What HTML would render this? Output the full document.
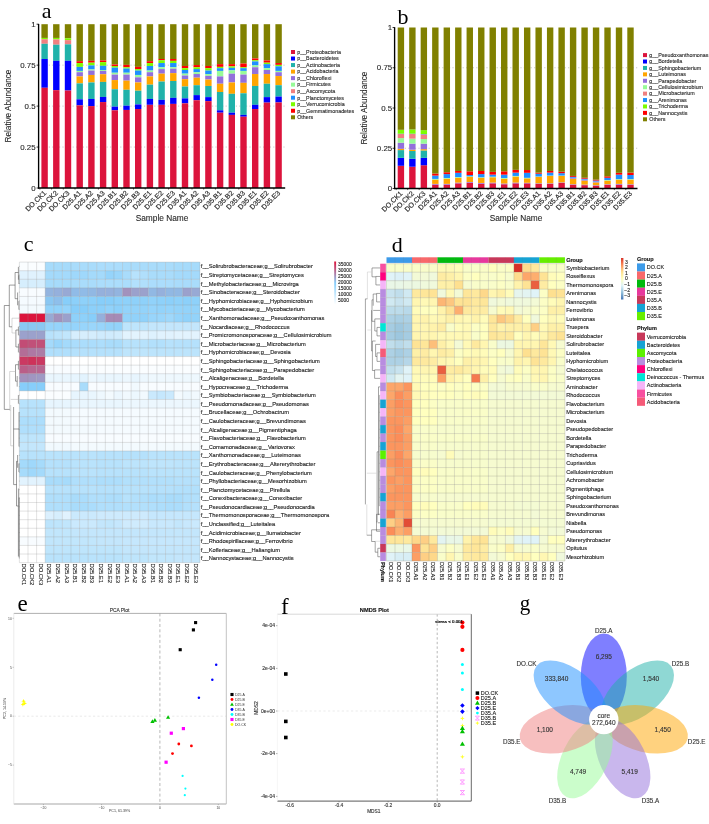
<!DOCTYPE html>
<html><head><meta charset="utf-8"><title>Figure</title>
<style>
html,body{margin:0;padding:0;background:#fff;}
body{width:709px;height:824px;overflow:hidden;font-family:"Liberation Sans",sans-serif;}
svg{display:block;filter:blur(0.35px);}
</style></head><body>
<svg width="709" height="824" viewBox="0 0 709 824">
<rect x="0" y="0" width="709" height="824" fill="#ffffff"/>
<line x1="38.60" y1="147.05" x2="286.00" y2="147.05" stroke="#b4b4b4" stroke-width="0.7" stroke-dasharray="1.2 2.2"/>
<line x1="38.60" y1="106.10" x2="286.00" y2="106.10" stroke="#b4b4b4" stroke-width="0.7" stroke-dasharray="1.2 2.2"/>
<line x1="38.60" y1="65.15" x2="286.00" y2="65.15" stroke="#b4b4b4" stroke-width="0.7" stroke-dasharray="1.2 2.2"/>
<rect x="41.40" y="24.20" width="6.40" height="13.74" fill="#808000"/>
<rect x="41.40" y="37.94" width="6.40" height="1.28" fill="#7CFC00"/>
<rect x="41.40" y="39.22" width="6.40" height="4.58" fill="#F08080"/>
<rect x="41.40" y="43.80" width="6.40" height="15.21" fill="#20B2AA"/>
<rect x="41.40" y="59.01" width="6.40" height="28.77" fill="#0000FF"/>
<rect x="41.40" y="87.78" width="6.40" height="100.22" fill="#DC143C"/>
<rect x="53.10" y="24.20" width="6.40" height="13.74" fill="#808000"/>
<rect x="53.10" y="37.94" width="6.40" height="1.47" fill="#7CFC00"/>
<rect x="53.10" y="39.41" width="6.40" height="5.31" fill="#F08080"/>
<rect x="53.10" y="44.72" width="6.40" height="16.12" fill="#20B2AA"/>
<rect x="53.10" y="60.84" width="6.40" height="29.32" fill="#0000FF"/>
<rect x="53.10" y="90.16" width="6.40" height="97.84" fill="#DC143C"/>
<rect x="64.80" y="24.20" width="6.40" height="14.11" fill="#808000"/>
<rect x="64.80" y="38.31" width="6.40" height="1.83" fill="#7CFC00"/>
<rect x="64.80" y="40.14" width="6.40" height="4.21" fill="#F08080"/>
<rect x="64.80" y="44.35" width="6.40" height="16.49" fill="#20B2AA"/>
<rect x="64.80" y="60.84" width="6.40" height="29.68" fill="#0000FF"/>
<rect x="64.80" y="90.53" width="6.40" height="97.47" fill="#DC143C"/>
<rect x="76.50" y="24.20" width="6.40" height="37.01" fill="#808000"/>
<rect x="76.50" y="61.21" width="6.40" height="1.83" fill="#FF0000"/>
<rect x="76.50" y="63.04" width="6.40" height="3.85" fill="#7CFC00"/>
<rect x="76.50" y="66.89" width="6.40" height="4.03" fill="#1E90FF"/>
<rect x="76.50" y="70.92" width="6.40" height="1.28" fill="#98FB98"/>
<rect x="76.50" y="72.20" width="6.40" height="4.21" fill="#9370DB"/>
<rect x="76.50" y="76.42" width="6.40" height="6.96" fill="#FFA500"/>
<rect x="76.50" y="83.38" width="6.40" height="15.94" fill="#20B2AA"/>
<rect x="76.50" y="99.32" width="6.40" height="6.05" fill="#0000FF"/>
<rect x="76.50" y="105.37" width="6.40" height="82.63" fill="#DC143C"/>
<rect x="88.20" y="24.20" width="6.40" height="36.64" fill="#808000"/>
<rect x="88.20" y="60.84" width="6.40" height="1.83" fill="#FF0000"/>
<rect x="88.20" y="62.68" width="6.40" height="2.75" fill="#7CFC00"/>
<rect x="88.20" y="65.42" width="6.40" height="4.03" fill="#1E90FF"/>
<rect x="88.20" y="69.46" width="6.40" height="1.10" fill="#98FB98"/>
<rect x="88.20" y="70.56" width="6.40" height="4.40" fill="#9370DB"/>
<rect x="88.20" y="74.95" width="6.40" height="7.51" fill="#FFA500"/>
<rect x="88.20" y="82.46" width="6.40" height="16.49" fill="#20B2AA"/>
<rect x="88.20" y="98.95" width="6.40" height="7.15" fill="#0000FF"/>
<rect x="88.20" y="106.10" width="6.40" height="81.90" fill="#DC143C"/>
<rect x="99.90" y="24.20" width="6.40" height="36.28" fill="#808000"/>
<rect x="99.90" y="60.48" width="6.40" height="1.65" fill="#FF0000"/>
<rect x="99.90" y="62.13" width="6.40" height="3.66" fill="#7CFC00"/>
<rect x="99.90" y="65.79" width="6.40" height="4.21" fill="#1E90FF"/>
<rect x="99.90" y="70.01" width="6.40" height="0.92" fill="#98FB98"/>
<rect x="99.90" y="70.92" width="6.40" height="3.30" fill="#9370DB"/>
<rect x="99.90" y="74.22" width="6.40" height="7.70" fill="#FFA500"/>
<rect x="99.90" y="81.91" width="6.40" height="15.02" fill="#20B2AA"/>
<rect x="99.90" y="96.94" width="6.40" height="5.13" fill="#0000FF"/>
<rect x="99.90" y="102.07" width="6.40" height="85.93" fill="#DC143C"/>
<rect x="111.60" y="24.20" width="6.40" height="40.31" fill="#808000"/>
<rect x="111.60" y="64.51" width="6.40" height="1.47" fill="#FF0000"/>
<rect x="111.60" y="65.97" width="6.40" height="1.65" fill="#7CFC00"/>
<rect x="111.60" y="67.62" width="6.40" height="5.13" fill="#1E90FF"/>
<rect x="111.60" y="72.75" width="6.40" height="1.83" fill="#98FB98"/>
<rect x="111.60" y="74.59" width="6.40" height="5.50" fill="#9370DB"/>
<rect x="111.60" y="80.08" width="6.40" height="9.16" fill="#FFA500"/>
<rect x="111.60" y="89.24" width="6.40" height="17.41" fill="#20B2AA"/>
<rect x="111.60" y="106.65" width="6.40" height="3.66" fill="#0000FF"/>
<rect x="111.60" y="110.31" width="6.40" height="77.69" fill="#DC143C"/>
<rect x="123.30" y="24.20" width="6.40" height="40.68" fill="#808000"/>
<rect x="123.30" y="64.88" width="6.40" height="2.38" fill="#FF0000"/>
<rect x="123.30" y="67.26" width="6.40" height="1.28" fill="#7CFC00"/>
<rect x="123.30" y="68.54" width="6.40" height="4.21" fill="#1E90FF"/>
<rect x="123.30" y="72.75" width="6.40" height="1.83" fill="#98FB98"/>
<rect x="123.30" y="74.59" width="6.40" height="6.05" fill="#9370DB"/>
<rect x="123.30" y="80.63" width="6.40" height="9.16" fill="#FFA500"/>
<rect x="123.30" y="89.79" width="6.40" height="15.94" fill="#20B2AA"/>
<rect x="123.30" y="105.73" width="6.40" height="4.21" fill="#0000FF"/>
<rect x="123.30" y="109.95" width="6.40" height="78.05" fill="#DC143C"/>
<rect x="135.00" y="24.20" width="6.40" height="42.69" fill="#808000"/>
<rect x="135.00" y="66.89" width="6.40" height="2.20" fill="#FF0000"/>
<rect x="135.00" y="69.09" width="6.40" height="1.47" fill="#7CFC00"/>
<rect x="135.00" y="70.56" width="6.40" height="4.40" fill="#1E90FF"/>
<rect x="135.00" y="74.95" width="6.40" height="2.38" fill="#98FB98"/>
<rect x="135.00" y="77.33" width="6.40" height="5.13" fill="#9370DB"/>
<rect x="135.00" y="82.46" width="6.40" height="8.24" fill="#FFA500"/>
<rect x="135.00" y="90.71" width="6.40" height="13.74" fill="#20B2AA"/>
<rect x="135.00" y="104.45" width="6.40" height="4.58" fill="#0000FF"/>
<rect x="135.00" y="109.03" width="6.40" height="78.97" fill="#DC143C"/>
<rect x="146.70" y="24.20" width="6.40" height="37.01" fill="#808000"/>
<rect x="146.70" y="61.21" width="6.40" height="1.83" fill="#FF0000"/>
<rect x="146.70" y="63.04" width="6.40" height="2.93" fill="#7CFC00"/>
<rect x="146.70" y="65.97" width="6.40" height="4.58" fill="#1E90FF"/>
<rect x="146.70" y="70.56" width="6.40" height="1.65" fill="#98FB98"/>
<rect x="146.70" y="72.20" width="6.40" height="4.21" fill="#9370DB"/>
<rect x="146.70" y="76.42" width="6.40" height="8.24" fill="#FFA500"/>
<rect x="146.70" y="84.66" width="6.40" height="14.29" fill="#20B2AA"/>
<rect x="146.70" y="98.95" width="6.40" height="5.86" fill="#0000FF"/>
<rect x="146.70" y="104.82" width="6.40" height="83.18" fill="#DC143C"/>
<rect x="158.40" y="24.20" width="6.40" height="34.81" fill="#808000"/>
<rect x="158.40" y="59.01" width="6.40" height="1.28" fill="#FF0000"/>
<rect x="158.40" y="60.29" width="6.40" height="2.75" fill="#7CFC00"/>
<rect x="158.40" y="63.04" width="6.40" height="4.21" fill="#1E90FF"/>
<rect x="158.40" y="67.26" width="6.40" height="1.83" fill="#98FB98"/>
<rect x="158.40" y="69.09" width="6.40" height="4.58" fill="#9370DB"/>
<rect x="158.40" y="73.67" width="6.40" height="7.88" fill="#FFA500"/>
<rect x="158.40" y="81.55" width="6.40" height="18.32" fill="#20B2AA"/>
<rect x="158.40" y="99.87" width="6.40" height="4.95" fill="#0000FF"/>
<rect x="158.40" y="104.82" width="6.40" height="83.18" fill="#DC143C"/>
<rect x="170.10" y="24.20" width="6.40" height="34.81" fill="#808000"/>
<rect x="170.10" y="59.01" width="6.40" height="1.83" fill="#FF0000"/>
<rect x="170.10" y="60.84" width="6.40" height="2.20" fill="#7CFC00"/>
<rect x="170.10" y="63.04" width="6.40" height="4.21" fill="#1E90FF"/>
<rect x="170.10" y="67.26" width="6.40" height="1.47" fill="#98FB98"/>
<rect x="170.10" y="68.72" width="6.40" height="4.40" fill="#9370DB"/>
<rect x="170.10" y="73.12" width="6.40" height="7.88" fill="#FFA500"/>
<rect x="170.10" y="81.00" width="6.40" height="16.86" fill="#20B2AA"/>
<rect x="170.10" y="97.86" width="6.40" height="6.05" fill="#0000FF"/>
<rect x="170.10" y="103.90" width="6.40" height="84.10" fill="#DC143C"/>
<rect x="181.80" y="24.20" width="6.40" height="41.77" fill="#808000"/>
<rect x="181.80" y="65.97" width="6.40" height="2.20" fill="#FF0000"/>
<rect x="181.80" y="68.17" width="6.40" height="1.83" fill="#7CFC00"/>
<rect x="181.80" y="70.01" width="6.40" height="3.66" fill="#1E90FF"/>
<rect x="181.80" y="73.67" width="6.40" height="1.83" fill="#98FB98"/>
<rect x="181.80" y="75.50" width="6.40" height="3.66" fill="#9370DB"/>
<rect x="181.80" y="79.17" width="6.40" height="7.33" fill="#FFA500"/>
<rect x="181.80" y="86.50" width="6.40" height="11.91" fill="#20B2AA"/>
<rect x="181.80" y="98.40" width="6.40" height="4.95" fill="#0000FF"/>
<rect x="181.80" y="103.35" width="6.40" height="84.65" fill="#DC143C"/>
<rect x="193.50" y="24.20" width="6.40" height="40.86" fill="#808000"/>
<rect x="193.50" y="65.06" width="6.40" height="2.20" fill="#FF0000"/>
<rect x="193.50" y="67.26" width="6.40" height="1.83" fill="#7CFC00"/>
<rect x="193.50" y="69.09" width="6.40" height="3.11" fill="#1E90FF"/>
<rect x="193.50" y="72.20" width="6.40" height="1.83" fill="#98FB98"/>
<rect x="193.50" y="74.04" width="6.40" height="3.66" fill="#9370DB"/>
<rect x="193.50" y="77.70" width="6.40" height="7.51" fill="#FFA500"/>
<rect x="193.50" y="85.21" width="6.40" height="9.89" fill="#20B2AA"/>
<rect x="193.50" y="95.11" width="6.40" height="5.13" fill="#0000FF"/>
<rect x="193.50" y="100.24" width="6.40" height="87.76" fill="#DC143C"/>
<rect x="205.20" y="24.20" width="6.40" height="41.77" fill="#808000"/>
<rect x="205.20" y="65.97" width="6.40" height="2.20" fill="#FF0000"/>
<rect x="205.20" y="68.17" width="6.40" height="2.38" fill="#7CFC00"/>
<rect x="205.20" y="70.56" width="6.40" height="3.48" fill="#1E90FF"/>
<rect x="205.20" y="74.04" width="6.40" height="1.83" fill="#98FB98"/>
<rect x="205.20" y="75.87" width="6.40" height="3.66" fill="#9370DB"/>
<rect x="205.20" y="79.53" width="6.40" height="6.41" fill="#FFA500"/>
<rect x="205.20" y="85.95" width="6.40" height="11.18" fill="#20B2AA"/>
<rect x="205.20" y="97.12" width="6.40" height="4.03" fill="#0000FF"/>
<rect x="205.20" y="101.15" width="6.40" height="86.85" fill="#DC143C"/>
<rect x="216.90" y="24.20" width="6.40" height="39.94" fill="#808000"/>
<rect x="216.90" y="64.14" width="6.40" height="2.75" fill="#FF0000"/>
<rect x="216.90" y="66.89" width="6.40" height="1.28" fill="#7CFC00"/>
<rect x="216.90" y="68.17" width="6.40" height="2.75" fill="#1E90FF"/>
<rect x="216.90" y="70.92" width="6.40" height="5.50" fill="#98FB98"/>
<rect x="216.90" y="76.42" width="6.40" height="7.33" fill="#9370DB"/>
<rect x="216.90" y="83.75" width="6.40" height="8.24" fill="#FFA500"/>
<rect x="216.90" y="91.99" width="6.40" height="18.32" fill="#20B2AA"/>
<rect x="216.90" y="110.31" width="6.40" height="2.38" fill="#0000FF"/>
<rect x="216.90" y="112.70" width="6.40" height="75.30" fill="#DC143C"/>
<rect x="228.60" y="24.20" width="6.40" height="39.94" fill="#808000"/>
<rect x="228.60" y="64.14" width="6.40" height="2.20" fill="#FF0000"/>
<rect x="228.60" y="66.34" width="6.40" height="1.47" fill="#7CFC00"/>
<rect x="228.60" y="67.81" width="6.40" height="2.57" fill="#1E90FF"/>
<rect x="228.60" y="70.37" width="6.40" height="3.30" fill="#98FB98"/>
<rect x="228.60" y="73.67" width="6.40" height="8.79" fill="#9370DB"/>
<rect x="228.60" y="82.46" width="6.40" height="11.36" fill="#FFA500"/>
<rect x="228.60" y="93.82" width="6.40" height="18.87" fill="#20B2AA"/>
<rect x="228.60" y="112.70" width="6.40" height="2.20" fill="#0000FF"/>
<rect x="228.60" y="114.89" width="6.40" height="73.11" fill="#DC143C"/>
<rect x="240.30" y="24.20" width="6.40" height="39.39" fill="#808000"/>
<rect x="240.30" y="63.59" width="6.40" height="3.66" fill="#FF0000"/>
<rect x="240.30" y="67.26" width="6.40" height="0.92" fill="#7CFC00"/>
<rect x="240.30" y="68.17" width="6.40" height="2.75" fill="#1E90FF"/>
<rect x="240.30" y="70.92" width="6.40" height="3.66" fill="#98FB98"/>
<rect x="240.30" y="74.59" width="6.40" height="8.24" fill="#9370DB"/>
<rect x="240.30" y="82.83" width="6.40" height="10.44" fill="#FFA500"/>
<rect x="240.30" y="93.27" width="6.40" height="21.62" fill="#20B2AA"/>
<rect x="240.30" y="114.89" width="6.40" height="1.83" fill="#0000FF"/>
<rect x="240.30" y="116.73" width="6.40" height="71.27" fill="#DC143C"/>
<rect x="252.00" y="24.20" width="6.40" height="34.26" fill="#808000"/>
<rect x="252.00" y="58.46" width="6.40" height="1.83" fill="#FF0000"/>
<rect x="252.00" y="60.29" width="6.40" height="1.10" fill="#7CFC00"/>
<rect x="252.00" y="61.39" width="6.40" height="4.03" fill="#1E90FF"/>
<rect x="252.00" y="65.42" width="6.40" height="1.83" fill="#98FB98"/>
<rect x="252.00" y="67.26" width="6.40" height="6.78" fill="#9370DB"/>
<rect x="252.00" y="74.04" width="6.40" height="11.91" fill="#FFA500"/>
<rect x="252.00" y="85.95" width="6.40" height="18.87" fill="#20B2AA"/>
<rect x="252.00" y="104.82" width="6.40" height="4.21" fill="#0000FF"/>
<rect x="252.00" y="109.03" width="6.40" height="78.97" fill="#DC143C"/>
<rect x="263.70" y="24.20" width="6.40" height="36.28" fill="#808000"/>
<rect x="263.70" y="60.48" width="6.40" height="2.20" fill="#FF0000"/>
<rect x="263.70" y="62.68" width="6.40" height="1.47" fill="#7CFC00"/>
<rect x="263.70" y="64.14" width="6.40" height="4.03" fill="#1E90FF"/>
<rect x="263.70" y="68.17" width="6.40" height="1.83" fill="#98FB98"/>
<rect x="263.70" y="70.01" width="6.40" height="4.03" fill="#9370DB"/>
<rect x="263.70" y="74.04" width="6.40" height="9.71" fill="#FFA500"/>
<rect x="263.70" y="83.75" width="6.40" height="13.38" fill="#20B2AA"/>
<rect x="263.70" y="97.12" width="6.40" height="5.50" fill="#0000FF"/>
<rect x="263.70" y="102.62" width="6.40" height="85.38" fill="#DC143C"/>
<rect x="275.40" y="24.20" width="6.40" height="38.84" fill="#808000"/>
<rect x="275.40" y="63.04" width="6.40" height="1.83" fill="#FF0000"/>
<rect x="275.40" y="64.88" width="6.40" height="1.47" fill="#7CFC00"/>
<rect x="275.40" y="66.34" width="6.40" height="4.58" fill="#1E90FF"/>
<rect x="275.40" y="70.92" width="6.40" height="1.28" fill="#98FB98"/>
<rect x="275.40" y="72.20" width="6.40" height="3.85" fill="#9370DB"/>
<rect x="275.40" y="76.05" width="6.40" height="9.16" fill="#FFA500"/>
<rect x="275.40" y="85.21" width="6.40" height="11.36" fill="#20B2AA"/>
<rect x="275.40" y="96.57" width="6.40" height="5.86" fill="#0000FF"/>
<rect x="275.40" y="102.44" width="6.40" height="85.56" fill="#DC143C"/>
<line x1="38.60" y1="23.90" x2="38.60" y2="188.60" stroke="#000" stroke-width="1.35"/>
<line x1="38.00" y1="188.00" x2="285.20" y2="188.00" stroke="#000" stroke-width="1.3"/>
<line x1="36.60" y1="188.00" x2="38.60" y2="188.00" stroke="#000" stroke-width="0.8"/>
<text x="35.60" y="190.60" font-size="7.9" text-anchor="end" fill="#2a2a2a" font-family='"Liberation Sans", sans-serif' stroke="#2a2a2a" stroke-width="0.12">0</text>
<line x1="36.60" y1="147.05" x2="38.60" y2="147.05" stroke="#000" stroke-width="0.8"/>
<text x="35.60" y="149.65" font-size="7.9" text-anchor="end" fill="#2a2a2a" font-family='"Liberation Sans", sans-serif' stroke="#2a2a2a" stroke-width="0.12">0.25</text>
<line x1="36.60" y1="106.10" x2="38.60" y2="106.10" stroke="#000" stroke-width="0.8"/>
<text x="35.60" y="108.70" font-size="7.9" text-anchor="end" fill="#2a2a2a" font-family='"Liberation Sans", sans-serif' stroke="#2a2a2a" stroke-width="0.12">0.5</text>
<line x1="36.60" y1="65.15" x2="38.60" y2="65.15" stroke="#000" stroke-width="0.8"/>
<text x="35.60" y="67.75" font-size="7.9" text-anchor="end" fill="#2a2a2a" font-family='"Liberation Sans", sans-serif' stroke="#2a2a2a" stroke-width="0.12">0.75</text>
<line x1="36.60" y1="24.20" x2="38.60" y2="24.20" stroke="#000" stroke-width="0.8"/>
<text x="35.60" y="26.80" font-size="7.9" text-anchor="end" fill="#2a2a2a" font-family='"Liberation Sans", sans-serif' stroke="#2a2a2a" stroke-width="0.12">1</text>
<line x1="39.90" y1="188.00" x2="39.90" y2="189.60" stroke="#000" stroke-width="0.6"/>
<text x="46.70" y="193.40" font-size="7.0" text-anchor="end" fill="#2a2a2a" font-family='"Liberation Sans", sans-serif' transform="rotate(-45 46.70 193.40)" stroke="#2a2a2a" stroke-width="0.18">DO.CK1</text>
<line x1="51.60" y1="188.00" x2="51.60" y2="189.60" stroke="#000" stroke-width="0.6"/>
<text x="58.40" y="193.40" font-size="7.0" text-anchor="end" fill="#2a2a2a" font-family='"Liberation Sans", sans-serif' transform="rotate(-45 58.40 193.40)" stroke="#2a2a2a" stroke-width="0.18">DO.CK2</text>
<line x1="63.30" y1="188.00" x2="63.30" y2="189.60" stroke="#000" stroke-width="0.6"/>
<text x="70.10" y="193.40" font-size="7.0" text-anchor="end" fill="#2a2a2a" font-family='"Liberation Sans", sans-serif' transform="rotate(-45 70.10 193.40)" stroke="#2a2a2a" stroke-width="0.18">DO.CK3</text>
<line x1="75.00" y1="188.00" x2="75.00" y2="189.60" stroke="#000" stroke-width="0.6"/>
<text x="81.80" y="193.40" font-size="7.0" text-anchor="end" fill="#2a2a2a" font-family='"Liberation Sans", sans-serif' transform="rotate(-45 81.80 193.40)" stroke="#2a2a2a" stroke-width="0.18">D25.A1</text>
<line x1="86.70" y1="188.00" x2="86.70" y2="189.60" stroke="#000" stroke-width="0.6"/>
<text x="93.50" y="193.40" font-size="7.0" text-anchor="end" fill="#2a2a2a" font-family='"Liberation Sans", sans-serif' transform="rotate(-45 93.50 193.40)" stroke="#2a2a2a" stroke-width="0.18">D25.A2</text>
<line x1="98.40" y1="188.00" x2="98.40" y2="189.60" stroke="#000" stroke-width="0.6"/>
<text x="105.20" y="193.40" font-size="7.0" text-anchor="end" fill="#2a2a2a" font-family='"Liberation Sans", sans-serif' transform="rotate(-45 105.20 193.40)" stroke="#2a2a2a" stroke-width="0.18">D25.A3</text>
<line x1="110.10" y1="188.00" x2="110.10" y2="189.60" stroke="#000" stroke-width="0.6"/>
<text x="116.90" y="193.40" font-size="7.0" text-anchor="end" fill="#2a2a2a" font-family='"Liberation Sans", sans-serif' transform="rotate(-45 116.90 193.40)" stroke="#2a2a2a" stroke-width="0.18">D25.B1</text>
<line x1="121.80" y1="188.00" x2="121.80" y2="189.60" stroke="#000" stroke-width="0.6"/>
<text x="128.60" y="193.40" font-size="7.0" text-anchor="end" fill="#2a2a2a" font-family='"Liberation Sans", sans-serif' transform="rotate(-45 128.60 193.40)" stroke="#2a2a2a" stroke-width="0.18">D25.B2</text>
<line x1="133.50" y1="188.00" x2="133.50" y2="189.60" stroke="#000" stroke-width="0.6"/>
<text x="140.30" y="193.40" font-size="7.0" text-anchor="end" fill="#2a2a2a" font-family='"Liberation Sans", sans-serif' transform="rotate(-45 140.30 193.40)" stroke="#2a2a2a" stroke-width="0.18">D25.B3</text>
<line x1="145.20" y1="188.00" x2="145.20" y2="189.60" stroke="#000" stroke-width="0.6"/>
<text x="152.00" y="193.40" font-size="7.0" text-anchor="end" fill="#2a2a2a" font-family='"Liberation Sans", sans-serif' transform="rotate(-45 152.00 193.40)" stroke="#2a2a2a" stroke-width="0.18">D25.E1</text>
<line x1="156.90" y1="188.00" x2="156.90" y2="189.60" stroke="#000" stroke-width="0.6"/>
<text x="163.70" y="193.40" font-size="7.0" text-anchor="end" fill="#2a2a2a" font-family='"Liberation Sans", sans-serif' transform="rotate(-45 163.70 193.40)" stroke="#2a2a2a" stroke-width="0.18">D25.E2</text>
<line x1="168.60" y1="188.00" x2="168.60" y2="189.60" stroke="#000" stroke-width="0.6"/>
<text x="175.40" y="193.40" font-size="7.0" text-anchor="end" fill="#2a2a2a" font-family='"Liberation Sans", sans-serif' transform="rotate(-45 175.40 193.40)" stroke="#2a2a2a" stroke-width="0.18">D25.E3</text>
<line x1="180.30" y1="188.00" x2="180.30" y2="189.60" stroke="#000" stroke-width="0.6"/>
<text x="187.10" y="193.40" font-size="7.0" text-anchor="end" fill="#2a2a2a" font-family='"Liberation Sans", sans-serif' transform="rotate(-45 187.10 193.40)" stroke="#2a2a2a" stroke-width="0.18">D35.A1</text>
<line x1="192.00" y1="188.00" x2="192.00" y2="189.60" stroke="#000" stroke-width="0.6"/>
<text x="198.80" y="193.40" font-size="7.0" text-anchor="end" fill="#2a2a2a" font-family='"Liberation Sans", sans-serif' transform="rotate(-45 198.80 193.40)" stroke="#2a2a2a" stroke-width="0.18">D35.A2</text>
<line x1="203.70" y1="188.00" x2="203.70" y2="189.60" stroke="#000" stroke-width="0.6"/>
<text x="210.50" y="193.40" font-size="7.0" text-anchor="end" fill="#2a2a2a" font-family='"Liberation Sans", sans-serif' transform="rotate(-45 210.50 193.40)" stroke="#2a2a2a" stroke-width="0.18">D35.A3</text>
<line x1="215.40" y1="188.00" x2="215.40" y2="189.60" stroke="#000" stroke-width="0.6"/>
<text x="222.20" y="193.40" font-size="7.0" text-anchor="end" fill="#2a2a2a" font-family='"Liberation Sans", sans-serif' transform="rotate(-45 222.20 193.40)" stroke="#2a2a2a" stroke-width="0.18">D35.B1</text>
<line x1="227.10" y1="188.00" x2="227.10" y2="189.60" stroke="#000" stroke-width="0.6"/>
<text x="233.90" y="193.40" font-size="7.0" text-anchor="end" fill="#2a2a2a" font-family='"Liberation Sans", sans-serif' transform="rotate(-45 233.90 193.40)" stroke="#2a2a2a" stroke-width="0.18">D35.B2</text>
<line x1="238.80" y1="188.00" x2="238.80" y2="189.60" stroke="#000" stroke-width="0.6"/>
<text x="245.60" y="193.40" font-size="7.0" text-anchor="end" fill="#2a2a2a" font-family='"Liberation Sans", sans-serif' transform="rotate(-45 245.60 193.40)" stroke="#2a2a2a" stroke-width="0.18">D35.B3</text>
<line x1="250.50" y1="188.00" x2="250.50" y2="189.60" stroke="#000" stroke-width="0.6"/>
<text x="257.30" y="193.40" font-size="7.0" text-anchor="end" fill="#2a2a2a" font-family='"Liberation Sans", sans-serif' transform="rotate(-45 257.30 193.40)" stroke="#2a2a2a" stroke-width="0.18">D35.E1</text>
<line x1="262.20" y1="188.00" x2="262.20" y2="189.60" stroke="#000" stroke-width="0.6"/>
<text x="269.00" y="193.40" font-size="7.0" text-anchor="end" fill="#2a2a2a" font-family='"Liberation Sans", sans-serif' transform="rotate(-45 269.00 193.40)" stroke="#2a2a2a" stroke-width="0.18">D35.E2</text>
<line x1="273.90" y1="188.00" x2="273.90" y2="189.60" stroke="#000" stroke-width="0.6"/>
<text x="280.70" y="193.40" font-size="7.0" text-anchor="end" fill="#2a2a2a" font-family='"Liberation Sans", sans-serif' transform="rotate(-45 280.70 193.40)" stroke="#2a2a2a" stroke-width="0.18">D35.E3</text>
<text x="11.00" y="106.00" font-size="8.2" text-anchor="middle" fill="#2a2a2a" font-family='"Liberation Sans", sans-serif' transform="rotate(-90 11.00 106.00)" stroke="#2a2a2a" stroke-width="0.12">Relative Abundance</text>
<text x="162.00" y="221.00" font-size="8.3" text-anchor="middle" fill="#2a2a2a" font-family='"Liberation Sans", sans-serif' stroke="#2a2a2a" stroke-width="0.12">Sample Name</text>
<text x="41.70" y="18.40" font-size="22" text-anchor="start" fill="#000" font-family='"Liberation Serif", serif'>a</text>
<rect x="291.00" y="50.00" width="4.00" height="4.00" fill="#DC143C"/>
<text x="297.20" y="53.80" font-size="5.35" text-anchor="start" fill="#2a2a2a" font-family='"Liberation Sans", sans-serif' stroke="#2a2a2a" stroke-width="0.12">p__Proteobacteria</text>
<rect x="291.00" y="56.53" width="4.00" height="4.00" fill="#0000FF"/>
<text x="297.20" y="60.33" font-size="5.35" text-anchor="start" fill="#2a2a2a" font-family='"Liberation Sans", sans-serif' stroke="#2a2a2a" stroke-width="0.12">p__Bacteroidetes</text>
<rect x="291.00" y="63.06" width="4.00" height="4.00" fill="#20B2AA"/>
<text x="297.20" y="66.86" font-size="5.35" text-anchor="start" fill="#2a2a2a" font-family='"Liberation Sans", sans-serif' stroke="#2a2a2a" stroke-width="0.12">p__Actinobacteria</text>
<rect x="291.00" y="69.59" width="4.00" height="4.00" fill="#FFA500"/>
<text x="297.20" y="73.39" font-size="5.35" text-anchor="start" fill="#2a2a2a" font-family='"Liberation Sans", sans-serif' stroke="#2a2a2a" stroke-width="0.12">p__Acidobacteria</text>
<rect x="291.00" y="76.12" width="4.00" height="4.00" fill="#9370DB"/>
<text x="297.20" y="79.92" font-size="5.35" text-anchor="start" fill="#2a2a2a" font-family='"Liberation Sans", sans-serif' stroke="#2a2a2a" stroke-width="0.12">p__Chloroflexi</text>
<rect x="291.00" y="82.65" width="4.00" height="4.00" fill="#98FB98"/>
<text x="297.20" y="86.45" font-size="5.35" text-anchor="start" fill="#2a2a2a" font-family='"Liberation Sans", sans-serif' stroke="#2a2a2a" stroke-width="0.12">p__Firmicutes</text>
<rect x="291.00" y="89.18" width="4.00" height="4.00" fill="#F08080"/>
<text x="297.20" y="92.98" font-size="5.35" text-anchor="start" fill="#2a2a2a" font-family='"Liberation Sans", sans-serif' stroke="#2a2a2a" stroke-width="0.12">p__Ascomycota</text>
<rect x="291.00" y="95.71" width="4.00" height="4.00" fill="#1E90FF"/>
<text x="297.20" y="99.51" font-size="5.35" text-anchor="start" fill="#2a2a2a" font-family='"Liberation Sans", sans-serif' stroke="#2a2a2a" stroke-width="0.12">p__Planctomycetes</text>
<rect x="291.00" y="102.24" width="4.00" height="4.00" fill="#7CFC00"/>
<text x="297.20" y="106.04" font-size="5.35" text-anchor="start" fill="#2a2a2a" font-family='"Liberation Sans", sans-serif' stroke="#2a2a2a" stroke-width="0.12">p__Verrucomicrobia</text>
<rect x="291.00" y="108.77" width="4.00" height="4.00" fill="#FF0000"/>
<text x="297.20" y="112.57" font-size="5.35" text-anchor="start" fill="#2a2a2a" font-family='"Liberation Sans", sans-serif' stroke="#2a2a2a" stroke-width="0.12">p__Gemmatimonadetes</text>
<rect x="291.00" y="115.30" width="4.00" height="4.00" fill="#808000"/>
<text x="297.20" y="119.10" font-size="5.35" text-anchor="start" fill="#2a2a2a" font-family='"Liberation Sans", sans-serif' stroke="#2a2a2a" stroke-width="0.12">Others</text>
<line x1="394.60" y1="148.25" x2="638.00" y2="148.25" stroke="#b4b4b4" stroke-width="0.7" stroke-dasharray="1.2 2.2"/>
<line x1="394.60" y1="108.00" x2="638.00" y2="108.00" stroke="#b4b4b4" stroke-width="0.7" stroke-dasharray="1.2 2.2"/>
<line x1="394.60" y1="67.75" x2="638.00" y2="67.75" stroke="#b4b4b4" stroke-width="0.7" stroke-dasharray="1.2 2.2"/>
<rect x="397.70" y="165.79" width="6.40" height="22.71" fill="#DC143C"/>
<rect x="397.70" y="157.85" width="6.40" height="7.94" fill="#0000FF"/>
<rect x="397.70" y="150.10" width="6.40" height="7.75" fill="#20B2AA"/>
<rect x="397.70" y="148.80" width="6.40" height="1.29" fill="#FFA500"/>
<rect x="397.70" y="142.71" width="6.40" height="6.09" fill="#9370DB"/>
<rect x="397.70" y="138.10" width="6.40" height="4.62" fill="#98FB98"/>
<rect x="397.70" y="134.03" width="6.40" height="4.06" fill="#F08080"/>
<rect x="397.70" y="133.66" width="6.40" height="0.37" fill="#1E90FF"/>
<rect x="397.70" y="129.79" width="6.40" height="3.88" fill="#7CFC00"/>
<rect x="397.70" y="27.50" width="6.40" height="102.29" fill="#808000"/>
<rect x="409.18" y="166.71" width="6.40" height="21.79" fill="#DC143C"/>
<rect x="409.18" y="158.77" width="6.40" height="7.94" fill="#0000FF"/>
<rect x="409.18" y="151.02" width="6.40" height="7.75" fill="#20B2AA"/>
<rect x="409.18" y="149.73" width="6.40" height="1.29" fill="#FFA500"/>
<rect x="409.18" y="143.63" width="6.40" height="6.09" fill="#9370DB"/>
<rect x="409.18" y="138.65" width="6.40" height="4.99" fill="#98FB98"/>
<rect x="409.18" y="134.03" width="6.40" height="4.62" fill="#F08080"/>
<rect x="409.18" y="133.66" width="6.40" height="0.37" fill="#1E90FF"/>
<rect x="409.18" y="129.42" width="6.40" height="4.25" fill="#7CFC00"/>
<rect x="409.18" y="27.50" width="6.40" height="101.92" fill="#808000"/>
<rect x="420.66" y="165.24" width="6.40" height="23.26" fill="#DC143C"/>
<rect x="420.66" y="157.85" width="6.40" height="7.39" fill="#0000FF"/>
<rect x="420.66" y="150.47" width="6.40" height="7.39" fill="#20B2AA"/>
<rect x="420.66" y="149.17" width="6.40" height="1.29" fill="#FFA500"/>
<rect x="420.66" y="143.63" width="6.40" height="5.54" fill="#9370DB"/>
<rect x="420.66" y="139.02" width="6.40" height="4.62" fill="#98FB98"/>
<rect x="420.66" y="134.40" width="6.40" height="4.62" fill="#F08080"/>
<rect x="420.66" y="134.03" width="6.40" height="0.37" fill="#1E90FF"/>
<rect x="420.66" y="130.16" width="6.40" height="3.88" fill="#7CFC00"/>
<rect x="420.66" y="27.50" width="6.40" height="102.66" fill="#808000"/>
<rect x="432.14" y="184.62" width="6.40" height="3.88" fill="#DC143C"/>
<rect x="432.14" y="183.88" width="6.40" height="0.74" fill="#9370DB"/>
<rect x="432.14" y="179.64" width="6.40" height="4.25" fill="#FFA500"/>
<rect x="432.14" y="178.90" width="6.40" height="0.74" fill="#98FB98"/>
<rect x="432.14" y="175.58" width="6.40" height="3.32" fill="#1E90FF"/>
<rect x="432.14" y="173.54" width="6.40" height="2.03" fill="#FF0000"/>
<rect x="432.14" y="27.50" width="6.40" height="146.04" fill="#808000"/>
<rect x="443.62" y="184.62" width="6.40" height="3.88" fill="#DC143C"/>
<rect x="443.62" y="183.88" width="6.40" height="0.74" fill="#9370DB"/>
<rect x="443.62" y="178.71" width="6.40" height="5.17" fill="#FFA500"/>
<rect x="443.62" y="177.98" width="6.40" height="0.74" fill="#98FB98"/>
<rect x="443.62" y="174.10" width="6.40" height="3.88" fill="#1E90FF"/>
<rect x="443.62" y="172.25" width="6.40" height="1.85" fill="#FF0000"/>
<rect x="443.62" y="27.50" width="6.40" height="144.75" fill="#808000"/>
<rect x="455.10" y="183.33" width="6.40" height="5.17" fill="#DC143C"/>
<rect x="455.10" y="182.59" width="6.40" height="0.74" fill="#9370DB"/>
<rect x="455.10" y="177.79" width="6.40" height="4.80" fill="#FFA500"/>
<rect x="455.10" y="177.05" width="6.40" height="0.74" fill="#98FB98"/>
<rect x="455.10" y="172.81" width="6.40" height="4.25" fill="#1E90FF"/>
<rect x="455.10" y="170.96" width="6.40" height="1.85" fill="#FF0000"/>
<rect x="455.10" y="27.50" width="6.40" height="143.46" fill="#808000"/>
<rect x="466.58" y="182.78" width="6.40" height="5.72" fill="#DC143C"/>
<rect x="466.58" y="182.04" width="6.40" height="0.74" fill="#9370DB"/>
<rect x="466.58" y="176.87" width="6.40" height="5.17" fill="#FFA500"/>
<rect x="466.58" y="176.31" width="6.40" height="0.55" fill="#98FB98"/>
<rect x="466.58" y="175.02" width="6.40" height="1.29" fill="#1E90FF"/>
<rect x="466.58" y="171.33" width="6.40" height="3.69" fill="#FF0000"/>
<rect x="466.58" y="27.50" width="6.40" height="143.83" fill="#808000"/>
<rect x="478.06" y="183.70" width="6.40" height="4.80" fill="#DC143C"/>
<rect x="478.06" y="182.96" width="6.40" height="0.74" fill="#9370DB"/>
<rect x="478.06" y="177.79" width="6.40" height="5.17" fill="#FFA500"/>
<rect x="478.06" y="177.24" width="6.40" height="0.55" fill="#98FB98"/>
<rect x="478.06" y="174.10" width="6.40" height="3.14" fill="#1E90FF"/>
<rect x="478.06" y="170.96" width="6.40" height="3.14" fill="#FF0000"/>
<rect x="478.06" y="27.50" width="6.40" height="143.46" fill="#808000"/>
<rect x="489.54" y="183.33" width="6.40" height="5.17" fill="#DC143C"/>
<rect x="489.54" y="182.59" width="6.40" height="0.74" fill="#9370DB"/>
<rect x="489.54" y="177.24" width="6.40" height="5.35" fill="#FFA500"/>
<rect x="489.54" y="176.68" width="6.40" height="0.55" fill="#98FB98"/>
<rect x="489.54" y="174.65" width="6.40" height="2.03" fill="#1E90FF"/>
<rect x="489.54" y="171.88" width="6.40" height="2.77" fill="#FF0000"/>
<rect x="489.54" y="27.50" width="6.40" height="144.38" fill="#808000"/>
<rect x="501.02" y="184.25" width="6.40" height="4.25" fill="#DC143C"/>
<rect x="501.02" y="183.51" width="6.40" height="0.74" fill="#9370DB"/>
<rect x="501.02" y="178.71" width="6.40" height="4.80" fill="#FFA500"/>
<rect x="501.02" y="177.98" width="6.40" height="0.74" fill="#98FB98"/>
<rect x="501.02" y="174.65" width="6.40" height="3.32" fill="#1E90FF"/>
<rect x="501.02" y="171.33" width="6.40" height="3.32" fill="#FF0000"/>
<rect x="501.02" y="27.50" width="6.40" height="143.83" fill="#808000"/>
<rect x="512.50" y="183.33" width="6.40" height="5.17" fill="#DC143C"/>
<rect x="512.50" y="182.59" width="6.40" height="0.74" fill="#9370DB"/>
<rect x="512.50" y="176.50" width="6.40" height="6.09" fill="#FFA500"/>
<rect x="512.50" y="175.94" width="6.40" height="0.55" fill="#98FB98"/>
<rect x="512.50" y="172.62" width="6.40" height="3.32" fill="#1E90FF"/>
<rect x="512.50" y="169.85" width="6.40" height="2.77" fill="#FF0000"/>
<rect x="512.50" y="27.50" width="6.40" height="142.35" fill="#808000"/>
<rect x="523.98" y="183.33" width="6.40" height="5.17" fill="#DC143C"/>
<rect x="523.98" y="182.78" width="6.40" height="0.55" fill="#9370DB"/>
<rect x="523.98" y="178.35" width="6.40" height="4.43" fill="#FFA500"/>
<rect x="523.98" y="177.79" width="6.40" height="0.55" fill="#98FB98"/>
<rect x="523.98" y="172.81" width="6.40" height="4.99" fill="#1E90FF"/>
<rect x="523.98" y="170.04" width="6.40" height="2.77" fill="#FF0000"/>
<rect x="523.98" y="27.50" width="6.40" height="142.54" fill="#808000"/>
<rect x="535.46" y="183.88" width="6.40" height="4.62" fill="#DC143C"/>
<rect x="535.46" y="183.33" width="6.40" height="0.55" fill="#9370DB"/>
<rect x="535.46" y="176.87" width="6.40" height="6.46" fill="#FFA500"/>
<rect x="535.46" y="176.50" width="6.40" height="0.37" fill="#98FB98"/>
<rect x="535.46" y="173.73" width="6.40" height="2.77" fill="#1E90FF"/>
<rect x="535.46" y="172.62" width="6.40" height="1.11" fill="#FF0000"/>
<rect x="535.46" y="27.50" width="6.40" height="145.12" fill="#808000"/>
<rect x="546.94" y="183.88" width="6.40" height="4.62" fill="#DC143C"/>
<rect x="546.94" y="183.33" width="6.40" height="0.55" fill="#9370DB"/>
<rect x="546.94" y="175.94" width="6.40" height="7.39" fill="#FFA500"/>
<rect x="546.94" y="175.58" width="6.40" height="0.37" fill="#98FB98"/>
<rect x="546.94" y="172.62" width="6.40" height="2.95" fill="#1E90FF"/>
<rect x="546.94" y="170.96" width="6.40" height="1.66" fill="#FF0000"/>
<rect x="546.94" y="27.50" width="6.40" height="143.46" fill="#808000"/>
<rect x="558.42" y="182.96" width="6.40" height="5.54" fill="#DC143C"/>
<rect x="558.42" y="182.41" width="6.40" height="0.55" fill="#9370DB"/>
<rect x="558.42" y="175.94" width="6.40" height="6.46" fill="#FFA500"/>
<rect x="558.42" y="175.58" width="6.40" height="0.37" fill="#98FB98"/>
<rect x="558.42" y="173.18" width="6.40" height="2.40" fill="#1E90FF"/>
<rect x="558.42" y="171.70" width="6.40" height="1.48" fill="#FF0000"/>
<rect x="558.42" y="27.50" width="6.40" height="144.20" fill="#808000"/>
<rect x="569.90" y="184.81" width="6.40" height="3.69" fill="#DC143C"/>
<rect x="569.90" y="184.25" width="6.40" height="0.55" fill="#9370DB"/>
<rect x="569.90" y="178.71" width="6.40" height="5.54" fill="#FFA500"/>
<rect x="569.90" y="177.79" width="6.40" height="0.92" fill="#9370DB"/>
<rect x="569.90" y="176.87" width="6.40" height="0.92" fill="#1E90FF"/>
<rect x="569.90" y="175.94" width="6.40" height="0.92" fill="#FF0000"/>
<rect x="569.90" y="27.50" width="6.40" height="148.44" fill="#808000"/>
<rect x="581.38" y="185.18" width="6.40" height="3.32" fill="#DC143C"/>
<rect x="581.38" y="184.62" width="6.40" height="0.55" fill="#9370DB"/>
<rect x="581.38" y="180.56" width="6.40" height="4.06" fill="#FFA500"/>
<rect x="581.38" y="179.64" width="6.40" height="0.92" fill="#9370DB"/>
<rect x="581.38" y="178.71" width="6.40" height="0.92" fill="#1E90FF"/>
<rect x="581.38" y="177.79" width="6.40" height="0.92" fill="#FF0000"/>
<rect x="581.38" y="27.50" width="6.40" height="150.29" fill="#808000"/>
<rect x="592.86" y="185.73" width="6.40" height="2.77" fill="#DC143C"/>
<rect x="592.86" y="185.18" width="6.40" height="0.55" fill="#9370DB"/>
<rect x="592.86" y="182.41" width="6.40" height="2.77" fill="#FFA500"/>
<rect x="592.86" y="181.48" width="6.40" height="0.92" fill="#9370DB"/>
<rect x="592.86" y="180.56" width="6.40" height="0.92" fill="#1E90FF"/>
<rect x="592.86" y="179.64" width="6.40" height="0.92" fill="#FF0000"/>
<rect x="592.86" y="27.50" width="6.40" height="152.14" fill="#808000"/>
<rect x="604.34" y="184.81" width="6.40" height="3.69" fill="#DC143C"/>
<rect x="604.34" y="184.25" width="6.40" height="0.55" fill="#9370DB"/>
<rect x="604.34" y="180.56" width="6.40" height="3.69" fill="#FFA500"/>
<rect x="604.34" y="180.01" width="6.40" height="0.55" fill="#98FB98"/>
<rect x="604.34" y="177.79" width="6.40" height="2.22" fill="#1E90FF"/>
<rect x="604.34" y="176.31" width="6.40" height="1.48" fill="#FF0000"/>
<rect x="604.34" y="27.50" width="6.40" height="148.81" fill="#808000"/>
<rect x="615.82" y="184.62" width="6.40" height="3.88" fill="#DC143C"/>
<rect x="615.82" y="183.88" width="6.40" height="0.74" fill="#9370DB"/>
<rect x="615.82" y="179.64" width="6.40" height="4.25" fill="#FFA500"/>
<rect x="615.82" y="179.08" width="6.40" height="0.55" fill="#98FB98"/>
<rect x="615.82" y="174.65" width="6.40" height="4.43" fill="#1E90FF"/>
<rect x="615.82" y="172.81" width="6.40" height="1.85" fill="#FF0000"/>
<rect x="615.82" y="27.50" width="6.40" height="145.31" fill="#808000"/>
<rect x="627.30" y="184.81" width="6.40" height="3.69" fill="#DC143C"/>
<rect x="627.30" y="184.25" width="6.40" height="0.55" fill="#9370DB"/>
<rect x="627.30" y="179.64" width="6.40" height="4.62" fill="#FFA500"/>
<rect x="627.30" y="179.08" width="6.40" height="0.55" fill="#98FB98"/>
<rect x="627.30" y="175.02" width="6.40" height="4.06" fill="#1E90FF"/>
<rect x="627.30" y="172.62" width="6.40" height="2.40" fill="#FF0000"/>
<rect x="627.30" y="27.50" width="6.40" height="145.12" fill="#808000"/>
<line x1="394.60" y1="27.20" x2="394.60" y2="189.10" stroke="#000" stroke-width="1.35"/>
<line x1="394.00" y1="188.50" x2="637.50" y2="188.50" stroke="#000" stroke-width="1.3"/>
<line x1="392.60" y1="188.50" x2="394.60" y2="188.50" stroke="#000" stroke-width="0.8"/>
<text x="392.20" y="191.10" font-size="7.9" text-anchor="end" fill="#2a2a2a" font-family='"Liberation Sans", sans-serif' stroke="#2a2a2a" stroke-width="0.12">0</text>
<line x1="392.60" y1="148.25" x2="394.60" y2="148.25" stroke="#000" stroke-width="0.8"/>
<text x="392.20" y="150.85" font-size="7.9" text-anchor="end" fill="#2a2a2a" font-family='"Liberation Sans", sans-serif' stroke="#2a2a2a" stroke-width="0.12">0.25</text>
<line x1="392.60" y1="108.00" x2="394.60" y2="108.00" stroke="#000" stroke-width="0.8"/>
<text x="392.20" y="110.60" font-size="7.9" text-anchor="end" fill="#2a2a2a" font-family='"Liberation Sans", sans-serif' stroke="#2a2a2a" stroke-width="0.12">0.5</text>
<line x1="392.60" y1="67.75" x2="394.60" y2="67.75" stroke="#000" stroke-width="0.8"/>
<text x="392.20" y="70.35" font-size="7.9" text-anchor="end" fill="#2a2a2a" font-family='"Liberation Sans", sans-serif' stroke="#2a2a2a" stroke-width="0.12">0.75</text>
<line x1="392.60" y1="27.50" x2="394.60" y2="27.50" stroke="#000" stroke-width="0.8"/>
<text x="392.20" y="30.10" font-size="7.9" text-anchor="end" fill="#2a2a2a" font-family='"Liberation Sans", sans-serif' stroke="#2a2a2a" stroke-width="0.12">1</text>
<line x1="396.20" y1="188.50" x2="396.20" y2="190.10" stroke="#000" stroke-width="0.6"/>
<text x="403.00" y="193.90" font-size="7.0" text-anchor="end" fill="#2a2a2a" font-family='"Liberation Sans", sans-serif' transform="rotate(-45 403.00 193.90)" stroke="#2a2a2a" stroke-width="0.18">DO.CK1</text>
<line x1="407.68" y1="188.50" x2="407.68" y2="190.10" stroke="#000" stroke-width="0.6"/>
<text x="414.48" y="193.90" font-size="7.0" text-anchor="end" fill="#2a2a2a" font-family='"Liberation Sans", sans-serif' transform="rotate(-45 414.48 193.90)" stroke="#2a2a2a" stroke-width="0.18">DO.CK2</text>
<line x1="419.16" y1="188.50" x2="419.16" y2="190.10" stroke="#000" stroke-width="0.6"/>
<text x="425.96" y="193.90" font-size="7.0" text-anchor="end" fill="#2a2a2a" font-family='"Liberation Sans", sans-serif' transform="rotate(-45 425.96 193.90)" stroke="#2a2a2a" stroke-width="0.18">DO.CK3</text>
<line x1="430.64" y1="188.50" x2="430.64" y2="190.10" stroke="#000" stroke-width="0.6"/>
<text x="437.44" y="193.90" font-size="7.0" text-anchor="end" fill="#2a2a2a" font-family='"Liberation Sans", sans-serif' transform="rotate(-45 437.44 193.90)" stroke="#2a2a2a" stroke-width="0.18">D25.A1</text>
<line x1="442.12" y1="188.50" x2="442.12" y2="190.10" stroke="#000" stroke-width="0.6"/>
<text x="448.92" y="193.90" font-size="7.0" text-anchor="end" fill="#2a2a2a" font-family='"Liberation Sans", sans-serif' transform="rotate(-45 448.92 193.90)" stroke="#2a2a2a" stroke-width="0.18">D25.A2</text>
<line x1="453.60" y1="188.50" x2="453.60" y2="190.10" stroke="#000" stroke-width="0.6"/>
<text x="460.40" y="193.90" font-size="7.0" text-anchor="end" fill="#2a2a2a" font-family='"Liberation Sans", sans-serif' transform="rotate(-45 460.40 193.90)" stroke="#2a2a2a" stroke-width="0.18">D25.A3</text>
<line x1="465.08" y1="188.50" x2="465.08" y2="190.10" stroke="#000" stroke-width="0.6"/>
<text x="471.88" y="193.90" font-size="7.0" text-anchor="end" fill="#2a2a2a" font-family='"Liberation Sans", sans-serif' transform="rotate(-45 471.88 193.90)" stroke="#2a2a2a" stroke-width="0.18">D25.B1</text>
<line x1="476.56" y1="188.50" x2="476.56" y2="190.10" stroke="#000" stroke-width="0.6"/>
<text x="483.36" y="193.90" font-size="7.0" text-anchor="end" fill="#2a2a2a" font-family='"Liberation Sans", sans-serif' transform="rotate(-45 483.36 193.90)" stroke="#2a2a2a" stroke-width="0.18">D25.B2</text>
<line x1="488.04" y1="188.50" x2="488.04" y2="190.10" stroke="#000" stroke-width="0.6"/>
<text x="494.84" y="193.90" font-size="7.0" text-anchor="end" fill="#2a2a2a" font-family='"Liberation Sans", sans-serif' transform="rotate(-45 494.84 193.90)" stroke="#2a2a2a" stroke-width="0.18">D25.B3</text>
<line x1="499.52" y1="188.50" x2="499.52" y2="190.10" stroke="#000" stroke-width="0.6"/>
<text x="506.32" y="193.90" font-size="7.0" text-anchor="end" fill="#2a2a2a" font-family='"Liberation Sans", sans-serif' transform="rotate(-45 506.32 193.90)" stroke="#2a2a2a" stroke-width="0.18">D25.E1</text>
<line x1="511.00" y1="188.50" x2="511.00" y2="190.10" stroke="#000" stroke-width="0.6"/>
<text x="517.80" y="193.90" font-size="7.0" text-anchor="end" fill="#2a2a2a" font-family='"Liberation Sans", sans-serif' transform="rotate(-45 517.80 193.90)" stroke="#2a2a2a" stroke-width="0.18">D25.E2</text>
<line x1="522.48" y1="188.50" x2="522.48" y2="190.10" stroke="#000" stroke-width="0.6"/>
<text x="529.28" y="193.90" font-size="7.0" text-anchor="end" fill="#2a2a2a" font-family='"Liberation Sans", sans-serif' transform="rotate(-45 529.28 193.90)" stroke="#2a2a2a" stroke-width="0.18">D25.E3</text>
<line x1="533.96" y1="188.50" x2="533.96" y2="190.10" stroke="#000" stroke-width="0.6"/>
<text x="540.76" y="193.90" font-size="7.0" text-anchor="end" fill="#2a2a2a" font-family='"Liberation Sans", sans-serif' transform="rotate(-45 540.76 193.90)" stroke="#2a2a2a" stroke-width="0.18">D35.A1</text>
<line x1="545.44" y1="188.50" x2="545.44" y2="190.10" stroke="#000" stroke-width="0.6"/>
<text x="552.24" y="193.90" font-size="7.0" text-anchor="end" fill="#2a2a2a" font-family='"Liberation Sans", sans-serif' transform="rotate(-45 552.24 193.90)" stroke="#2a2a2a" stroke-width="0.18">D35.A2</text>
<line x1="556.92" y1="188.50" x2="556.92" y2="190.10" stroke="#000" stroke-width="0.6"/>
<text x="563.72" y="193.90" font-size="7.0" text-anchor="end" fill="#2a2a2a" font-family='"Liberation Sans", sans-serif' transform="rotate(-45 563.72 193.90)" stroke="#2a2a2a" stroke-width="0.18">D35.A3</text>
<line x1="568.40" y1="188.50" x2="568.40" y2="190.10" stroke="#000" stroke-width="0.6"/>
<text x="575.20" y="193.90" font-size="7.0" text-anchor="end" fill="#2a2a2a" font-family='"Liberation Sans", sans-serif' transform="rotate(-45 575.20 193.90)" stroke="#2a2a2a" stroke-width="0.18">D35.B1</text>
<line x1="579.88" y1="188.50" x2="579.88" y2="190.10" stroke="#000" stroke-width="0.6"/>
<text x="586.68" y="193.90" font-size="7.0" text-anchor="end" fill="#2a2a2a" font-family='"Liberation Sans", sans-serif' transform="rotate(-45 586.68 193.90)" stroke="#2a2a2a" stroke-width="0.18">D35.B2</text>
<line x1="591.36" y1="188.50" x2="591.36" y2="190.10" stroke="#000" stroke-width="0.6"/>
<text x="598.16" y="193.90" font-size="7.0" text-anchor="end" fill="#2a2a2a" font-family='"Liberation Sans", sans-serif' transform="rotate(-45 598.16 193.90)" stroke="#2a2a2a" stroke-width="0.18">D35.B3</text>
<line x1="602.84" y1="188.50" x2="602.84" y2="190.10" stroke="#000" stroke-width="0.6"/>
<text x="609.64" y="193.90" font-size="7.0" text-anchor="end" fill="#2a2a2a" font-family='"Liberation Sans", sans-serif' transform="rotate(-45 609.64 193.90)" stroke="#2a2a2a" stroke-width="0.18">D35.E1</text>
<line x1="614.32" y1="188.50" x2="614.32" y2="190.10" stroke="#000" stroke-width="0.6"/>
<text x="621.12" y="193.90" font-size="7.0" text-anchor="end" fill="#2a2a2a" font-family='"Liberation Sans", sans-serif' transform="rotate(-45 621.12 193.90)" stroke="#2a2a2a" stroke-width="0.18">D35.E2</text>
<line x1="625.80" y1="188.50" x2="625.80" y2="190.10" stroke="#000" stroke-width="0.6"/>
<text x="632.60" y="193.90" font-size="7.0" text-anchor="end" fill="#2a2a2a" font-family='"Liberation Sans", sans-serif' transform="rotate(-45 632.60 193.90)" stroke="#2a2a2a" stroke-width="0.18">D35.E3</text>
<text x="367.00" y="108.00" font-size="8.2" text-anchor="middle" fill="#2a2a2a" font-family='"Liberation Sans", sans-serif' transform="rotate(-90 367.00 108.00)" stroke="#2a2a2a" stroke-width="0.12">Relative Abundance</text>
<text x="516.00" y="221.00" font-size="8.3" text-anchor="middle" fill="#2a2a2a" font-family='"Liberation Sans", sans-serif' stroke="#2a2a2a" stroke-width="0.12">Sample Name</text>
<text x="397.60" y="23.80" font-size="22" text-anchor="start" fill="#000" font-family='"Liberation Serif", serif'>b</text>
<rect x="643.00" y="53.10" width="4.00" height="4.00" fill="#DC143C"/>
<text x="649.30" y="56.90" font-size="5.35" text-anchor="start" fill="#2a2a2a" font-family='"Liberation Sans", sans-serif' stroke="#2a2a2a" stroke-width="0.12">g__Pseudoxanthomonas</text>
<rect x="643.00" y="59.52" width="4.00" height="4.00" fill="#0000FF"/>
<text x="649.30" y="63.32" font-size="5.35" text-anchor="start" fill="#2a2a2a" font-family='"Liberation Sans", sans-serif' stroke="#2a2a2a" stroke-width="0.12">g__Bordetella</text>
<rect x="643.00" y="65.94" width="4.00" height="4.00" fill="#20B2AA"/>
<text x="649.30" y="69.74" font-size="5.35" text-anchor="start" fill="#2a2a2a" font-family='"Liberation Sans", sans-serif' stroke="#2a2a2a" stroke-width="0.12">g__Sphingobacterium</text>
<rect x="643.00" y="72.36" width="4.00" height="4.00" fill="#FFA500"/>
<text x="649.30" y="76.16" font-size="5.35" text-anchor="start" fill="#2a2a2a" font-family='"Liberation Sans", sans-serif' stroke="#2a2a2a" stroke-width="0.12">g__Luteimonas</text>
<rect x="643.00" y="78.78" width="4.00" height="4.00" fill="#9370DB"/>
<text x="649.30" y="82.58" font-size="5.35" text-anchor="start" fill="#2a2a2a" font-family='"Liberation Sans", sans-serif' stroke="#2a2a2a" stroke-width="0.12">g__Parapedobacter</text>
<rect x="643.00" y="85.20" width="4.00" height="4.00" fill="#98FB98"/>
<text x="649.30" y="89.00" font-size="5.35" text-anchor="start" fill="#2a2a2a" font-family='"Liberation Sans", sans-serif' stroke="#2a2a2a" stroke-width="0.12">g__Cellulosimicrobium</text>
<rect x="643.00" y="91.62" width="4.00" height="4.00" fill="#F08080"/>
<text x="649.30" y="95.42" font-size="5.35" text-anchor="start" fill="#2a2a2a" font-family='"Liberation Sans", sans-serif' stroke="#2a2a2a" stroke-width="0.12">g__Microbacterium</text>
<rect x="643.00" y="98.04" width="4.00" height="4.00" fill="#1E90FF"/>
<text x="649.30" y="101.84" font-size="5.35" text-anchor="start" fill="#2a2a2a" font-family='"Liberation Sans", sans-serif' stroke="#2a2a2a" stroke-width="0.12">g__Arenimonas</text>
<rect x="643.00" y="104.46" width="4.00" height="4.00" fill="#7CFC00"/>
<text x="649.30" y="108.26" font-size="5.35" text-anchor="start" fill="#2a2a2a" font-family='"Liberation Sans", sans-serif' stroke="#2a2a2a" stroke-width="0.12">g__Trichoderma</text>
<rect x="643.00" y="110.88" width="4.00" height="4.00" fill="#FF0000"/>
<text x="649.30" y="114.68" font-size="5.35" text-anchor="start" fill="#2a2a2a" font-family='"Liberation Sans", sans-serif' stroke="#2a2a2a" stroke-width="0.12">g__Nannocystis</text>
<rect x="643.00" y="117.30" width="4.00" height="4.00" fill="#808000"/>
<text x="649.30" y="121.10" font-size="5.35" text-anchor="start" fill="#2a2a2a" font-family='"Liberation Sans", sans-serif' stroke="#2a2a2a" stroke-width="0.12">Others</text>
<rect x="19.40" y="262.10" width="8.65" height="8.64" fill="#fafdff"/>
<rect x="28.00" y="262.10" width="8.65" height="8.64" fill="#fafdff"/>
<rect x="36.59" y="262.10" width="8.65" height="8.64" fill="#fafdff"/>
<rect x="45.19" y="262.10" width="8.65" height="8.64" fill="#a6dbfb"/>
<rect x="53.78" y="262.10" width="8.65" height="8.64" fill="#a6dbfb"/>
<rect x="62.38" y="262.10" width="8.65" height="8.64" fill="#a6dbfb"/>
<rect x="70.97" y="262.10" width="8.65" height="8.64" fill="#a9dcfb"/>
<rect x="79.57" y="262.10" width="8.65" height="8.64" fill="#a9dcfb"/>
<rect x="88.16" y="262.10" width="8.65" height="8.64" fill="#a9dcfb"/>
<rect x="96.76" y="262.10" width="8.65" height="8.64" fill="#abddfc"/>
<rect x="105.35" y="262.10" width="8.65" height="8.64" fill="#abddfc"/>
<rect x="113.95" y="262.10" width="8.65" height="8.64" fill="#abddfc"/>
<rect x="122.54" y="262.10" width="8.65" height="8.64" fill="#a9dcfb"/>
<rect x="131.14" y="262.10" width="8.65" height="8.64" fill="#a9dcfb"/>
<rect x="139.73" y="262.10" width="8.65" height="8.64" fill="#a9dcfb"/>
<rect x="148.33" y="262.10" width="8.65" height="8.64" fill="#a9dcfb"/>
<rect x="156.92" y="262.10" width="8.65" height="8.64" fill="#a9dcfb"/>
<rect x="165.52" y="262.10" width="8.65" height="8.64" fill="#a9dcfb"/>
<rect x="174.11" y="262.10" width="8.65" height="8.64" fill="#a6dbfb"/>
<rect x="182.71" y="262.10" width="8.65" height="8.64" fill="#a6dbfb"/>
<rect x="191.30" y="262.10" width="8.65" height="8.64" fill="#a6dbfb"/>
<rect x="19.40" y="270.69" width="8.65" height="8.64" fill="#e0f2fe"/>
<rect x="28.00" y="270.69" width="8.65" height="8.64" fill="#e0f2fe"/>
<rect x="36.59" y="270.69" width="8.65" height="8.64" fill="#e0f2fe"/>
<rect x="45.19" y="270.69" width="8.65" height="8.64" fill="#a4dafb"/>
<rect x="53.78" y="270.69" width="8.65" height="8.64" fill="#a4dafb"/>
<rect x="62.38" y="270.69" width="8.65" height="8.64" fill="#a4dafb"/>
<rect x="70.97" y="270.69" width="8.65" height="8.64" fill="#9fd8fb"/>
<rect x="79.57" y="270.69" width="8.65" height="8.64" fill="#9fd8fb"/>
<rect x="88.16" y="270.69" width="8.65" height="8.64" fill="#a4dafb"/>
<rect x="96.76" y="270.69" width="8.65" height="8.64" fill="#a4dafb"/>
<rect x="105.35" y="270.69" width="8.65" height="8.64" fill="#95d4fb"/>
<rect x="113.95" y="270.69" width="8.65" height="8.64" fill="#9ad6fb"/>
<rect x="122.54" y="270.69" width="8.65" height="8.64" fill="#a9dcfb"/>
<rect x="131.14" y="270.69" width="8.65" height="8.64" fill="#b7e2fc"/>
<rect x="139.73" y="270.69" width="8.65" height="8.64" fill="#b0dffc"/>
<rect x="148.33" y="270.69" width="8.65" height="8.64" fill="#a9dcfb"/>
<rect x="156.92" y="270.69" width="8.65" height="8.64" fill="#a9dcfb"/>
<rect x="165.52" y="270.69" width="8.65" height="8.64" fill="#a9dcfb"/>
<rect x="174.11" y="270.69" width="8.65" height="8.64" fill="#a4dafb"/>
<rect x="182.71" y="270.69" width="8.65" height="8.64" fill="#a4dafb"/>
<rect x="191.30" y="270.69" width="8.65" height="8.64" fill="#a4dafb"/>
<rect x="19.40" y="279.27" width="8.65" height="8.64" fill="#d6eefd"/>
<rect x="28.00" y="279.27" width="8.65" height="8.64" fill="#d6eefd"/>
<rect x="36.59" y="279.27" width="8.65" height="8.64" fill="#d6eefd"/>
<rect x="45.19" y="279.27" width="8.65" height="8.64" fill="#a6dbfb"/>
<rect x="53.78" y="279.27" width="8.65" height="8.64" fill="#a6dbfb"/>
<rect x="62.38" y="279.27" width="8.65" height="8.64" fill="#a6dbfb"/>
<rect x="70.97" y="279.27" width="8.65" height="8.64" fill="#a9dcfb"/>
<rect x="79.57" y="279.27" width="8.65" height="8.64" fill="#a9dcfb"/>
<rect x="88.16" y="279.27" width="8.65" height="8.64" fill="#a9dcfb"/>
<rect x="96.76" y="279.27" width="8.65" height="8.64" fill="#abddfc"/>
<rect x="105.35" y="279.27" width="8.65" height="8.64" fill="#abddfc"/>
<rect x="113.95" y="279.27" width="8.65" height="8.64" fill="#abddfc"/>
<rect x="122.54" y="279.27" width="8.65" height="8.64" fill="#abddfc"/>
<rect x="131.14" y="279.27" width="8.65" height="8.64" fill="#b2e0fc"/>
<rect x="139.73" y="279.27" width="8.65" height="8.64" fill="#b0dffc"/>
<rect x="148.33" y="279.27" width="8.65" height="8.64" fill="#abddfc"/>
<rect x="156.92" y="279.27" width="8.65" height="8.64" fill="#abddfc"/>
<rect x="165.52" y="279.27" width="8.65" height="8.64" fill="#abddfc"/>
<rect x="174.11" y="279.27" width="8.65" height="8.64" fill="#a9dcfb"/>
<rect x="182.71" y="279.27" width="8.65" height="8.64" fill="#a9dcfb"/>
<rect x="191.30" y="279.27" width="8.65" height="8.64" fill="#a9dcfb"/>
<rect x="19.40" y="287.86" width="8.65" height="8.64" fill="#f8fcff"/>
<rect x="28.00" y="287.86" width="8.65" height="8.64" fill="#f8fcff"/>
<rect x="36.59" y="287.86" width="8.65" height="8.64" fill="#f8fcff"/>
<rect x="45.19" y="287.86" width="8.65" height="8.64" fill="#93b4df"/>
<rect x="53.78" y="287.86" width="8.65" height="8.64" fill="#95b0dc"/>
<rect x="62.38" y="287.86" width="8.65" height="8.64" fill="#98a9d4"/>
<rect x="70.97" y="287.86" width="8.65" height="8.64" fill="#90bbe7"/>
<rect x="79.57" y="287.86" width="8.65" height="8.64" fill="#90bbe7"/>
<rect x="88.16" y="287.86" width="8.65" height="8.64" fill="#91b8e3"/>
<rect x="96.76" y="287.86" width="8.65" height="8.64" fill="#95b0dc"/>
<rect x="105.35" y="287.86" width="8.65" height="8.64" fill="#95b0dc"/>
<rect x="113.95" y="287.86" width="8.65" height="8.64" fill="#93b4df"/>
<rect x="122.54" y="287.86" width="8.65" height="8.64" fill="#a292bd"/>
<rect x="131.14" y="287.86" width="8.65" height="8.64" fill="#9ba1cc"/>
<rect x="139.73" y="287.86" width="8.65" height="8.64" fill="#9ba1cc"/>
<rect x="148.33" y="287.86" width="8.65" height="8.64" fill="#91b8e3"/>
<rect x="156.92" y="287.86" width="8.65" height="8.64" fill="#95b0dc"/>
<rect x="165.52" y="287.86" width="8.65" height="8.64" fill="#91b8e3"/>
<rect x="174.11" y="287.86" width="8.65" height="8.64" fill="#91b8e3"/>
<rect x="182.71" y="287.86" width="8.65" height="8.64" fill="#9ba1cc"/>
<rect x="191.30" y="287.86" width="8.65" height="8.64" fill="#98a9d4"/>
<rect x="19.40" y="296.44" width="8.65" height="8.64" fill="#f5fbff"/>
<rect x="28.00" y="296.44" width="8.65" height="8.64" fill="#f5fbff"/>
<rect x="36.59" y="296.44" width="8.65" height="8.64" fill="#f5fbff"/>
<rect x="45.19" y="296.44" width="8.65" height="8.64" fill="#8ac7f2"/>
<rect x="53.78" y="296.44" width="8.65" height="8.64" fill="#8ebfeb"/>
<rect x="62.38" y="296.44" width="8.65" height="8.64" fill="#87cefa"/>
<rect x="70.97" y="296.44" width="8.65" height="8.64" fill="#8cd0fa"/>
<rect x="79.57" y="296.44" width="8.65" height="8.64" fill="#8ed1fa"/>
<rect x="88.16" y="296.44" width="8.65" height="8.64" fill="#8cd0fa"/>
<rect x="96.76" y="296.44" width="8.65" height="8.64" fill="#87cefa"/>
<rect x="105.35" y="296.44" width="8.65" height="8.64" fill="#87cefa"/>
<rect x="113.95" y="296.44" width="8.65" height="8.64" fill="#8cd0fa"/>
<rect x="122.54" y="296.44" width="8.65" height="8.64" fill="#8ed1fa"/>
<rect x="131.14" y="296.44" width="8.65" height="8.64" fill="#8ed1fa"/>
<rect x="139.73" y="296.44" width="8.65" height="8.64" fill="#8ed1fa"/>
<rect x="148.33" y="296.44" width="8.65" height="8.64" fill="#91d2fa"/>
<rect x="156.92" y="296.44" width="8.65" height="8.64" fill="#8ed1fa"/>
<rect x="165.52" y="296.44" width="8.65" height="8.64" fill="#8cd0fa"/>
<rect x="174.11" y="296.44" width="8.65" height="8.64" fill="#8ed1fa"/>
<rect x="182.71" y="296.44" width="8.65" height="8.64" fill="#8cd0fa"/>
<rect x="191.30" y="296.44" width="8.65" height="8.64" fill="#8ed1fa"/>
<rect x="19.40" y="305.03" width="8.65" height="8.64" fill="#f3fafe"/>
<rect x="28.00" y="305.03" width="8.65" height="8.64" fill="#f3fafe"/>
<rect x="36.59" y="305.03" width="8.65" height="8.64" fill="#f3fafe"/>
<rect x="45.19" y="305.03" width="8.65" height="8.64" fill="#91d2fa"/>
<rect x="53.78" y="305.03" width="8.65" height="8.64" fill="#91d2fa"/>
<rect x="62.38" y="305.03" width="8.65" height="8.64" fill="#95d4fb"/>
<rect x="70.97" y="305.03" width="8.65" height="8.64" fill="#87cefa"/>
<rect x="79.57" y="305.03" width="8.65" height="8.64" fill="#87cefa"/>
<rect x="88.16" y="305.03" width="8.65" height="8.64" fill="#8cd0fa"/>
<rect x="96.76" y="305.03" width="8.65" height="8.64" fill="#8cd0fa"/>
<rect x="105.35" y="305.03" width="8.65" height="8.64" fill="#91d2fa"/>
<rect x="113.95" y="305.03" width="8.65" height="8.64" fill="#8cd0fa"/>
<rect x="122.54" y="305.03" width="8.65" height="8.64" fill="#93d3fa"/>
<rect x="131.14" y="305.03" width="8.65" height="8.64" fill="#93d3fa"/>
<rect x="139.73" y="305.03" width="8.65" height="8.64" fill="#93d3fa"/>
<rect x="148.33" y="305.03" width="8.65" height="8.64" fill="#95d4fb"/>
<rect x="156.92" y="305.03" width="8.65" height="8.64" fill="#93d3fa"/>
<rect x="165.52" y="305.03" width="8.65" height="8.64" fill="#95d4fb"/>
<rect x="174.11" y="305.03" width="8.65" height="8.64" fill="#93d3fa"/>
<rect x="182.71" y="305.03" width="8.65" height="8.64" fill="#93d3fa"/>
<rect x="191.30" y="305.03" width="8.65" height="8.64" fill="#93d3fa"/>
<rect x="19.40" y="313.62" width="8.65" height="8.64" fill="#dc143c"/>
<rect x="28.00" y="313.62" width="8.65" height="8.64" fill="#dc143c"/>
<rect x="36.59" y="313.62" width="8.65" height="8.64" fill="#dc143c"/>
<rect x="45.19" y="313.62" width="8.65" height="8.64" fill="#98a9d4"/>
<rect x="53.78" y="313.62" width="8.65" height="8.64" fill="#a292bd"/>
<rect x="62.38" y="313.62" width="8.65" height="8.64" fill="#9ba1cc"/>
<rect x="70.97" y="313.62" width="8.65" height="8.64" fill="#8ed1fa"/>
<rect x="79.57" y="313.62" width="8.65" height="8.64" fill="#8ed1fa"/>
<rect x="88.16" y="313.62" width="8.65" height="8.64" fill="#87cefa"/>
<rect x="96.76" y="313.62" width="8.65" height="8.64" fill="#95b0dc"/>
<rect x="105.35" y="313.62" width="8.65" height="8.64" fill="#a68bb6"/>
<rect x="113.95" y="313.62" width="8.65" height="8.64" fill="#a68bb6"/>
<rect x="122.54" y="313.62" width="8.65" height="8.64" fill="#93d3fa"/>
<rect x="131.14" y="313.62" width="8.65" height="8.64" fill="#91d2fa"/>
<rect x="139.73" y="313.62" width="8.65" height="8.64" fill="#91d2fa"/>
<rect x="148.33" y="313.62" width="8.65" height="8.64" fill="#98d5fb"/>
<rect x="156.92" y="313.62" width="8.65" height="8.64" fill="#9ad6fb"/>
<rect x="165.52" y="313.62" width="8.65" height="8.64" fill="#9fd8fb"/>
<rect x="174.11" y="313.62" width="8.65" height="8.64" fill="#95d4fb"/>
<rect x="182.71" y="313.62" width="8.65" height="8.64" fill="#91d2fa"/>
<rect x="191.30" y="313.62" width="8.65" height="8.64" fill="#93d3fa"/>
<rect x="19.40" y="322.20" width="8.65" height="8.64" fill="#8ac7f2"/>
<rect x="28.00" y="322.20" width="8.65" height="8.64" fill="#8ac7f2"/>
<rect x="36.59" y="322.20" width="8.65" height="8.64" fill="#8ac7f2"/>
<rect x="45.19" y="322.20" width="8.65" height="8.64" fill="#95d4fb"/>
<rect x="53.78" y="322.20" width="8.65" height="8.64" fill="#95d4fb"/>
<rect x="62.38" y="322.20" width="8.65" height="8.64" fill="#95d4fb"/>
<rect x="70.97" y="322.20" width="8.65" height="8.64" fill="#95d4fb"/>
<rect x="79.57" y="322.20" width="8.65" height="8.64" fill="#98d5fb"/>
<rect x="88.16" y="322.20" width="8.65" height="8.64" fill="#9ad6fb"/>
<rect x="96.76" y="322.20" width="8.65" height="8.64" fill="#98d5fb"/>
<rect x="105.35" y="322.20" width="8.65" height="8.64" fill="#93d3fa"/>
<rect x="113.95" y="322.20" width="8.65" height="8.64" fill="#93d3fa"/>
<rect x="122.54" y="322.20" width="8.65" height="8.64" fill="#bee5fc"/>
<rect x="131.14" y="322.20" width="8.65" height="8.64" fill="#bee5fc"/>
<rect x="139.73" y="322.20" width="8.65" height="8.64" fill="#bee5fc"/>
<rect x="148.33" y="322.20" width="8.65" height="8.64" fill="#c3e6fc"/>
<rect x="156.92" y="322.20" width="8.65" height="8.64" fill="#c3e6fc"/>
<rect x="165.52" y="322.20" width="8.65" height="8.64" fill="#c3e6fc"/>
<rect x="174.11" y="322.20" width="8.65" height="8.64" fill="#c3e6fc"/>
<rect x="182.71" y="322.20" width="8.65" height="8.64" fill="#c3e6fc"/>
<rect x="191.30" y="322.20" width="8.65" height="8.64" fill="#c3e6fc"/>
<rect x="19.40" y="330.79" width="8.65" height="8.64" fill="#9ba1cc"/>
<rect x="28.00" y="330.79" width="8.65" height="8.64" fill="#9ba1cc"/>
<rect x="36.59" y="330.79" width="8.65" height="8.64" fill="#9ba1cc"/>
<rect x="45.19" y="330.79" width="8.65" height="8.64" fill="#b7e2fc"/>
<rect x="53.78" y="330.79" width="8.65" height="8.64" fill="#bce4fc"/>
<rect x="62.38" y="330.79" width="8.65" height="8.64" fill="#c1e6fc"/>
<rect x="70.97" y="330.79" width="8.65" height="8.64" fill="#d6eefd"/>
<rect x="79.57" y="330.79" width="8.65" height="8.64" fill="#d6eefd"/>
<rect x="88.16" y="330.79" width="8.65" height="8.64" fill="#d4edfd"/>
<rect x="96.76" y="330.79" width="8.65" height="8.64" fill="#cfebfd"/>
<rect x="105.35" y="330.79" width="8.65" height="8.64" fill="#cfebfd"/>
<rect x="113.95" y="330.79" width="8.65" height="8.64" fill="#d1ecfd"/>
<rect x="122.54" y="330.79" width="8.65" height="8.64" fill="#e2f3fe"/>
<rect x="131.14" y="330.79" width="8.65" height="8.64" fill="#e2f3fe"/>
<rect x="139.73" y="330.79" width="8.65" height="8.64" fill="#e2f3fe"/>
<rect x="148.33" y="330.79" width="8.65" height="8.64" fill="#ddf1fe"/>
<rect x="156.92" y="330.79" width="8.65" height="8.64" fill="#e0f2fe"/>
<rect x="165.52" y="330.79" width="8.65" height="8.64" fill="#e0f2fe"/>
<rect x="174.11" y="330.79" width="8.65" height="8.64" fill="#e2f3fe"/>
<rect x="182.71" y="330.79" width="8.65" height="8.64" fill="#e2f3fe"/>
<rect x="191.30" y="330.79" width="8.65" height="8.64" fill="#e2f3fe"/>
<rect x="19.40" y="339.37" width="8.65" height="8.64" fill="#c24c75"/>
<rect x="28.00" y="339.37" width="8.65" height="8.64" fill="#c15079"/>
<rect x="36.59" y="339.37" width="8.65" height="8.64" fill="#c15079"/>
<rect x="45.19" y="339.37" width="8.65" height="8.64" fill="#a4dafb"/>
<rect x="53.78" y="339.37" width="8.65" height="8.64" fill="#9ad6fb"/>
<rect x="62.38" y="339.37" width="8.65" height="8.64" fill="#a4dafb"/>
<rect x="70.97" y="339.37" width="8.65" height="8.64" fill="#abddfc"/>
<rect x="79.57" y="339.37" width="8.65" height="8.64" fill="#abddfc"/>
<rect x="88.16" y="339.37" width="8.65" height="8.64" fill="#abddfc"/>
<rect x="96.76" y="339.37" width="8.65" height="8.64" fill="#addefc"/>
<rect x="105.35" y="339.37" width="8.65" height="8.64" fill="#a9dcfb"/>
<rect x="113.95" y="339.37" width="8.65" height="8.64" fill="#a9dcfb"/>
<rect x="122.54" y="339.37" width="8.65" height="8.64" fill="#b7e2fc"/>
<rect x="131.14" y="339.37" width="8.65" height="8.64" fill="#b7e2fc"/>
<rect x="139.73" y="339.37" width="8.65" height="8.64" fill="#b7e2fc"/>
<rect x="148.33" y="339.37" width="8.65" height="8.64" fill="#b2e0fc"/>
<rect x="156.92" y="339.37" width="8.65" height="8.64" fill="#b2e0fc"/>
<rect x="165.52" y="339.37" width="8.65" height="8.64" fill="#b7e2fc"/>
<rect x="174.11" y="339.37" width="8.65" height="8.64" fill="#b5e1fc"/>
<rect x="182.71" y="339.37" width="8.65" height="8.64" fill="#b5e1fc"/>
<rect x="191.30" y="339.37" width="8.65" height="8.64" fill="#b5e1fc"/>
<rect x="19.40" y="347.96" width="8.65" height="8.64" fill="#b36d97"/>
<rect x="28.00" y="347.96" width="8.65" height="8.64" fill="#ae78a3"/>
<rect x="36.59" y="347.96" width="8.65" height="8.64" fill="#ac7ca6"/>
<rect x="45.19" y="347.96" width="8.65" height="8.64" fill="#b0dffc"/>
<rect x="53.78" y="347.96" width="8.65" height="8.64" fill="#b0dffc"/>
<rect x="62.38" y="347.96" width="8.65" height="8.64" fill="#b0dffc"/>
<rect x="70.97" y="347.96" width="8.65" height="8.64" fill="#b5e1fc"/>
<rect x="79.57" y="347.96" width="8.65" height="8.64" fill="#b5e1fc"/>
<rect x="88.16" y="347.96" width="8.65" height="8.64" fill="#b5e1fc"/>
<rect x="96.76" y="347.96" width="8.65" height="8.64" fill="#b5e1fc"/>
<rect x="105.35" y="347.96" width="8.65" height="8.64" fill="#b5e1fc"/>
<rect x="113.95" y="347.96" width="8.65" height="8.64" fill="#b5e1fc"/>
<rect x="122.54" y="347.96" width="8.65" height="8.64" fill="#bee5fc"/>
<rect x="131.14" y="347.96" width="8.65" height="8.64" fill="#bee5fc"/>
<rect x="139.73" y="347.96" width="8.65" height="8.64" fill="#bee5fc"/>
<rect x="148.33" y="347.96" width="8.65" height="8.64" fill="#bce4fc"/>
<rect x="156.92" y="347.96" width="8.65" height="8.64" fill="#bce4fc"/>
<rect x="165.52" y="347.96" width="8.65" height="8.64" fill="#bce4fc"/>
<rect x="174.11" y="347.96" width="8.65" height="8.64" fill="#bce4fc"/>
<rect x="182.71" y="347.96" width="8.65" height="8.64" fill="#bce4fc"/>
<rect x="191.30" y="347.96" width="8.65" height="8.64" fill="#bce4fc"/>
<rect x="19.40" y="356.55" width="8.65" height="8.64" fill="#cb3962"/>
<rect x="28.00" y="356.55" width="8.65" height="8.64" fill="#ce325a"/>
<rect x="36.59" y="356.55" width="8.65" height="8.64" fill="#cb3962"/>
<rect x="45.19" y="356.55" width="8.65" height="8.64" fill="#ffffff"/>
<rect x="53.78" y="356.55" width="8.65" height="8.64" fill="#ffffff"/>
<rect x="62.38" y="356.55" width="8.65" height="8.64" fill="#ffffff"/>
<rect x="70.97" y="356.55" width="8.65" height="8.64" fill="#ffffff"/>
<rect x="79.57" y="356.55" width="8.65" height="8.64" fill="#ffffff"/>
<rect x="88.16" y="356.55" width="8.65" height="8.64" fill="#ffffff"/>
<rect x="96.76" y="356.55" width="8.65" height="8.64" fill="#ffffff"/>
<rect x="105.35" y="356.55" width="8.65" height="8.64" fill="#ffffff"/>
<rect x="113.95" y="356.55" width="8.65" height="8.64" fill="#ffffff"/>
<rect x="122.54" y="356.55" width="8.65" height="8.64" fill="#ffffff"/>
<rect x="131.14" y="356.55" width="8.65" height="8.64" fill="#ffffff"/>
<rect x="139.73" y="356.55" width="8.65" height="8.64" fill="#ffffff"/>
<rect x="148.33" y="356.55" width="8.65" height="8.64" fill="#ffffff"/>
<rect x="156.92" y="356.55" width="8.65" height="8.64" fill="#ffffff"/>
<rect x="165.52" y="356.55" width="8.65" height="8.64" fill="#ffffff"/>
<rect x="174.11" y="356.55" width="8.65" height="8.64" fill="#ffffff"/>
<rect x="182.71" y="356.55" width="8.65" height="8.64" fill="#ffffff"/>
<rect x="191.30" y="356.55" width="8.65" height="8.64" fill="#ffffff"/>
<rect x="19.40" y="365.13" width="8.65" height="8.64" fill="#ba5e88"/>
<rect x="28.00" y="365.13" width="8.65" height="8.64" fill="#b76690"/>
<rect x="36.59" y="365.13" width="8.65" height="8.64" fill="#b76690"/>
<rect x="45.19" y="365.13" width="8.65" height="8.64" fill="#f8fcff"/>
<rect x="53.78" y="365.13" width="8.65" height="8.64" fill="#f8fcff"/>
<rect x="62.38" y="365.13" width="8.65" height="8.64" fill="#f8fcff"/>
<rect x="70.97" y="365.13" width="8.65" height="8.64" fill="#fafdff"/>
<rect x="79.57" y="365.13" width="8.65" height="8.64" fill="#fafdff"/>
<rect x="88.16" y="365.13" width="8.65" height="8.64" fill="#fafdff"/>
<rect x="96.76" y="365.13" width="8.65" height="8.64" fill="#fafdff"/>
<rect x="105.35" y="365.13" width="8.65" height="8.64" fill="#fafdff"/>
<rect x="113.95" y="365.13" width="8.65" height="8.64" fill="#fafdff"/>
<rect x="122.54" y="365.13" width="8.65" height="8.64" fill="#fafdff"/>
<rect x="131.14" y="365.13" width="8.65" height="8.64" fill="#fafdff"/>
<rect x="139.73" y="365.13" width="8.65" height="8.64" fill="#fafdff"/>
<rect x="148.33" y="365.13" width="8.65" height="8.64" fill="#fafdff"/>
<rect x="156.92" y="365.13" width="8.65" height="8.64" fill="#fafdff"/>
<rect x="165.52" y="365.13" width="8.65" height="8.64" fill="#fafdff"/>
<rect x="174.11" y="365.13" width="8.65" height="8.64" fill="#fafdff"/>
<rect x="182.71" y="365.13" width="8.65" height="8.64" fill="#fafdff"/>
<rect x="191.30" y="365.13" width="8.65" height="8.64" fill="#fafdff"/>
<rect x="19.40" y="373.72" width="8.65" height="8.64" fill="#a292bd"/>
<rect x="28.00" y="373.72" width="8.65" height="8.64" fill="#a096c1"/>
<rect x="36.59" y="373.72" width="8.65" height="8.64" fill="#9f9ac5"/>
<rect x="45.19" y="373.72" width="8.65" height="8.64" fill="#e9f6fe"/>
<rect x="53.78" y="373.72" width="8.65" height="8.64" fill="#e9f6fe"/>
<rect x="62.38" y="373.72" width="8.65" height="8.64" fill="#e9f6fe"/>
<rect x="70.97" y="373.72" width="8.65" height="8.64" fill="#e7f5fe"/>
<rect x="79.57" y="373.72" width="8.65" height="8.64" fill="#e2f3fe"/>
<rect x="88.16" y="373.72" width="8.65" height="8.64" fill="#ecf7fe"/>
<rect x="96.76" y="373.72" width="8.65" height="8.64" fill="#e9f6fe"/>
<rect x="105.35" y="373.72" width="8.65" height="8.64" fill="#e9f6fe"/>
<rect x="113.95" y="373.72" width="8.65" height="8.64" fill="#e9f6fe"/>
<rect x="122.54" y="373.72" width="8.65" height="8.64" fill="#ecf7fe"/>
<rect x="131.14" y="373.72" width="8.65" height="8.64" fill="#e7f5fe"/>
<rect x="139.73" y="373.72" width="8.65" height="8.64" fill="#ecf7fe"/>
<rect x="148.33" y="373.72" width="8.65" height="8.64" fill="#eef8fe"/>
<rect x="156.92" y="373.72" width="8.65" height="8.64" fill="#eef8fe"/>
<rect x="165.52" y="373.72" width="8.65" height="8.64" fill="#eef8fe"/>
<rect x="174.11" y="373.72" width="8.65" height="8.64" fill="#eef8fe"/>
<rect x="182.71" y="373.72" width="8.65" height="8.64" fill="#eef8fe"/>
<rect x="191.30" y="373.72" width="8.65" height="8.64" fill="#eef8fe"/>
<rect x="19.40" y="382.30" width="8.65" height="8.64" fill="#87cefa"/>
<rect x="28.00" y="382.30" width="8.65" height="8.64" fill="#87cefa"/>
<rect x="36.59" y="382.30" width="8.65" height="8.64" fill="#87cefa"/>
<rect x="45.19" y="382.30" width="8.65" height="8.64" fill="#f8fcff"/>
<rect x="53.78" y="382.30" width="8.65" height="8.64" fill="#f8fcff"/>
<rect x="62.38" y="382.30" width="8.65" height="8.64" fill="#f8fcff"/>
<rect x="70.97" y="382.30" width="8.65" height="8.64" fill="#f8fcff"/>
<rect x="79.57" y="382.30" width="8.65" height="8.64" fill="#a9dcfb"/>
<rect x="88.16" y="382.30" width="8.65" height="8.64" fill="#f8fcff"/>
<rect x="96.76" y="382.30" width="8.65" height="8.64" fill="#f8fcff"/>
<rect x="105.35" y="382.30" width="8.65" height="8.64" fill="#f8fcff"/>
<rect x="113.95" y="382.30" width="8.65" height="8.64" fill="#f8fcff"/>
<rect x="122.54" y="382.30" width="8.65" height="8.64" fill="#f8fcff"/>
<rect x="131.14" y="382.30" width="8.65" height="8.64" fill="#f1f9fe"/>
<rect x="139.73" y="382.30" width="8.65" height="8.64" fill="#f8fcff"/>
<rect x="148.33" y="382.30" width="8.65" height="8.64" fill="#f8fcff"/>
<rect x="156.92" y="382.30" width="8.65" height="8.64" fill="#f8fcff"/>
<rect x="165.52" y="382.30" width="8.65" height="8.64" fill="#f8fcff"/>
<rect x="174.11" y="382.30" width="8.65" height="8.64" fill="#f8fcff"/>
<rect x="182.71" y="382.30" width="8.65" height="8.64" fill="#f8fcff"/>
<rect x="191.30" y="382.30" width="8.65" height="8.64" fill="#f8fcff"/>
<rect x="19.40" y="390.89" width="8.65" height="8.64" fill="#ffffff"/>
<rect x="28.00" y="390.89" width="8.65" height="8.64" fill="#ffffff"/>
<rect x="36.59" y="390.89" width="8.65" height="8.64" fill="#ffffff"/>
<rect x="45.19" y="390.89" width="8.65" height="8.64" fill="#fafdff"/>
<rect x="53.78" y="390.89" width="8.65" height="8.64" fill="#fafdff"/>
<rect x="62.38" y="390.89" width="8.65" height="8.64" fill="#fafdff"/>
<rect x="70.97" y="390.89" width="8.65" height="8.64" fill="#e7f5fe"/>
<rect x="79.57" y="390.89" width="8.65" height="8.64" fill="#e7f5fe"/>
<rect x="88.16" y="390.89" width="8.65" height="8.64" fill="#e9f6fe"/>
<rect x="96.76" y="390.89" width="8.65" height="8.64" fill="#eef8fe"/>
<rect x="105.35" y="390.89" width="8.65" height="8.64" fill="#f3fafe"/>
<rect x="113.95" y="390.89" width="8.65" height="8.64" fill="#ecf7fe"/>
<rect x="122.54" y="390.89" width="8.65" height="8.64" fill="#f1f9fe"/>
<rect x="131.14" y="390.89" width="8.65" height="8.64" fill="#ecf7fe"/>
<rect x="139.73" y="390.89" width="8.65" height="8.64" fill="#f1f9fe"/>
<rect x="148.33" y="390.89" width="8.65" height="8.64" fill="#cae9fd"/>
<rect x="156.92" y="390.89" width="8.65" height="8.64" fill="#c5e7fd"/>
<rect x="165.52" y="390.89" width="8.65" height="8.64" fill="#cae9fd"/>
<rect x="174.11" y="390.89" width="8.65" height="8.64" fill="#f3fafe"/>
<rect x="182.71" y="390.89" width="8.65" height="8.64" fill="#eef8fe"/>
<rect x="191.30" y="390.89" width="8.65" height="8.64" fill="#f1f9fe"/>
<rect x="19.40" y="399.48" width="8.65" height="8.64" fill="#b7e2fc"/>
<rect x="28.00" y="399.48" width="8.65" height="8.64" fill="#b7e2fc"/>
<rect x="36.59" y="399.48" width="8.65" height="8.64" fill="#b7e2fc"/>
<rect x="45.19" y="399.48" width="8.65" height="8.64" fill="#e7f5fe"/>
<rect x="53.78" y="399.48" width="8.65" height="8.64" fill="#e7f5fe"/>
<rect x="62.38" y="399.48" width="8.65" height="8.64" fill="#e7f5fe"/>
<rect x="70.97" y="399.48" width="8.65" height="8.64" fill="#e9f6fe"/>
<rect x="79.57" y="399.48" width="8.65" height="8.64" fill="#e9f6fe"/>
<rect x="88.16" y="399.48" width="8.65" height="8.64" fill="#e9f6fe"/>
<rect x="96.76" y="399.48" width="8.65" height="8.64" fill="#e9f6fe"/>
<rect x="105.35" y="399.48" width="8.65" height="8.64" fill="#e9f6fe"/>
<rect x="113.95" y="399.48" width="8.65" height="8.64" fill="#e9f6fe"/>
<rect x="122.54" y="399.48" width="8.65" height="8.64" fill="#ecf7fe"/>
<rect x="131.14" y="399.48" width="8.65" height="8.64" fill="#ecf7fe"/>
<rect x="139.73" y="399.48" width="8.65" height="8.64" fill="#ecf7fe"/>
<rect x="148.33" y="399.48" width="8.65" height="8.64" fill="#ecf7fe"/>
<rect x="156.92" y="399.48" width="8.65" height="8.64" fill="#ecf7fe"/>
<rect x="165.52" y="399.48" width="8.65" height="8.64" fill="#ecf7fe"/>
<rect x="174.11" y="399.48" width="8.65" height="8.64" fill="#ecf7fe"/>
<rect x="182.71" y="399.48" width="8.65" height="8.64" fill="#ecf7fe"/>
<rect x="191.30" y="399.48" width="8.65" height="8.64" fill="#ecf7fe"/>
<rect x="19.40" y="408.06" width="8.65" height="8.64" fill="#b7e2fc"/>
<rect x="28.00" y="408.06" width="8.65" height="8.64" fill="#b7e2fc"/>
<rect x="36.59" y="408.06" width="8.65" height="8.64" fill="#b7e2fc"/>
<rect x="45.19" y="408.06" width="8.65" height="8.64" fill="#f3fafe"/>
<rect x="53.78" y="408.06" width="8.65" height="8.64" fill="#f3fafe"/>
<rect x="62.38" y="408.06" width="8.65" height="8.64" fill="#f3fafe"/>
<rect x="70.97" y="408.06" width="8.65" height="8.64" fill="#f5fbff"/>
<rect x="79.57" y="408.06" width="8.65" height="8.64" fill="#f5fbff"/>
<rect x="88.16" y="408.06" width="8.65" height="8.64" fill="#f5fbff"/>
<rect x="96.76" y="408.06" width="8.65" height="8.64" fill="#f5fbff"/>
<rect x="105.35" y="408.06" width="8.65" height="8.64" fill="#f5fbff"/>
<rect x="113.95" y="408.06" width="8.65" height="8.64" fill="#f5fbff"/>
<rect x="122.54" y="408.06" width="8.65" height="8.64" fill="#f5fbff"/>
<rect x="131.14" y="408.06" width="8.65" height="8.64" fill="#f5fbff"/>
<rect x="139.73" y="408.06" width="8.65" height="8.64" fill="#f5fbff"/>
<rect x="148.33" y="408.06" width="8.65" height="8.64" fill="#f5fbff"/>
<rect x="156.92" y="408.06" width="8.65" height="8.64" fill="#f5fbff"/>
<rect x="165.52" y="408.06" width="8.65" height="8.64" fill="#f5fbff"/>
<rect x="174.11" y="408.06" width="8.65" height="8.64" fill="#f5fbff"/>
<rect x="182.71" y="408.06" width="8.65" height="8.64" fill="#f5fbff"/>
<rect x="191.30" y="408.06" width="8.65" height="8.64" fill="#f5fbff"/>
<rect x="19.40" y="416.65" width="8.65" height="8.64" fill="#addefc"/>
<rect x="28.00" y="416.65" width="8.65" height="8.64" fill="#addefc"/>
<rect x="36.59" y="416.65" width="8.65" height="8.64" fill="#addefc"/>
<rect x="45.19" y="416.65" width="8.65" height="8.64" fill="#f3fafe"/>
<rect x="53.78" y="416.65" width="8.65" height="8.64" fill="#f3fafe"/>
<rect x="62.38" y="416.65" width="8.65" height="8.64" fill="#f3fafe"/>
<rect x="70.97" y="416.65" width="8.65" height="8.64" fill="#f5fbff"/>
<rect x="79.57" y="416.65" width="8.65" height="8.64" fill="#f5fbff"/>
<rect x="88.16" y="416.65" width="8.65" height="8.64" fill="#f5fbff"/>
<rect x="96.76" y="416.65" width="8.65" height="8.64" fill="#f5fbff"/>
<rect x="105.35" y="416.65" width="8.65" height="8.64" fill="#f5fbff"/>
<rect x="113.95" y="416.65" width="8.65" height="8.64" fill="#f5fbff"/>
<rect x="122.54" y="416.65" width="8.65" height="8.64" fill="#f5fbff"/>
<rect x="131.14" y="416.65" width="8.65" height="8.64" fill="#f5fbff"/>
<rect x="139.73" y="416.65" width="8.65" height="8.64" fill="#f5fbff"/>
<rect x="148.33" y="416.65" width="8.65" height="8.64" fill="#f5fbff"/>
<rect x="156.92" y="416.65" width="8.65" height="8.64" fill="#f5fbff"/>
<rect x="165.52" y="416.65" width="8.65" height="8.64" fill="#f5fbff"/>
<rect x="174.11" y="416.65" width="8.65" height="8.64" fill="#f5fbff"/>
<rect x="182.71" y="416.65" width="8.65" height="8.64" fill="#f5fbff"/>
<rect x="191.30" y="416.65" width="8.65" height="8.64" fill="#f5fbff"/>
<rect x="19.40" y="425.23" width="8.65" height="8.64" fill="#b0dffc"/>
<rect x="28.00" y="425.23" width="8.65" height="8.64" fill="#b0dffc"/>
<rect x="36.59" y="425.23" width="8.65" height="8.64" fill="#b0dffc"/>
<rect x="45.19" y="425.23" width="8.65" height="8.64" fill="#f3fafe"/>
<rect x="53.78" y="425.23" width="8.65" height="8.64" fill="#f3fafe"/>
<rect x="62.38" y="425.23" width="8.65" height="8.64" fill="#f3fafe"/>
<rect x="70.97" y="425.23" width="8.65" height="8.64" fill="#f3fafe"/>
<rect x="79.57" y="425.23" width="8.65" height="8.64" fill="#f3fafe"/>
<rect x="88.16" y="425.23" width="8.65" height="8.64" fill="#f3fafe"/>
<rect x="96.76" y="425.23" width="8.65" height="8.64" fill="#f5fbff"/>
<rect x="105.35" y="425.23" width="8.65" height="8.64" fill="#f5fbff"/>
<rect x="113.95" y="425.23" width="8.65" height="8.64" fill="#f5fbff"/>
<rect x="122.54" y="425.23" width="8.65" height="8.64" fill="#f5fbff"/>
<rect x="131.14" y="425.23" width="8.65" height="8.64" fill="#f5fbff"/>
<rect x="139.73" y="425.23" width="8.65" height="8.64" fill="#f5fbff"/>
<rect x="148.33" y="425.23" width="8.65" height="8.64" fill="#f5fbff"/>
<rect x="156.92" y="425.23" width="8.65" height="8.64" fill="#f5fbff"/>
<rect x="165.52" y="425.23" width="8.65" height="8.64" fill="#f5fbff"/>
<rect x="174.11" y="425.23" width="8.65" height="8.64" fill="#f5fbff"/>
<rect x="182.71" y="425.23" width="8.65" height="8.64" fill="#f5fbff"/>
<rect x="191.30" y="425.23" width="8.65" height="8.64" fill="#f5fbff"/>
<rect x="19.40" y="433.82" width="8.65" height="8.64" fill="#bee5fc"/>
<rect x="28.00" y="433.82" width="8.65" height="8.64" fill="#bee5fc"/>
<rect x="36.59" y="433.82" width="8.65" height="8.64" fill="#bee5fc"/>
<rect x="45.19" y="433.82" width="8.65" height="8.64" fill="#f8fcff"/>
<rect x="53.78" y="433.82" width="8.65" height="8.64" fill="#f8fcff"/>
<rect x="62.38" y="433.82" width="8.65" height="8.64" fill="#f8fcff"/>
<rect x="70.97" y="433.82" width="8.65" height="8.64" fill="#f8fcff"/>
<rect x="79.57" y="433.82" width="8.65" height="8.64" fill="#f8fcff"/>
<rect x="88.16" y="433.82" width="8.65" height="8.64" fill="#f8fcff"/>
<rect x="96.76" y="433.82" width="8.65" height="8.64" fill="#f8fcff"/>
<rect x="105.35" y="433.82" width="8.65" height="8.64" fill="#f8fcff"/>
<rect x="113.95" y="433.82" width="8.65" height="8.64" fill="#f8fcff"/>
<rect x="122.54" y="433.82" width="8.65" height="8.64" fill="#f8fcff"/>
<rect x="131.14" y="433.82" width="8.65" height="8.64" fill="#f8fcff"/>
<rect x="139.73" y="433.82" width="8.65" height="8.64" fill="#f8fcff"/>
<rect x="148.33" y="433.82" width="8.65" height="8.64" fill="#f8fcff"/>
<rect x="156.92" y="433.82" width="8.65" height="8.64" fill="#f8fcff"/>
<rect x="165.52" y="433.82" width="8.65" height="8.64" fill="#f8fcff"/>
<rect x="174.11" y="433.82" width="8.65" height="8.64" fill="#f8fcff"/>
<rect x="182.71" y="433.82" width="8.65" height="8.64" fill="#f8fcff"/>
<rect x="191.30" y="433.82" width="8.65" height="8.64" fill="#f8fcff"/>
<rect x="19.40" y="442.41" width="8.65" height="8.64" fill="#c3e6fc"/>
<rect x="28.00" y="442.41" width="8.65" height="8.64" fill="#c3e6fc"/>
<rect x="36.59" y="442.41" width="8.65" height="8.64" fill="#c3e6fc"/>
<rect x="45.19" y="442.41" width="8.65" height="8.64" fill="#f1f9fe"/>
<rect x="53.78" y="442.41" width="8.65" height="8.64" fill="#f1f9fe"/>
<rect x="62.38" y="442.41" width="8.65" height="8.64" fill="#f1f9fe"/>
<rect x="70.97" y="442.41" width="8.65" height="8.64" fill="#f3fafe"/>
<rect x="79.57" y="442.41" width="8.65" height="8.64" fill="#f3fafe"/>
<rect x="88.16" y="442.41" width="8.65" height="8.64" fill="#f3fafe"/>
<rect x="96.76" y="442.41" width="8.65" height="8.64" fill="#f3fafe"/>
<rect x="105.35" y="442.41" width="8.65" height="8.64" fill="#f3fafe"/>
<rect x="113.95" y="442.41" width="8.65" height="8.64" fill="#f3fafe"/>
<rect x="122.54" y="442.41" width="8.65" height="8.64" fill="#f3fafe"/>
<rect x="131.14" y="442.41" width="8.65" height="8.64" fill="#f3fafe"/>
<rect x="139.73" y="442.41" width="8.65" height="8.64" fill="#f3fafe"/>
<rect x="148.33" y="442.41" width="8.65" height="8.64" fill="#f3fafe"/>
<rect x="156.92" y="442.41" width="8.65" height="8.64" fill="#f3fafe"/>
<rect x="165.52" y="442.41" width="8.65" height="8.64" fill="#f3fafe"/>
<rect x="174.11" y="442.41" width="8.65" height="8.64" fill="#f3fafe"/>
<rect x="182.71" y="442.41" width="8.65" height="8.64" fill="#f3fafe"/>
<rect x="191.30" y="442.41" width="8.65" height="8.64" fill="#f3fafe"/>
<rect x="19.40" y="450.99" width="8.65" height="8.64" fill="#b7e2fc"/>
<rect x="28.00" y="450.99" width="8.65" height="8.64" fill="#b7e2fc"/>
<rect x="36.59" y="450.99" width="8.65" height="8.64" fill="#b7e2fc"/>
<rect x="45.19" y="450.99" width="8.65" height="8.64" fill="#b9e3fc"/>
<rect x="53.78" y="450.99" width="8.65" height="8.64" fill="#b9e3fc"/>
<rect x="62.38" y="450.99" width="8.65" height="8.64" fill="#b9e3fc"/>
<rect x="70.97" y="450.99" width="8.65" height="8.64" fill="#b9e3fc"/>
<rect x="79.57" y="450.99" width="8.65" height="8.64" fill="#b9e3fc"/>
<rect x="88.16" y="450.99" width="8.65" height="8.64" fill="#b9e3fc"/>
<rect x="96.76" y="450.99" width="8.65" height="8.64" fill="#b7e2fc"/>
<rect x="105.35" y="450.99" width="8.65" height="8.64" fill="#b7e2fc"/>
<rect x="113.95" y="450.99" width="8.65" height="8.64" fill="#b7e2fc"/>
<rect x="122.54" y="450.99" width="8.65" height="8.64" fill="#b5e1fc"/>
<rect x="131.14" y="450.99" width="8.65" height="8.64" fill="#b5e1fc"/>
<rect x="139.73" y="450.99" width="8.65" height="8.64" fill="#b5e1fc"/>
<rect x="148.33" y="450.99" width="8.65" height="8.64" fill="#b9e3fc"/>
<rect x="156.92" y="450.99" width="8.65" height="8.64" fill="#b9e3fc"/>
<rect x="165.52" y="450.99" width="8.65" height="8.64" fill="#b9e3fc"/>
<rect x="174.11" y="450.99" width="8.65" height="8.64" fill="#b9e3fc"/>
<rect x="182.71" y="450.99" width="8.65" height="8.64" fill="#b9e3fc"/>
<rect x="191.30" y="450.99" width="8.65" height="8.64" fill="#b9e3fc"/>
<rect x="19.40" y="459.58" width="8.65" height="8.64" fill="#a4dafb"/>
<rect x="28.00" y="459.58" width="8.65" height="8.64" fill="#9fd8fb"/>
<rect x="36.59" y="459.58" width="8.65" height="8.64" fill="#a6dbfb"/>
<rect x="45.19" y="459.58" width="8.65" height="8.64" fill="#b5e1fc"/>
<rect x="53.78" y="459.58" width="8.65" height="8.64" fill="#b5e1fc"/>
<rect x="62.38" y="459.58" width="8.65" height="8.64" fill="#b5e1fc"/>
<rect x="70.97" y="459.58" width="8.65" height="8.64" fill="#b9e3fc"/>
<rect x="79.57" y="459.58" width="8.65" height="8.64" fill="#b9e3fc"/>
<rect x="88.16" y="459.58" width="8.65" height="8.64" fill="#b9e3fc"/>
<rect x="96.76" y="459.58" width="8.65" height="8.64" fill="#b7e2fc"/>
<rect x="105.35" y="459.58" width="8.65" height="8.64" fill="#b7e2fc"/>
<rect x="113.95" y="459.58" width="8.65" height="8.64" fill="#b7e2fc"/>
<rect x="122.54" y="459.58" width="8.65" height="8.64" fill="#bce4fc"/>
<rect x="131.14" y="459.58" width="8.65" height="8.64" fill="#bce4fc"/>
<rect x="139.73" y="459.58" width="8.65" height="8.64" fill="#bce4fc"/>
<rect x="148.33" y="459.58" width="8.65" height="8.64" fill="#bee5fc"/>
<rect x="156.92" y="459.58" width="8.65" height="8.64" fill="#bee5fc"/>
<rect x="165.52" y="459.58" width="8.65" height="8.64" fill="#bee5fc"/>
<rect x="174.11" y="459.58" width="8.65" height="8.64" fill="#bce4fc"/>
<rect x="182.71" y="459.58" width="8.65" height="8.64" fill="#bce4fc"/>
<rect x="191.30" y="459.58" width="8.65" height="8.64" fill="#bce4fc"/>
<rect x="19.40" y="468.16" width="8.65" height="8.64" fill="#a6dbfb"/>
<rect x="28.00" y="468.16" width="8.65" height="8.64" fill="#9fd8fb"/>
<rect x="36.59" y="468.16" width="8.65" height="8.64" fill="#a4dafb"/>
<rect x="45.19" y="468.16" width="8.65" height="8.64" fill="#b7e2fc"/>
<rect x="53.78" y="468.16" width="8.65" height="8.64" fill="#b7e2fc"/>
<rect x="62.38" y="468.16" width="8.65" height="8.64" fill="#b7e2fc"/>
<rect x="70.97" y="468.16" width="8.65" height="8.64" fill="#b9e3fc"/>
<rect x="79.57" y="468.16" width="8.65" height="8.64" fill="#b9e3fc"/>
<rect x="88.16" y="468.16" width="8.65" height="8.64" fill="#b9e3fc"/>
<rect x="96.76" y="468.16" width="8.65" height="8.64" fill="#b7e2fc"/>
<rect x="105.35" y="468.16" width="8.65" height="8.64" fill="#b7e2fc"/>
<rect x="113.95" y="468.16" width="8.65" height="8.64" fill="#b7e2fc"/>
<rect x="122.54" y="468.16" width="8.65" height="8.64" fill="#b7e2fc"/>
<rect x="131.14" y="468.16" width="8.65" height="8.64" fill="#b7e2fc"/>
<rect x="139.73" y="468.16" width="8.65" height="8.64" fill="#b7e2fc"/>
<rect x="148.33" y="468.16" width="8.65" height="8.64" fill="#b9e3fc"/>
<rect x="156.92" y="468.16" width="8.65" height="8.64" fill="#b9e3fc"/>
<rect x="165.52" y="468.16" width="8.65" height="8.64" fill="#b9e3fc"/>
<rect x="174.11" y="468.16" width="8.65" height="8.64" fill="#b9e3fc"/>
<rect x="182.71" y="468.16" width="8.65" height="8.64" fill="#b9e3fc"/>
<rect x="191.30" y="468.16" width="8.65" height="8.64" fill="#b9e3fc"/>
<rect x="19.40" y="476.75" width="8.65" height="8.64" fill="#e2f3fe"/>
<rect x="28.00" y="476.75" width="8.65" height="8.64" fill="#e2f3fe"/>
<rect x="36.59" y="476.75" width="8.65" height="8.64" fill="#e2f3fe"/>
<rect x="45.19" y="476.75" width="8.65" height="8.64" fill="#a9dcfb"/>
<rect x="53.78" y="476.75" width="8.65" height="8.64" fill="#a9dcfb"/>
<rect x="62.38" y="476.75" width="8.65" height="8.64" fill="#a6dbfb"/>
<rect x="70.97" y="476.75" width="8.65" height="8.64" fill="#b0dffc"/>
<rect x="79.57" y="476.75" width="8.65" height="8.64" fill="#b0dffc"/>
<rect x="88.16" y="476.75" width="8.65" height="8.64" fill="#b0dffc"/>
<rect x="96.76" y="476.75" width="8.65" height="8.64" fill="#addefc"/>
<rect x="105.35" y="476.75" width="8.65" height="8.64" fill="#addefc"/>
<rect x="113.95" y="476.75" width="8.65" height="8.64" fill="#addefc"/>
<rect x="122.54" y="476.75" width="8.65" height="8.64" fill="#b2e0fc"/>
<rect x="131.14" y="476.75" width="8.65" height="8.64" fill="#b2e0fc"/>
<rect x="139.73" y="476.75" width="8.65" height="8.64" fill="#b2e0fc"/>
<rect x="148.33" y="476.75" width="8.65" height="8.64" fill="#b2e0fc"/>
<rect x="156.92" y="476.75" width="8.65" height="8.64" fill="#b2e0fc"/>
<rect x="165.52" y="476.75" width="8.65" height="8.64" fill="#b2e0fc"/>
<rect x="174.11" y="476.75" width="8.65" height="8.64" fill="#b5e1fc"/>
<rect x="182.71" y="476.75" width="8.65" height="8.64" fill="#b5e1fc"/>
<rect x="191.30" y="476.75" width="8.65" height="8.64" fill="#b5e1fc"/>
<rect x="19.40" y="485.34" width="8.65" height="8.64" fill="#ffffff"/>
<rect x="28.00" y="485.34" width="8.65" height="8.64" fill="#ffffff"/>
<rect x="36.59" y="485.34" width="8.65" height="8.64" fill="#ffffff"/>
<rect x="45.19" y="485.34" width="8.65" height="8.64" fill="#b7e2fc"/>
<rect x="53.78" y="485.34" width="8.65" height="8.64" fill="#b7e2fc"/>
<rect x="62.38" y="485.34" width="8.65" height="8.64" fill="#b7e2fc"/>
<rect x="70.97" y="485.34" width="8.65" height="8.64" fill="#b7e2fc"/>
<rect x="79.57" y="485.34" width="8.65" height="8.64" fill="#b7e2fc"/>
<rect x="88.16" y="485.34" width="8.65" height="8.64" fill="#b7e2fc"/>
<rect x="96.76" y="485.34" width="8.65" height="8.64" fill="#b5e1fc"/>
<rect x="105.35" y="485.34" width="8.65" height="8.64" fill="#b5e1fc"/>
<rect x="113.95" y="485.34" width="8.65" height="8.64" fill="#b5e1fc"/>
<rect x="122.54" y="485.34" width="8.65" height="8.64" fill="#b7e2fc"/>
<rect x="131.14" y="485.34" width="8.65" height="8.64" fill="#b7e2fc"/>
<rect x="139.73" y="485.34" width="8.65" height="8.64" fill="#b7e2fc"/>
<rect x="148.33" y="485.34" width="8.65" height="8.64" fill="#b5e1fc"/>
<rect x="156.92" y="485.34" width="8.65" height="8.64" fill="#b5e1fc"/>
<rect x="165.52" y="485.34" width="8.65" height="8.64" fill="#b5e1fc"/>
<rect x="174.11" y="485.34" width="8.65" height="8.64" fill="#b2e0fc"/>
<rect x="182.71" y="485.34" width="8.65" height="8.64" fill="#b2e0fc"/>
<rect x="191.30" y="485.34" width="8.65" height="8.64" fill="#b2e0fc"/>
<rect x="19.40" y="493.92" width="8.65" height="8.64" fill="#ffffff"/>
<rect x="28.00" y="493.92" width="8.65" height="8.64" fill="#ffffff"/>
<rect x="36.59" y="493.92" width="8.65" height="8.64" fill="#ffffff"/>
<rect x="45.19" y="493.92" width="8.65" height="8.64" fill="#b0dffc"/>
<rect x="53.78" y="493.92" width="8.65" height="8.64" fill="#b0dffc"/>
<rect x="62.38" y="493.92" width="8.65" height="8.64" fill="#b0dffc"/>
<rect x="70.97" y="493.92" width="8.65" height="8.64" fill="#a9dcfb"/>
<rect x="79.57" y="493.92" width="8.65" height="8.64" fill="#abddfc"/>
<rect x="88.16" y="493.92" width="8.65" height="8.64" fill="#b0dffc"/>
<rect x="96.76" y="493.92" width="8.65" height="8.64" fill="#b0dffc"/>
<rect x="105.35" y="493.92" width="8.65" height="8.64" fill="#addefc"/>
<rect x="113.95" y="493.92" width="8.65" height="8.64" fill="#addefc"/>
<rect x="122.54" y="493.92" width="8.65" height="8.64" fill="#b7e2fc"/>
<rect x="131.14" y="493.92" width="8.65" height="8.64" fill="#b2e0fc"/>
<rect x="139.73" y="493.92" width="8.65" height="8.64" fill="#b0dffc"/>
<rect x="148.33" y="493.92" width="8.65" height="8.64" fill="#abddfc"/>
<rect x="156.92" y="493.92" width="8.65" height="8.64" fill="#addefc"/>
<rect x="165.52" y="493.92" width="8.65" height="8.64" fill="#a9dcfb"/>
<rect x="174.11" y="493.92" width="8.65" height="8.64" fill="#a9dcfb"/>
<rect x="182.71" y="493.92" width="8.65" height="8.64" fill="#b0dffc"/>
<rect x="191.30" y="493.92" width="8.65" height="8.64" fill="#b2e0fc"/>
<rect x="19.40" y="502.51" width="8.65" height="8.64" fill="#ffffff"/>
<rect x="28.00" y="502.51" width="8.65" height="8.64" fill="#ffffff"/>
<rect x="36.59" y="502.51" width="8.65" height="8.64" fill="#ffffff"/>
<rect x="45.19" y="502.51" width="8.65" height="8.64" fill="#b0dffc"/>
<rect x="53.78" y="502.51" width="8.65" height="8.64" fill="#b0dffc"/>
<rect x="62.38" y="502.51" width="8.65" height="8.64" fill="#b0dffc"/>
<rect x="70.97" y="502.51" width="8.65" height="8.64" fill="#a9dcfb"/>
<rect x="79.57" y="502.51" width="8.65" height="8.64" fill="#a9dcfb"/>
<rect x="88.16" y="502.51" width="8.65" height="8.64" fill="#abddfc"/>
<rect x="96.76" y="502.51" width="8.65" height="8.64" fill="#b0dffc"/>
<rect x="105.35" y="502.51" width="8.65" height="8.64" fill="#b0dffc"/>
<rect x="113.95" y="502.51" width="8.65" height="8.64" fill="#b0dffc"/>
<rect x="122.54" y="502.51" width="8.65" height="8.64" fill="#b2e0fc"/>
<rect x="131.14" y="502.51" width="8.65" height="8.64" fill="#b2e0fc"/>
<rect x="139.73" y="502.51" width="8.65" height="8.64" fill="#b2e0fc"/>
<rect x="148.33" y="502.51" width="8.65" height="8.64" fill="#b0dffc"/>
<rect x="156.92" y="502.51" width="8.65" height="8.64" fill="#addefc"/>
<rect x="165.52" y="502.51" width="8.65" height="8.64" fill="#abddfc"/>
<rect x="174.11" y="502.51" width="8.65" height="8.64" fill="#abddfc"/>
<rect x="182.71" y="502.51" width="8.65" height="8.64" fill="#b2e0fc"/>
<rect x="191.30" y="502.51" width="8.65" height="8.64" fill="#b5e1fc"/>
<rect x="19.40" y="511.09" width="8.65" height="8.64" fill="#ffffff"/>
<rect x="28.00" y="511.09" width="8.65" height="8.64" fill="#ffffff"/>
<rect x="36.59" y="511.09" width="8.65" height="8.64" fill="#ffffff"/>
<rect x="45.19" y="511.09" width="8.65" height="8.64" fill="#dbf0fe"/>
<rect x="53.78" y="511.09" width="8.65" height="8.64" fill="#d6eefd"/>
<rect x="62.38" y="511.09" width="8.65" height="8.64" fill="#e0f2fe"/>
<rect x="70.97" y="511.09" width="8.65" height="8.64" fill="#cae9fd"/>
<rect x="79.57" y="511.09" width="8.65" height="8.64" fill="#cae9fd"/>
<rect x="88.16" y="511.09" width="8.65" height="8.64" fill="#cae9fd"/>
<rect x="96.76" y="511.09" width="8.65" height="8.64" fill="#cdeafd"/>
<rect x="105.35" y="511.09" width="8.65" height="8.64" fill="#cdeafd"/>
<rect x="113.95" y="511.09" width="8.65" height="8.64" fill="#cdeafd"/>
<rect x="122.54" y="511.09" width="8.65" height="8.64" fill="#cdeafd"/>
<rect x="131.14" y="511.09" width="8.65" height="8.64" fill="#cdeafd"/>
<rect x="139.73" y="511.09" width="8.65" height="8.64" fill="#cdeafd"/>
<rect x="148.33" y="511.09" width="8.65" height="8.64" fill="#c5e7fd"/>
<rect x="156.92" y="511.09" width="8.65" height="8.64" fill="#c5e7fd"/>
<rect x="165.52" y="511.09" width="8.65" height="8.64" fill="#c5e7fd"/>
<rect x="174.11" y="511.09" width="8.65" height="8.64" fill="#c5e7fd"/>
<rect x="182.71" y="511.09" width="8.65" height="8.64" fill="#c5e7fd"/>
<rect x="191.30" y="511.09" width="8.65" height="8.64" fill="#c5e7fd"/>
<rect x="19.40" y="519.68" width="8.65" height="8.64" fill="#ffffff"/>
<rect x="28.00" y="519.68" width="8.65" height="8.64" fill="#ffffff"/>
<rect x="36.59" y="519.68" width="8.65" height="8.64" fill="#ffffff"/>
<rect x="45.19" y="519.68" width="8.65" height="8.64" fill="#bce4fc"/>
<rect x="53.78" y="519.68" width="8.65" height="8.64" fill="#bee5fc"/>
<rect x="62.38" y="519.68" width="8.65" height="8.64" fill="#c1e6fc"/>
<rect x="70.97" y="519.68" width="8.65" height="8.64" fill="#cae9fd"/>
<rect x="79.57" y="519.68" width="8.65" height="8.64" fill="#cae9fd"/>
<rect x="88.16" y="519.68" width="8.65" height="8.64" fill="#cae9fd"/>
<rect x="96.76" y="519.68" width="8.65" height="8.64" fill="#c3e6fc"/>
<rect x="105.35" y="519.68" width="8.65" height="8.64" fill="#c1e6fc"/>
<rect x="113.95" y="519.68" width="8.65" height="8.64" fill="#c5e7fd"/>
<rect x="122.54" y="519.68" width="8.65" height="8.64" fill="#cfebfd"/>
<rect x="131.14" y="519.68" width="8.65" height="8.64" fill="#cfebfd"/>
<rect x="139.73" y="519.68" width="8.65" height="8.64" fill="#cfebfd"/>
<rect x="148.33" y="519.68" width="8.65" height="8.64" fill="#c8e8fd"/>
<rect x="156.92" y="519.68" width="8.65" height="8.64" fill="#c8e8fd"/>
<rect x="165.52" y="519.68" width="8.65" height="8.64" fill="#c8e8fd"/>
<rect x="174.11" y="519.68" width="8.65" height="8.64" fill="#c3e6fc"/>
<rect x="182.71" y="519.68" width="8.65" height="8.64" fill="#c8e8fd"/>
<rect x="191.30" y="519.68" width="8.65" height="8.64" fill="#cae9fd"/>
<rect x="19.40" y="528.27" width="8.65" height="8.64" fill="#ffffff"/>
<rect x="28.00" y="528.27" width="8.65" height="8.64" fill="#ffffff"/>
<rect x="36.59" y="528.27" width="8.65" height="8.64" fill="#ffffff"/>
<rect x="45.19" y="528.27" width="8.65" height="8.64" fill="#c1e6fc"/>
<rect x="53.78" y="528.27" width="8.65" height="8.64" fill="#c1e6fc"/>
<rect x="62.38" y="528.27" width="8.65" height="8.64" fill="#c1e6fc"/>
<rect x="70.97" y="528.27" width="8.65" height="8.64" fill="#c3e6fc"/>
<rect x="79.57" y="528.27" width="8.65" height="8.64" fill="#c3e6fc"/>
<rect x="88.16" y="528.27" width="8.65" height="8.64" fill="#c3e6fc"/>
<rect x="96.76" y="528.27" width="8.65" height="8.64" fill="#c3e6fc"/>
<rect x="105.35" y="528.27" width="8.65" height="8.64" fill="#c3e6fc"/>
<rect x="113.95" y="528.27" width="8.65" height="8.64" fill="#c3e6fc"/>
<rect x="122.54" y="528.27" width="8.65" height="8.64" fill="#c3e6fc"/>
<rect x="131.14" y="528.27" width="8.65" height="8.64" fill="#c3e6fc"/>
<rect x="139.73" y="528.27" width="8.65" height="8.64" fill="#c3e6fc"/>
<rect x="148.33" y="528.27" width="8.65" height="8.64" fill="#c3e6fc"/>
<rect x="156.92" y="528.27" width="8.65" height="8.64" fill="#c3e6fc"/>
<rect x="165.52" y="528.27" width="8.65" height="8.64" fill="#c3e6fc"/>
<rect x="174.11" y="528.27" width="8.65" height="8.64" fill="#c3e6fc"/>
<rect x="182.71" y="528.27" width="8.65" height="8.64" fill="#c3e6fc"/>
<rect x="191.30" y="528.27" width="8.65" height="8.64" fill="#c3e6fc"/>
<rect x="19.40" y="536.85" width="8.65" height="8.64" fill="#f8fcff"/>
<rect x="28.00" y="536.85" width="8.65" height="8.64" fill="#f8fcff"/>
<rect x="36.59" y="536.85" width="8.65" height="8.64" fill="#f8fcff"/>
<rect x="45.19" y="536.85" width="8.65" height="8.64" fill="#c1e6fc"/>
<rect x="53.78" y="536.85" width="8.65" height="8.64" fill="#c1e6fc"/>
<rect x="62.38" y="536.85" width="8.65" height="8.64" fill="#c1e6fc"/>
<rect x="70.97" y="536.85" width="8.65" height="8.64" fill="#c1e6fc"/>
<rect x="79.57" y="536.85" width="8.65" height="8.64" fill="#c1e6fc"/>
<rect x="88.16" y="536.85" width="8.65" height="8.64" fill="#c1e6fc"/>
<rect x="96.76" y="536.85" width="8.65" height="8.64" fill="#c3e6fc"/>
<rect x="105.35" y="536.85" width="8.65" height="8.64" fill="#c3e6fc"/>
<rect x="113.95" y="536.85" width="8.65" height="8.64" fill="#c3e6fc"/>
<rect x="122.54" y="536.85" width="8.65" height="8.64" fill="#c5e7fd"/>
<rect x="131.14" y="536.85" width="8.65" height="8.64" fill="#c5e7fd"/>
<rect x="139.73" y="536.85" width="8.65" height="8.64" fill="#c5e7fd"/>
<rect x="148.33" y="536.85" width="8.65" height="8.64" fill="#c5e7fd"/>
<rect x="156.92" y="536.85" width="8.65" height="8.64" fill="#c5e7fd"/>
<rect x="165.52" y="536.85" width="8.65" height="8.64" fill="#c5e7fd"/>
<rect x="174.11" y="536.85" width="8.65" height="8.64" fill="#c5e7fd"/>
<rect x="182.71" y="536.85" width="8.65" height="8.64" fill="#c5e7fd"/>
<rect x="191.30" y="536.85" width="8.65" height="8.64" fill="#c5e7fd"/>
<rect x="19.40" y="545.44" width="8.65" height="8.64" fill="#ffffff"/>
<rect x="28.00" y="545.44" width="8.65" height="8.64" fill="#ffffff"/>
<rect x="36.59" y="545.44" width="8.65" height="8.64" fill="#ffffff"/>
<rect x="45.19" y="545.44" width="8.65" height="8.64" fill="#bee5fc"/>
<rect x="53.78" y="545.44" width="8.65" height="8.64" fill="#bee5fc"/>
<rect x="62.38" y="545.44" width="8.65" height="8.64" fill="#bee5fc"/>
<rect x="70.97" y="545.44" width="8.65" height="8.64" fill="#bee5fc"/>
<rect x="79.57" y="545.44" width="8.65" height="8.64" fill="#bee5fc"/>
<rect x="88.16" y="545.44" width="8.65" height="8.64" fill="#bee5fc"/>
<rect x="96.76" y="545.44" width="8.65" height="8.64" fill="#bee5fc"/>
<rect x="105.35" y="545.44" width="8.65" height="8.64" fill="#bee5fc"/>
<rect x="113.95" y="545.44" width="8.65" height="8.64" fill="#bee5fc"/>
<rect x="122.54" y="545.44" width="8.65" height="8.64" fill="#c3e6fc"/>
<rect x="131.14" y="545.44" width="8.65" height="8.64" fill="#c3e6fc"/>
<rect x="139.73" y="545.44" width="8.65" height="8.64" fill="#c3e6fc"/>
<rect x="148.33" y="545.44" width="8.65" height="8.64" fill="#c3e6fc"/>
<rect x="156.92" y="545.44" width="8.65" height="8.64" fill="#c3e6fc"/>
<rect x="165.52" y="545.44" width="8.65" height="8.64" fill="#c3e6fc"/>
<rect x="174.11" y="545.44" width="8.65" height="8.64" fill="#c3e6fc"/>
<rect x="182.71" y="545.44" width="8.65" height="8.64" fill="#c3e6fc"/>
<rect x="191.30" y="545.44" width="8.65" height="8.64" fill="#c3e6fc"/>
<rect x="19.40" y="554.02" width="8.65" height="8.64" fill="#ffffff"/>
<rect x="28.00" y="554.02" width="8.65" height="8.64" fill="#ffffff"/>
<rect x="36.59" y="554.02" width="8.65" height="8.64" fill="#ffffff"/>
<rect x="45.19" y="554.02" width="8.65" height="8.64" fill="#b9e3fc"/>
<rect x="53.78" y="554.02" width="8.65" height="8.64" fill="#b9e3fc"/>
<rect x="62.38" y="554.02" width="8.65" height="8.64" fill="#b9e3fc"/>
<rect x="70.97" y="554.02" width="8.65" height="8.64" fill="#b9e3fc"/>
<rect x="79.57" y="554.02" width="8.65" height="8.64" fill="#b9e3fc"/>
<rect x="88.16" y="554.02" width="8.65" height="8.64" fill="#b9e3fc"/>
<rect x="96.76" y="554.02" width="8.65" height="8.64" fill="#b9e3fc"/>
<rect x="105.35" y="554.02" width="8.65" height="8.64" fill="#b9e3fc"/>
<rect x="113.95" y="554.02" width="8.65" height="8.64" fill="#b9e3fc"/>
<rect x="122.54" y="554.02" width="8.65" height="8.64" fill="#bee5fc"/>
<rect x="131.14" y="554.02" width="8.65" height="8.64" fill="#bee5fc"/>
<rect x="139.73" y="554.02" width="8.65" height="8.64" fill="#bee5fc"/>
<rect x="148.33" y="554.02" width="8.65" height="8.64" fill="#c1e6fc"/>
<rect x="156.92" y="554.02" width="8.65" height="8.64" fill="#c1e6fc"/>
<rect x="165.52" y="554.02" width="8.65" height="8.64" fill="#c1e6fc"/>
<rect x="174.11" y="554.02" width="8.65" height="8.64" fill="#c3e6fc"/>
<rect x="182.71" y="554.02" width="8.65" height="8.64" fill="#c3e6fc"/>
<rect x="191.30" y="554.02" width="8.65" height="8.64" fill="#c3e6fc"/>
<path d="M19.40 262.10V562.61M28.00 262.10V562.61M36.59 262.10V562.61M45.19 262.10V562.61M53.78 262.10V562.61M62.38 262.10V562.61M70.97 262.10V562.61M79.57 262.10V562.61M88.16 262.10V562.61M96.76 262.10V562.61M105.35 262.10V562.61M113.95 262.10V562.61M122.54 262.10V562.61M131.14 262.10V562.61M139.73 262.10V562.61M148.33 262.10V562.61M156.92 262.10V562.61M165.52 262.10V562.61M174.11 262.10V562.61M182.71 262.10V562.61M191.30 262.10V562.61M199.90 262.10V562.61M19.40 262.10H199.90M19.40 270.69H199.90M19.40 279.27H199.90M19.40 287.86H199.90M19.40 296.44H199.90M19.40 305.03H199.90M19.40 313.62H199.90M19.40 322.20H199.90M19.40 330.79H199.90M19.40 339.37H199.90M19.40 347.96H199.90M19.40 356.55H199.90M19.40 365.13H199.90M19.40 373.72H199.90M19.40 382.30H199.90M19.40 390.89H199.90M19.40 399.48H199.90M19.40 408.06H199.90M19.40 416.65H199.90M19.40 425.23H199.90M19.40 433.82H199.90M19.40 442.41H199.90M19.40 450.99H199.90M19.40 459.58H199.90M19.40 468.16H199.90M19.40 476.75H199.90M19.40 485.34H199.90M19.40 493.92H199.90M19.40 502.51H199.90M19.40 511.09H199.90M19.40 519.68H199.90M19.40 528.27H199.90M19.40 536.85H199.90M19.40 545.44H199.90M19.40 554.02H199.90M19.40 562.61H199.90" stroke="#909090" stroke-width="0.5" fill="none" opacity="0.5"/>
<line x1="4.30" y1="305.50" x2="4.30" y2="409.40" stroke="#3a3a3a" stroke-width="0.5"/>
<line x1="9.30" y1="285.10" x2="9.30" y2="326.80" stroke="#3a3a3a" stroke-width="0.5"/>
<line x1="15.10" y1="272.50" x2="15.10" y2="298.70" stroke="#3a3a3a" stroke-width="0.5"/>
<line x1="18.40" y1="266.90" x2="18.40" y2="279.70" stroke="#3a3a3a" stroke-width="0.5"/>
<line x1="18.90" y1="275.40" x2="18.90" y2="284.00" stroke="#3a3a3a" stroke-width="0.5"/>
<line x1="17.60" y1="292.50" x2="17.60" y2="305.30" stroke="#3a3a3a" stroke-width="0.5"/>
<line x1="18.90" y1="301.10" x2="18.90" y2="309.60" stroke="#3a3a3a" stroke-width="0.5"/>
<line x1="12.00" y1="318.20" x2="12.00" y2="333.00" stroke="#b0b0b0" stroke-width="0.5"/>
<line x1="15.90" y1="330.00" x2="15.90" y2="347.00" stroke="#3a3a3a" stroke-width="0.5"/>
<line x1="18.40" y1="326.70" x2="18.40" y2="335.30" stroke="#3a3a3a" stroke-width="0.5"/>
<line x1="18.40" y1="343.80" x2="18.40" y2="352.40" stroke="#3a3a3a" stroke-width="0.5"/>
<line x1="15.50" y1="364.70" x2="15.50" y2="381.20" stroke="#3a3a3a" stroke-width="0.5"/>
<line x1="18.40" y1="360.90" x2="18.40" y2="369.50" stroke="#3a3a3a" stroke-width="0.5"/>
<line x1="17.20" y1="376.00" x2="17.20" y2="386.60" stroke="#3a3a3a" stroke-width="0.5"/>
<line x1="9.70" y1="371.50" x2="9.70" y2="410.30" stroke="#b0b0b0" stroke-width="0.5"/>
<line x1="18.40" y1="395.10" x2="18.40" y2="403.70" stroke="#3a3a3a" stroke-width="0.5"/>
<line x1="10.70" y1="405.00" x2="10.70" y2="445.80" stroke="#b0b0b0" stroke-width="0.5"/>
<line x1="13.60" y1="407.00" x2="13.60" y2="484.60" stroke="#3a3a3a" stroke-width="0.5"/>
<line x1="19.00" y1="412.20" x2="19.00" y2="446.40" stroke="#3a3a3a" stroke-width="0.5"/>
<line x1="16.50" y1="461.30" x2="16.50" y2="506.00" stroke="#3a3a3a" stroke-width="0.5"/>
<line x1="18.40" y1="488.50" x2="18.40" y2="556.50" stroke="#3a3a3a" stroke-width="0.5"/>
<line x1="18.90" y1="463.50" x2="18.90" y2="472.00" stroke="#3a3a3a" stroke-width="0.5"/>
<line x1="17.60" y1="455.00" x2="17.60" y2="467.80" stroke="#3a3a3a" stroke-width="0.5"/>
<line x1="19.20" y1="497.50" x2="19.20" y2="557.70" stroke="#3a3a3a" stroke-width="0.5"/>
<line x1="4.30" y1="305.50" x2="9.30" y2="305.50" stroke="#3a3a3a" stroke-width="0.5"/>
<line x1="9.30" y1="285.10" x2="15.10" y2="285.10" stroke="#3a3a3a" stroke-width="0.5"/>
<line x1="9.30" y1="326.80" x2="12.00" y2="326.80" stroke="#3a3a3a" stroke-width="0.5"/>
<line x1="15.10" y1="272.50" x2="18.40" y2="272.50" stroke="#3a3a3a" stroke-width="0.5"/>
<line x1="15.10" y1="298.70" x2="17.60" y2="298.70" stroke="#3a3a3a" stroke-width="0.5"/>
<line x1="4.30" y1="409.40" x2="9.70" y2="409.40" stroke="#3a3a3a" stroke-width="0.5"/>
<line x1="12.00" y1="318.20" x2="19.60" y2="318.20" stroke="#b0b0b0" stroke-width="0.5"/>
<line x1="12.00" y1="333.00" x2="15.90" y2="333.00" stroke="#b0b0b0" stroke-width="0.5"/>
<line x1="15.90" y1="330.00" x2="18.40" y2="330.00" stroke="#3a3a3a" stroke-width="0.5"/>
<line x1="15.90" y1="347.00" x2="18.40" y2="347.00" stroke="#3a3a3a" stroke-width="0.5"/>
<line x1="9.70" y1="371.50" x2="15.50" y2="371.50" stroke="#b0b0b0" stroke-width="0.5"/>
<line x1="15.50" y1="364.70" x2="18.40" y2="364.70" stroke="#3a3a3a" stroke-width="0.5"/>
<line x1="15.50" y1="381.20" x2="17.20" y2="381.20" stroke="#3a3a3a" stroke-width="0.5"/>
<line x1="9.70" y1="410.30" x2="10.70" y2="410.30" stroke="#b0b0b0" stroke-width="0.5"/>
<line x1="10.70" y1="399.40" x2="18.40" y2="399.40" stroke="#b0b0b0" stroke-width="0.5"/>
<line x1="10.70" y1="445.80" x2="13.60" y2="445.80" stroke="#b0b0b0" stroke-width="0.5"/>
<line x1="13.60" y1="429.00" x2="19.00" y2="429.00" stroke="#3a3a3a" stroke-width="0.5"/>
<line x1="13.60" y1="484.60" x2="16.50" y2="484.60" stroke="#3a3a3a" stroke-width="0.5"/>
<line x1="16.50" y1="461.30" x2="17.60" y2="461.30" stroke="#3a3a3a" stroke-width="0.5"/>
<line x1="16.50" y1="506.00" x2="18.40" y2="506.00" stroke="#3a3a3a" stroke-width="0.5"/>
<line x1="18.90" y1="266.39" x2="19.70" y2="266.39" stroke="#777" stroke-width="0.4"/>
<line x1="18.90" y1="274.98" x2="19.70" y2="274.98" stroke="#777" stroke-width="0.4"/>
<line x1="18.90" y1="283.56" x2="19.70" y2="283.56" stroke="#777" stroke-width="0.4"/>
<line x1="18.90" y1="292.15" x2="19.70" y2="292.15" stroke="#777" stroke-width="0.4"/>
<line x1="18.90" y1="300.74" x2="19.70" y2="300.74" stroke="#777" stroke-width="0.4"/>
<line x1="18.90" y1="309.32" x2="19.70" y2="309.32" stroke="#777" stroke-width="0.4"/>
<line x1="18.90" y1="317.91" x2="19.70" y2="317.91" stroke="#777" stroke-width="0.4"/>
<line x1="18.90" y1="326.50" x2="19.70" y2="326.50" stroke="#777" stroke-width="0.4"/>
<line x1="18.90" y1="335.08" x2="19.70" y2="335.08" stroke="#777" stroke-width="0.4"/>
<line x1="18.90" y1="343.67" x2="19.70" y2="343.67" stroke="#777" stroke-width="0.4"/>
<line x1="18.90" y1="352.25" x2="19.70" y2="352.25" stroke="#777" stroke-width="0.4"/>
<line x1="18.90" y1="360.84" x2="19.70" y2="360.84" stroke="#777" stroke-width="0.4"/>
<line x1="18.90" y1="369.43" x2="19.70" y2="369.43" stroke="#777" stroke-width="0.4"/>
<line x1="18.90" y1="378.01" x2="19.70" y2="378.01" stroke="#777" stroke-width="0.4"/>
<line x1="18.90" y1="386.60" x2="19.70" y2="386.60" stroke="#777" stroke-width="0.4"/>
<line x1="18.90" y1="395.18" x2="19.70" y2="395.18" stroke="#777" stroke-width="0.4"/>
<line x1="18.90" y1="403.77" x2="19.70" y2="403.77" stroke="#777" stroke-width="0.4"/>
<line x1="18.90" y1="412.36" x2="19.70" y2="412.36" stroke="#777" stroke-width="0.4"/>
<line x1="18.90" y1="420.94" x2="19.70" y2="420.94" stroke="#777" stroke-width="0.4"/>
<line x1="18.90" y1="429.53" x2="19.70" y2="429.53" stroke="#777" stroke-width="0.4"/>
<line x1="18.90" y1="438.11" x2="19.70" y2="438.11" stroke="#777" stroke-width="0.4"/>
<line x1="18.90" y1="446.70" x2="19.70" y2="446.70" stroke="#777" stroke-width="0.4"/>
<line x1="18.90" y1="455.29" x2="19.70" y2="455.29" stroke="#777" stroke-width="0.4"/>
<line x1="18.90" y1="463.87" x2="19.70" y2="463.87" stroke="#777" stroke-width="0.4"/>
<line x1="18.90" y1="472.46" x2="19.70" y2="472.46" stroke="#777" stroke-width="0.4"/>
<line x1="18.90" y1="481.04" x2="19.70" y2="481.04" stroke="#777" stroke-width="0.4"/>
<line x1="18.90" y1="489.63" x2="19.70" y2="489.63" stroke="#777" stroke-width="0.4"/>
<line x1="18.90" y1="498.22" x2="19.70" y2="498.22" stroke="#777" stroke-width="0.4"/>
<line x1="18.90" y1="506.80" x2="19.70" y2="506.80" stroke="#777" stroke-width="0.4"/>
<line x1="18.90" y1="515.39" x2="19.70" y2="515.39" stroke="#777" stroke-width="0.4"/>
<line x1="18.90" y1="523.97" x2="19.70" y2="523.97" stroke="#777" stroke-width="0.4"/>
<line x1="18.90" y1="532.56" x2="19.70" y2="532.56" stroke="#777" stroke-width="0.4"/>
<line x1="18.90" y1="541.14" x2="19.70" y2="541.14" stroke="#777" stroke-width="0.4"/>
<line x1="18.90" y1="549.73" x2="19.70" y2="549.73" stroke="#777" stroke-width="0.4"/>
<line x1="18.90" y1="558.32" x2="19.70" y2="558.32" stroke="#777" stroke-width="0.4"/>
<text x="200.80" y="268.49" font-size="5.3" text-anchor="start" fill="#222" font-family='"Liberation Sans", sans-serif' textLength="112.00" lengthAdjust="spacingAndGlyphs" stroke="#222" stroke-width="0.12">f__Solirubrobacteraceae;g__Solirubrobacter</text>
<text x="200.80" y="277.08" font-size="5.3" text-anchor="start" fill="#222" font-family='"Liberation Sans", sans-serif' textLength="103.00" lengthAdjust="spacingAndGlyphs" stroke="#222" stroke-width="0.12">f__Streptomycetaceae;g__Streptomyces</text>
<text x="200.80" y="285.67" font-size="5.3" text-anchor="start" fill="#222" font-family='"Liberation Sans", sans-serif' textLength="98.00" lengthAdjust="spacingAndGlyphs" stroke="#222" stroke-width="0.12">f__Methylobacteriaceae;g__Microvirga</text>
<text x="200.80" y="294.25" font-size="5.3" text-anchor="start" fill="#222" font-family='"Liberation Sans", sans-serif' textLength="99.00" lengthAdjust="spacingAndGlyphs" stroke="#222" stroke-width="0.12">f__Sinobacteraceae;g__Steroidobacter</text>
<text x="200.80" y="302.84" font-size="5.3" text-anchor="start" fill="#222" font-family='"Liberation Sans", sans-serif' textLength="112.00" lengthAdjust="spacingAndGlyphs" stroke="#222" stroke-width="0.12">f__Hyphomicrobiaceae;g__Hyphomicrobium</text>
<text x="200.80" y="311.42" font-size="5.3" text-anchor="start" fill="#222" font-family='"Liberation Sans", sans-serif' textLength="104.00" lengthAdjust="spacingAndGlyphs" stroke="#222" stroke-width="0.12">f__Mycobacteriaceae;g__Mycobacterium</text>
<text x="200.80" y="320.01" font-size="5.3" text-anchor="start" fill="#222" font-family='"Liberation Sans", sans-serif' textLength="123.50" lengthAdjust="spacingAndGlyphs" stroke="#222" stroke-width="0.12">f__Xanthomonadaceae;g__Pseudoxanthomonas</text>
<text x="200.80" y="328.60" font-size="5.3" text-anchor="start" fill="#222" font-family='"Liberation Sans", sans-serif' textLength="88.70" lengthAdjust="spacingAndGlyphs" stroke="#222" stroke-width="0.12">f__Nocardiaceae;g__Rhodococcus</text>
<text x="200.80" y="337.18" font-size="5.3" text-anchor="start" fill="#222" font-family='"Liberation Sans", sans-serif' textLength="130.70" lengthAdjust="spacingAndGlyphs" stroke="#222" stroke-width="0.12">f__Promicromonosporaceae;g__Cellulosimicrobium</text>
<text x="200.80" y="345.77" font-size="5.3" text-anchor="start" fill="#222" font-family='"Liberation Sans", sans-serif' textLength="105.00" lengthAdjust="spacingAndGlyphs" stroke="#222" stroke-width="0.12">f__Microbacteriaceae;g__Microbacterium</text>
<text x="200.80" y="354.35" font-size="5.3" text-anchor="start" fill="#222" font-family='"Liberation Sans", sans-serif' textLength="90.00" lengthAdjust="spacingAndGlyphs" stroke="#222" stroke-width="0.12">f__Hyphomicrobiaceae;g__Devosia</text>
<text x="200.80" y="362.94" font-size="5.3" text-anchor="start" fill="#222" font-family='"Liberation Sans", sans-serif' textLength="119.00" lengthAdjust="spacingAndGlyphs" stroke="#222" stroke-width="0.12">f__Sphingobacteriaceae;g__Sphingobacterium</text>
<text x="200.80" y="371.53" font-size="5.3" text-anchor="start" fill="#222" font-family='"Liberation Sans", sans-serif' textLength="113.40" lengthAdjust="spacingAndGlyphs" stroke="#222" stroke-width="0.12">f__Sphingobacteriaceae;g__Parapedobacter</text>
<text x="200.80" y="380.11" font-size="5.3" text-anchor="start" fill="#222" font-family='"Liberation Sans", sans-serif' textLength="83.20" lengthAdjust="spacingAndGlyphs" stroke="#222" stroke-width="0.12">f__Alcaligenaceae;g__Bordetella</text>
<text x="200.80" y="388.70" font-size="5.3" text-anchor="start" fill="#222" font-family='"Liberation Sans", sans-serif' textLength="87.50" lengthAdjust="spacingAndGlyphs" stroke="#222" stroke-width="0.12">f__Hypocreaceae;g__Trichoderma</text>
<text x="200.80" y="397.28" font-size="5.3" text-anchor="start" fill="#222" font-family='"Liberation Sans", sans-serif' textLength="115.00" lengthAdjust="spacingAndGlyphs" stroke="#222" stroke-width="0.12">f__Symbiobacteriaceae;g__Symbiobacterium</text>
<text x="200.80" y="405.87" font-size="5.3" text-anchor="start" fill="#222" font-family='"Liberation Sans", sans-serif' textLength="108.00" lengthAdjust="spacingAndGlyphs" stroke="#222" stroke-width="0.12">f__Pseudomonadaceae;g__Pseudomonas</text>
<text x="200.80" y="414.46" font-size="5.3" text-anchor="start" fill="#222" font-family='"Liberation Sans", sans-serif' textLength="88.20" lengthAdjust="spacingAndGlyphs" stroke="#222" stroke-width="0.12">f__Brucellaceae;g__Ochrobactrum</text>
<text x="200.80" y="423.04" font-size="5.3" text-anchor="start" fill="#222" font-family='"Liberation Sans", sans-serif' textLength="105.00" lengthAdjust="spacingAndGlyphs" stroke="#222" stroke-width="0.12">f__Caulobacteraceae;g__Brevundimonas</text>
<text x="200.80" y="431.63" font-size="5.3" text-anchor="start" fill="#222" font-family='"Liberation Sans", sans-serif' textLength="96.00" lengthAdjust="spacingAndGlyphs" stroke="#222" stroke-width="0.12">f__Alcaligenaceae;g__Pigmentiphaga</text>
<text x="200.80" y="440.21" font-size="5.3" text-anchor="start" fill="#222" font-family='"Liberation Sans", sans-serif' textLength="105.00" lengthAdjust="spacingAndGlyphs" stroke="#222" stroke-width="0.12">f__Flavobacteriaceae;g__Flavobacterium</text>
<text x="200.80" y="448.80" font-size="5.3" text-anchor="start" fill="#222" font-family='"Liberation Sans", sans-serif' textLength="94.00" lengthAdjust="spacingAndGlyphs" stroke="#222" stroke-width="0.12">f__Comamonadaceae;g__Variovorax</text>
<text x="200.80" y="457.39" font-size="5.3" text-anchor="start" fill="#222" font-family='"Liberation Sans", sans-serif' textLength="100.00" lengthAdjust="spacingAndGlyphs" stroke="#222" stroke-width="0.12">f__Xanthomonadaceae;g__Luteimonas</text>
<text x="200.80" y="465.97" font-size="5.3" text-anchor="start" fill="#222" font-family='"Liberation Sans", sans-serif' textLength="114.60" lengthAdjust="spacingAndGlyphs" stroke="#222" stroke-width="0.12">f__Erythrobacteraceae;g__Altererythrobacter</text>
<text x="200.80" y="474.56" font-size="5.3" text-anchor="start" fill="#222" font-family='"Liberation Sans", sans-serif' textLength="111.00" lengthAdjust="spacingAndGlyphs" stroke="#222" stroke-width="0.12">f__Caulobacteraceae;g__Phenylobacterium</text>
<text x="200.80" y="483.14" font-size="5.3" text-anchor="start" fill="#222" font-family='"Liberation Sans", sans-serif' textLength="106.00" lengthAdjust="spacingAndGlyphs" stroke="#222" stroke-width="0.12">f__Phyllobacteriaceae;g__Mesorhizobium</text>
<text x="200.80" y="491.73" font-size="5.3" text-anchor="start" fill="#222" font-family='"Liberation Sans", sans-serif' textLength="89.20" lengthAdjust="spacingAndGlyphs" stroke="#222" stroke-width="0.12">f__Planctomycetaceae;g__Pirellula</text>
<text x="200.80" y="500.32" font-size="5.3" text-anchor="start" fill="#222" font-family='"Liberation Sans", sans-serif' textLength="101.40" lengthAdjust="spacingAndGlyphs" stroke="#222" stroke-width="0.12">f__Conexibacteraceae;g__Conexibacter</text>
<text x="200.80" y="508.90" font-size="5.3" text-anchor="start" fill="#222" font-family='"Liberation Sans", sans-serif' textLength="114.00" lengthAdjust="spacingAndGlyphs" stroke="#222" stroke-width="0.12">f__Pseudonocardiaceae;g__Pseudonocardia</text>
<text x="200.80" y="517.49" font-size="5.3" text-anchor="start" fill="#222" font-family='"Liberation Sans", sans-serif' textLength="128.30" lengthAdjust="spacingAndGlyphs" stroke="#222" stroke-width="0.12">f__Thermomonosporaceae;g__Thermomonospora</text>
<text x="200.80" y="526.07" font-size="5.3" text-anchor="start" fill="#222" font-family='"Liberation Sans", sans-serif' textLength="74.30" lengthAdjust="spacingAndGlyphs" stroke="#222" stroke-width="0.12">f__Unclassified;g__Luteitalea</text>
<text x="200.80" y="534.66" font-size="5.3" text-anchor="start" fill="#222" font-family='"Liberation Sans", sans-serif' textLength="100.00" lengthAdjust="spacingAndGlyphs" stroke="#222" stroke-width="0.12">f__Acidimicrobiaceae;g__Ilumatobacter</text>
<text x="200.80" y="543.25" font-size="5.3" text-anchor="start" fill="#222" font-family='"Liberation Sans", sans-serif' textLength="91.80" lengthAdjust="spacingAndGlyphs" stroke="#222" stroke-width="0.12">f__Rhodospirillaceae;g__Ferrovibrio</text>
<text x="200.80" y="551.83" font-size="5.3" text-anchor="start" fill="#222" font-family='"Liberation Sans", sans-serif' textLength="79.10" lengthAdjust="spacingAndGlyphs" stroke="#222" stroke-width="0.12">f__Kofleriaceae;g__Haliangium</text>
<text x="200.80" y="560.42" font-size="5.3" text-anchor="start" fill="#222" font-family='"Liberation Sans", sans-serif' textLength="92.80" lengthAdjust="spacingAndGlyphs" stroke="#222" stroke-width="0.12">f__Nannocystaceae;g__Nannocystis</text>
<text x="21.70" y="563.40" font-size="5.9" text-anchor="start" fill="#222" font-family='"Liberation Sans", sans-serif' transform="rotate(90 21.70 563.40)" stroke="#222" stroke-width="0.12">DO.CK1</text>
<text x="30.29" y="563.40" font-size="5.9" text-anchor="start" fill="#222" font-family='"Liberation Sans", sans-serif' transform="rotate(90 30.29 563.40)" stroke="#222" stroke-width="0.12">DO.CK2</text>
<text x="38.89" y="563.40" font-size="5.9" text-anchor="start" fill="#222" font-family='"Liberation Sans", sans-serif' transform="rotate(90 38.89 563.40)" stroke="#222" stroke-width="0.12">DO.CK3</text>
<text x="47.48" y="563.40" font-size="5.9" text-anchor="start" fill="#222" font-family='"Liberation Sans", sans-serif' transform="rotate(90 47.48 563.40)" stroke="#222" stroke-width="0.12">D25.A1</text>
<text x="56.08" y="563.40" font-size="5.9" text-anchor="start" fill="#222" font-family='"Liberation Sans", sans-serif' transform="rotate(90 56.08 563.40)" stroke="#222" stroke-width="0.12">D25.A2</text>
<text x="64.67" y="563.40" font-size="5.9" text-anchor="start" fill="#222" font-family='"Liberation Sans", sans-serif' transform="rotate(90 64.67 563.40)" stroke="#222" stroke-width="0.12">D25.A3</text>
<text x="73.27" y="563.40" font-size="5.9" text-anchor="start" fill="#222" font-family='"Liberation Sans", sans-serif' transform="rotate(90 73.27 563.40)" stroke="#222" stroke-width="0.12">D25.B1</text>
<text x="81.86" y="563.40" font-size="5.9" text-anchor="start" fill="#222" font-family='"Liberation Sans", sans-serif' transform="rotate(90 81.86 563.40)" stroke="#222" stroke-width="0.12">D25.B2</text>
<text x="90.46" y="563.40" font-size="5.9" text-anchor="start" fill="#222" font-family='"Liberation Sans", sans-serif' transform="rotate(90 90.46 563.40)" stroke="#222" stroke-width="0.12">D25.B3</text>
<text x="99.05" y="563.40" font-size="5.9" text-anchor="start" fill="#222" font-family='"Liberation Sans", sans-serif' transform="rotate(90 99.05 563.40)" stroke="#222" stroke-width="0.12">D25.E1</text>
<text x="107.65" y="563.40" font-size="5.9" text-anchor="start" fill="#222" font-family='"Liberation Sans", sans-serif' transform="rotate(90 107.65 563.40)" stroke="#222" stroke-width="0.12">D25.E2</text>
<text x="116.25" y="563.40" font-size="5.9" text-anchor="start" fill="#222" font-family='"Liberation Sans", sans-serif' transform="rotate(90 116.25 563.40)" stroke="#222" stroke-width="0.12">D25.E3</text>
<text x="124.84" y="563.40" font-size="5.9" text-anchor="start" fill="#222" font-family='"Liberation Sans", sans-serif' transform="rotate(90 124.84 563.40)" stroke="#222" stroke-width="0.12">D35.A1</text>
<text x="133.44" y="563.40" font-size="5.9" text-anchor="start" fill="#222" font-family='"Liberation Sans", sans-serif' transform="rotate(90 133.44 563.40)" stroke="#222" stroke-width="0.12">D35.A2</text>
<text x="142.03" y="563.40" font-size="5.9" text-anchor="start" fill="#222" font-family='"Liberation Sans", sans-serif' transform="rotate(90 142.03 563.40)" stroke="#222" stroke-width="0.12">D35.A3</text>
<text x="150.63" y="563.40" font-size="5.9" text-anchor="start" fill="#222" font-family='"Liberation Sans", sans-serif' transform="rotate(90 150.63 563.40)" stroke="#222" stroke-width="0.12">D35.B1</text>
<text x="159.22" y="563.40" font-size="5.9" text-anchor="start" fill="#222" font-family='"Liberation Sans", sans-serif' transform="rotate(90 159.22 563.40)" stroke="#222" stroke-width="0.12">D35.B2</text>
<text x="167.82" y="563.40" font-size="5.9" text-anchor="start" fill="#222" font-family='"Liberation Sans", sans-serif' transform="rotate(90 167.82 563.40)" stroke="#222" stroke-width="0.12">D35.B3</text>
<text x="176.41" y="563.40" font-size="5.9" text-anchor="start" fill="#222" font-family='"Liberation Sans", sans-serif' transform="rotate(90 176.41 563.40)" stroke="#222" stroke-width="0.12">D35.E1</text>
<text x="185.01" y="563.40" font-size="5.9" text-anchor="start" fill="#222" font-family='"Liberation Sans", sans-serif' transform="rotate(90 185.01 563.40)" stroke="#222" stroke-width="0.12">D35.E2</text>
<text x="193.60" y="563.40" font-size="5.9" text-anchor="start" fill="#222" font-family='"Liberation Sans", sans-serif' transform="rotate(90 193.60 563.40)" stroke="#222" stroke-width="0.12">D35.E3</text>
<defs><linearGradient id="cbC" x1="0" y1="1" x2="0" y2="0"><stop offset="0" stop-color="#ffffff"/><stop offset="0.5" stop-color="#87cefa"/><stop offset="1" stop-color="#dc143c"/></linearGradient></defs>
<rect x="334.20" y="261.50" width="1.90" height="43.00" fill="url(#cbC)"/>
<text x="338.00" y="266.00" font-size="4.9" text-anchor="start" fill="#222" font-family='"Liberation Sans", sans-serif' stroke="#222" stroke-width="0.12">35000</text>
<text x="338.00" y="271.95" font-size="4.9" text-anchor="start" fill="#222" font-family='"Liberation Sans", sans-serif' stroke="#222" stroke-width="0.12">30000</text>
<text x="338.00" y="277.90" font-size="4.9" text-anchor="start" fill="#222" font-family='"Liberation Sans", sans-serif' stroke="#222" stroke-width="0.12">25000</text>
<text x="338.00" y="283.85" font-size="4.9" text-anchor="start" fill="#222" font-family='"Liberation Sans", sans-serif' stroke="#222" stroke-width="0.12">20000</text>
<text x="338.00" y="289.80" font-size="4.9" text-anchor="start" fill="#222" font-family='"Liberation Sans", sans-serif' stroke="#222" stroke-width="0.12">15000</text>
<text x="338.00" y="295.75" font-size="4.9" text-anchor="start" fill="#222" font-family='"Liberation Sans", sans-serif' stroke="#222" stroke-width="0.12">10000</text>
<text x="338.00" y="301.70" font-size="4.9" text-anchor="start" fill="#222" font-family='"Liberation Sans", sans-serif' stroke="#222" stroke-width="0.12">5000</text>
<text x="23.70" y="251.40" font-size="22" text-anchor="start" fill="#000" font-family='"Liberation Serif", serif'>c</text>
<rect x="380.20" y="263.70" width="5.65" height="8.54" fill="#F850A0"/>
<rect x="386.50" y="263.70" width="8.55" height="8.54" fill="#f9fdca"/>
<rect x="395.00" y="263.70" width="8.55" height="8.54" fill="#f9fdca"/>
<rect x="403.49" y="263.70" width="8.55" height="8.54" fill="#f9fdca"/>
<rect x="411.99" y="263.70" width="8.55" height="8.54" fill="#fafdc8"/>
<rect x="420.48" y="263.70" width="8.55" height="8.54" fill="#f9fdca"/>
<rect x="428.98" y="263.70" width="8.55" height="8.54" fill="#f9fdca"/>
<rect x="437.47" y="263.70" width="8.55" height="8.54" fill="#fff9b6"/>
<rect x="445.97" y="263.70" width="8.55" height="8.54" fill="#fff9b6"/>
<rect x="454.46" y="263.70" width="8.55" height="8.54" fill="#fffcba"/>
<rect x="462.96" y="263.70" width="8.55" height="8.54" fill="#f9fdca"/>
<rect x="471.45" y="263.70" width="8.55" height="8.54" fill="#f9fdca"/>
<rect x="479.95" y="263.70" width="8.55" height="8.54" fill="#fafdc8"/>
<rect x="488.44" y="263.70" width="8.55" height="8.54" fill="#ffffbf"/>
<rect x="496.94" y="263.70" width="8.55" height="8.54" fill="#fafdc8"/>
<rect x="505.43" y="263.70" width="8.55" height="8.54" fill="#fcfec5"/>
<rect x="513.93" y="263.70" width="8.55" height="8.54" fill="#d73027"/>
<rect x="522.42" y="263.70" width="8.55" height="8.54" fill="#fedc8d"/>
<rect x="530.92" y="263.70" width="8.55" height="8.54" fill="#fee89c"/>
<rect x="539.41" y="263.70" width="8.55" height="8.54" fill="#fafdc8"/>
<rect x="547.91" y="263.70" width="8.55" height="8.54" fill="#f9fdca"/>
<rect x="556.40" y="263.70" width="8.55" height="8.54" fill="#f9fdca"/>
<text x="566.20" y="269.85" font-size="5.6" text-anchor="start" fill="#222" font-family='"Liberation Sans", sans-serif' stroke="#222" stroke-width="0.12">Symbiobacterium</text>
<rect x="380.20" y="272.19" width="5.65" height="8.54" fill="#FF007F"/>
<rect x="386.50" y="272.19" width="8.55" height="8.54" fill="#e0f3f8"/>
<rect x="395.00" y="272.19" width="8.55" height="8.54" fill="#dcf0f7"/>
<rect x="403.49" y="272.19" width="8.55" height="8.54" fill="#e0f3f8"/>
<rect x="411.99" y="272.19" width="8.55" height="8.54" fill="#f3fad6"/>
<rect x="420.48" y="272.19" width="8.55" height="8.54" fill="#f3fad6"/>
<rect x="428.98" y="272.19" width="8.55" height="8.54" fill="#f0f9dc"/>
<rect x="437.47" y="272.19" width="8.55" height="8.54" fill="#feeca3"/>
<rect x="445.97" y="272.19" width="8.55" height="8.54" fill="#fef0a8"/>
<rect x="454.46" y="272.19" width="8.55" height="8.54" fill="#fff6b1"/>
<rect x="462.96" y="272.19" width="8.55" height="8.54" fill="#fcfec5"/>
<rect x="471.45" y="272.19" width="8.55" height="8.54" fill="#ffffbf"/>
<rect x="479.95" y="272.19" width="8.55" height="8.54" fill="#fafdc8"/>
<rect x="488.44" y="272.19" width="8.55" height="8.54" fill="#f9fdca"/>
<rect x="496.94" y="272.19" width="8.55" height="8.54" fill="#fcfec5"/>
<rect x="505.43" y="272.19" width="8.55" height="8.54" fill="#f7fccd"/>
<rect x="513.93" y="272.19" width="8.55" height="8.54" fill="#fedc8d"/>
<rect x="522.42" y="272.19" width="8.55" height="8.54" fill="#fda66a"/>
<rect x="530.92" y="272.19" width="8.55" height="8.54" fill="#fdae6f"/>
<rect x="539.41" y="272.19" width="8.55" height="8.54" fill="#fee395"/>
<rect x="547.91" y="272.19" width="8.55" height="8.54" fill="#fffcba"/>
<rect x="556.40" y="272.19" width="8.55" height="8.54" fill="#ffffbf"/>
<text x="566.20" y="278.34" font-size="5.6" text-anchor="start" fill="#222" font-family='"Liberation Sans", sans-serif' stroke="#222" stroke-width="0.12">Roseiflexus</text>
<rect x="380.20" y="280.69" width="5.65" height="8.54" fill="#F5B5F8"/>
<rect x="386.50" y="280.69" width="8.55" height="8.54" fill="#e9f7e7"/>
<rect x="395.00" y="280.69" width="8.55" height="8.54" fill="#e9f7e7"/>
<rect x="403.49" y="280.69" width="8.55" height="8.54" fill="#ebf7e4"/>
<rect x="411.99" y="280.69" width="8.55" height="8.54" fill="#ecf8e1"/>
<rect x="420.48" y="280.69" width="8.55" height="8.54" fill="#f0f9dc"/>
<rect x="428.98" y="280.69" width="8.55" height="8.54" fill="#f0f9dc"/>
<rect x="437.47" y="280.69" width="8.55" height="8.54" fill="#fef0a8"/>
<rect x="445.97" y="280.69" width="8.55" height="8.54" fill="#fef0a8"/>
<rect x="454.46" y="280.69" width="8.55" height="8.54" fill="#fee090"/>
<rect x="462.96" y="280.69" width="8.55" height="8.54" fill="#f6fbd0"/>
<rect x="471.45" y="280.69" width="8.55" height="8.54" fill="#f9fdca"/>
<rect x="479.95" y="280.69" width="8.55" height="8.54" fill="#f9fdca"/>
<rect x="488.44" y="280.69" width="8.55" height="8.54" fill="#f9fdca"/>
<rect x="496.94" y="280.69" width="8.55" height="8.54" fill="#fcfec5"/>
<rect x="505.43" y="280.69" width="8.55" height="8.54" fill="#f9fdca"/>
<rect x="513.93" y="280.69" width="8.55" height="8.54" fill="#fff3ac"/>
<rect x="522.42" y="280.69" width="8.55" height="8.54" fill="#fee395"/>
<rect x="530.92" y="280.69" width="8.55" height="8.54" fill="#ea5e40"/>
<rect x="539.41" y="280.69" width="8.55" height="8.54" fill="#feeca3"/>
<rect x="547.91" y="280.69" width="8.55" height="8.54" fill="#ffffbf"/>
<rect x="556.40" y="280.69" width="8.55" height="8.54" fill="#fcfec5"/>
<text x="566.20" y="286.83" font-size="5.6" text-anchor="start" fill="#222" font-family='"Liberation Sans", sans-serif' stroke="#222" stroke-width="0.12">Thermomonospora</text>
<rect x="380.20" y="289.18" width="5.65" height="8.54" fill="#B88CE0"/>
<rect x="386.50" y="289.18" width="8.55" height="8.54" fill="#c8e3ef"/>
<rect x="395.00" y="289.18" width="8.55" height="8.54" fill="#c0deec"/>
<rect x="403.49" y="289.18" width="8.55" height="8.54" fill="#d0e9f2"/>
<rect x="411.99" y="289.18" width="8.55" height="8.54" fill="#fee99e"/>
<rect x="420.48" y="289.18" width="8.55" height="8.54" fill="#fee699"/>
<rect x="428.98" y="289.18" width="8.55" height="8.54" fill="#fee395"/>
<rect x="437.47" y="289.18" width="8.55" height="8.54" fill="#f0f9dc"/>
<rect x="445.97" y="289.18" width="8.55" height="8.54" fill="#fff9b6"/>
<rect x="454.46" y="289.18" width="8.55" height="8.54" fill="#f3fad6"/>
<rect x="462.96" y="289.18" width="8.55" height="8.54" fill="#fee699"/>
<rect x="471.45" y="289.18" width="8.55" height="8.54" fill="#fee99e"/>
<rect x="479.95" y="289.18" width="8.55" height="8.54" fill="#fed88a"/>
<rect x="488.44" y="289.18" width="8.55" height="8.54" fill="#fff6b1"/>
<rect x="496.94" y="289.18" width="8.55" height="8.54" fill="#fef0a8"/>
<rect x="505.43" y="289.18" width="8.55" height="8.54" fill="#fffcba"/>
<rect x="513.93" y="289.18" width="8.55" height="8.54" fill="#e6f5ed"/>
<rect x="522.42" y="289.18" width="8.55" height="8.54" fill="#e3f4f2"/>
<rect x="530.92" y="289.18" width="8.55" height="8.54" fill="#e0f3f8"/>
<rect x="539.41" y="289.18" width="8.55" height="8.54" fill="#fcfec5"/>
<rect x="547.91" y="289.18" width="8.55" height="8.54" fill="#fee090"/>
<rect x="556.40" y="289.18" width="8.55" height="8.54" fill="#fee395"/>
<text x="566.20" y="295.33" font-size="5.6" text-anchor="start" fill="#222" font-family='"Liberation Sans", sans-serif' stroke="#222" stroke-width="0.12">Arenimonas</text>
<rect x="380.20" y="297.68" width="5.65" height="8.54" fill="#B88CE0"/>
<rect x="386.50" y="297.68" width="8.55" height="8.54" fill="#d0e9f2"/>
<rect x="395.00" y="297.68" width="8.55" height="8.54" fill="#c8e3ef"/>
<rect x="403.49" y="297.68" width="8.55" height="8.54" fill="#d0e9f2"/>
<rect x="411.99" y="297.68" width="8.55" height="8.54" fill="#fff6b1"/>
<rect x="420.48" y="297.68" width="8.55" height="8.54" fill="#fff9b6"/>
<rect x="428.98" y="297.68" width="8.55" height="8.54" fill="#fff6b1"/>
<rect x="437.47" y="297.68" width="8.55" height="8.54" fill="#fdb674"/>
<rect x="445.97" y="297.68" width="8.55" height="8.54" fill="#fdc780"/>
<rect x="454.46" y="297.68" width="8.55" height="8.54" fill="#fee395"/>
<rect x="462.96" y="297.68" width="8.55" height="8.54" fill="#fee395"/>
<rect x="471.45" y="297.68" width="8.55" height="8.54" fill="#fee99e"/>
<rect x="479.95" y="297.68" width="8.55" height="8.54" fill="#fee699"/>
<rect x="488.44" y="297.68" width="8.55" height="8.54" fill="#f0f9dc"/>
<rect x="496.94" y="297.68" width="8.55" height="8.54" fill="#f3fad6"/>
<rect x="505.43" y="297.68" width="8.55" height="8.54" fill="#f0f9dc"/>
<rect x="513.93" y="297.68" width="8.55" height="8.54" fill="#f0f9dc"/>
<rect x="522.42" y="297.68" width="8.55" height="8.54" fill="#f0f9dc"/>
<rect x="530.92" y="297.68" width="8.55" height="8.54" fill="#f3fad6"/>
<rect x="539.41" y="297.68" width="8.55" height="8.54" fill="#fcfec5"/>
<rect x="547.91" y="297.68" width="8.55" height="8.54" fill="#fffcba"/>
<rect x="556.40" y="297.68" width="8.55" height="8.54" fill="#fff6b1"/>
<text x="566.20" y="303.82" font-size="5.6" text-anchor="start" fill="#222" font-family='"Liberation Sans", sans-serif' stroke="#222" stroke-width="0.12">Nannocystis</text>
<rect x="380.20" y="306.17" width="5.65" height="8.54" fill="#B88CE0"/>
<rect x="386.50" y="306.17" width="8.55" height="8.54" fill="#bcdceb"/>
<rect x="395.00" y="306.17" width="8.55" height="8.54" fill="#bcdceb"/>
<rect x="403.49" y="306.17" width="8.55" height="8.54" fill="#b8d9ea"/>
<rect x="411.99" y="306.17" width="8.55" height="8.54" fill="#fffcba"/>
<rect x="420.48" y="306.17" width="8.55" height="8.54" fill="#ffffbf"/>
<rect x="428.98" y="306.17" width="8.55" height="8.54" fill="#ffffbf"/>
<rect x="437.47" y="306.17" width="8.55" height="8.54" fill="#fff3ac"/>
<rect x="445.97" y="306.17" width="8.55" height="8.54" fill="#fee395"/>
<rect x="454.46" y="306.17" width="8.55" height="8.54" fill="#fdae6f"/>
<rect x="462.96" y="306.17" width="8.55" height="8.54" fill="#fee99e"/>
<rect x="471.45" y="306.17" width="8.55" height="8.54" fill="#feeca3"/>
<rect x="479.95" y="306.17" width="8.55" height="8.54" fill="#feeca3"/>
<rect x="488.44" y="306.17" width="8.55" height="8.54" fill="#f6fbd0"/>
<rect x="496.94" y="306.17" width="8.55" height="8.54" fill="#fffcba"/>
<rect x="505.43" y="306.17" width="8.55" height="8.54" fill="#fff9b6"/>
<rect x="513.93" y="306.17" width="8.55" height="8.54" fill="#f3fad6"/>
<rect x="522.42" y="306.17" width="8.55" height="8.54" fill="#f6fbd0"/>
<rect x="530.92" y="306.17" width="8.55" height="8.54" fill="#f9fdca"/>
<rect x="539.41" y="306.17" width="8.55" height="8.54" fill="#fcfec5"/>
<rect x="547.91" y="306.17" width="8.55" height="8.54" fill="#fef0a8"/>
<rect x="556.40" y="306.17" width="8.55" height="8.54" fill="#fef0a8"/>
<text x="566.20" y="312.32" font-size="5.6" text-anchor="start" fill="#222" font-family='"Liberation Sans", sans-serif' stroke="#222" stroke-width="0.12">Ferrovibrio</text>
<rect x="380.20" y="314.66" width="5.65" height="8.54" fill="#B88CE0"/>
<rect x="386.50" y="314.66" width="8.55" height="8.54" fill="#add1e5"/>
<rect x="395.00" y="314.66" width="8.55" height="8.54" fill="#a9cfe4"/>
<rect x="403.49" y="314.66" width="8.55" height="8.54" fill="#add1e5"/>
<rect x="411.99" y="314.66" width="8.55" height="8.54" fill="#fff6b1"/>
<rect x="420.48" y="314.66" width="8.55" height="8.54" fill="#fff3ac"/>
<rect x="428.98" y="314.66" width="8.55" height="8.54" fill="#fff9b6"/>
<rect x="437.47" y="314.66" width="8.55" height="8.54" fill="#fff6b1"/>
<rect x="445.97" y="314.66" width="8.55" height="8.54" fill="#fef0a8"/>
<rect x="454.46" y="314.66" width="8.55" height="8.54" fill="#fff6b1"/>
<rect x="462.96" y="314.66" width="8.55" height="8.54" fill="#fff9b6"/>
<rect x="471.45" y="314.66" width="8.55" height="8.54" fill="#fff3ac"/>
<rect x="479.95" y="314.66" width="8.55" height="8.54" fill="#fffcba"/>
<rect x="488.44" y="314.66" width="8.55" height="8.54" fill="#fee699"/>
<rect x="496.94" y="314.66" width="8.55" height="8.54" fill="#fdc780"/>
<rect x="505.43" y="314.66" width="8.55" height="8.54" fill="#fed88a"/>
<rect x="513.93" y="314.66" width="8.55" height="8.54" fill="#feeca3"/>
<rect x="522.42" y="314.66" width="8.55" height="8.54" fill="#ffffbf"/>
<rect x="530.92" y="314.66" width="8.55" height="8.54" fill="#f0f9dc"/>
<rect x="539.41" y="314.66" width="8.55" height="8.54" fill="#ffffbf"/>
<rect x="547.91" y="314.66" width="8.55" height="8.54" fill="#fff9b6"/>
<rect x="556.40" y="314.66" width="8.55" height="8.54" fill="#fffcba"/>
<text x="566.20" y="320.81" font-size="5.6" text-anchor="start" fill="#222" font-family='"Liberation Sans", sans-serif' stroke="#222" stroke-width="0.12">Luteimonas</text>
<rect x="380.20" y="323.16" width="5.65" height="8.54" fill="#00E5D5"/>
<rect x="386.50" y="323.16" width="8.55" height="8.54" fill="#a5cce2"/>
<rect x="395.00" y="323.16" width="8.55" height="8.54" fill="#9dc7df"/>
<rect x="403.49" y="323.16" width="8.55" height="8.54" fill="#a5cce2"/>
<rect x="411.99" y="323.16" width="8.55" height="8.54" fill="#fff6b1"/>
<rect x="420.48" y="323.16" width="8.55" height="8.54" fill="#fff6b1"/>
<rect x="428.98" y="323.16" width="8.55" height="8.54" fill="#fff3ac"/>
<rect x="437.47" y="323.16" width="8.55" height="8.54" fill="#feeca3"/>
<rect x="445.97" y="323.16" width="8.55" height="8.54" fill="#f9fdca"/>
<rect x="454.46" y="323.16" width="8.55" height="8.54" fill="#fffcba"/>
<rect x="462.96" y="323.16" width="8.55" height="8.54" fill="#fff9b6"/>
<rect x="471.45" y="323.16" width="8.55" height="8.54" fill="#fcfec5"/>
<rect x="479.95" y="323.16" width="8.55" height="8.54" fill="#ffffbf"/>
<rect x="488.44" y="323.16" width="8.55" height="8.54" fill="#fee99e"/>
<rect x="496.94" y="323.16" width="8.55" height="8.54" fill="#fff3ac"/>
<rect x="505.43" y="323.16" width="8.55" height="8.54" fill="#fef0a8"/>
<rect x="513.93" y="323.16" width="8.55" height="8.54" fill="#fef0a8"/>
<rect x="522.42" y="323.16" width="8.55" height="8.54" fill="#fef0a8"/>
<rect x="530.92" y="323.16" width="8.55" height="8.54" fill="#fecf85"/>
<rect x="539.41" y="323.16" width="8.55" height="8.54" fill="#fff9b6"/>
<rect x="547.91" y="323.16" width="8.55" height="8.54" fill="#fef0a8"/>
<rect x="556.40" y="323.16" width="8.55" height="8.54" fill="#fef0a8"/>
<text x="566.20" y="329.31" font-size="5.6" text-anchor="start" fill="#222" font-family='"Liberation Sans", sans-serif' stroke="#222" stroke-width="0.12">Truepera</text>
<rect x="380.20" y="331.65" width="5.65" height="8.54" fill="#B88CE0"/>
<rect x="386.50" y="331.65" width="8.55" height="8.54" fill="#a5cce2"/>
<rect x="395.00" y="331.65" width="8.55" height="8.54" fill="#9dc7df"/>
<rect x="403.49" y="331.65" width="8.55" height="8.54" fill="#a5cce2"/>
<rect x="411.99" y="331.65" width="8.55" height="8.54" fill="#fff6b1"/>
<rect x="420.48" y="331.65" width="8.55" height="8.54" fill="#fff6b1"/>
<rect x="428.98" y="331.65" width="8.55" height="8.54" fill="#fff6b1"/>
<rect x="437.47" y="331.65" width="8.55" height="8.54" fill="#fff9b6"/>
<rect x="445.97" y="331.65" width="8.55" height="8.54" fill="#fff9b6"/>
<rect x="454.46" y="331.65" width="8.55" height="8.54" fill="#fff9b6"/>
<rect x="462.96" y="331.65" width="8.55" height="8.54" fill="#fff9b6"/>
<rect x="471.45" y="331.65" width="8.55" height="8.54" fill="#f9fdca"/>
<rect x="479.95" y="331.65" width="8.55" height="8.54" fill="#ffffbf"/>
<rect x="488.44" y="331.65" width="8.55" height="8.54" fill="#fee699"/>
<rect x="496.94" y="331.65" width="8.55" height="8.54" fill="#fee99e"/>
<rect x="505.43" y="331.65" width="8.55" height="8.54" fill="#fee99e"/>
<rect x="513.93" y="331.65" width="8.55" height="8.54" fill="#ffffbf"/>
<rect x="522.42" y="331.65" width="8.55" height="8.54" fill="#fff6b1"/>
<rect x="530.92" y="331.65" width="8.55" height="8.54" fill="#fffcba"/>
<rect x="539.41" y="331.65" width="8.55" height="8.54" fill="#fff6b1"/>
<rect x="547.91" y="331.65" width="8.55" height="8.54" fill="#fee99e"/>
<rect x="556.40" y="331.65" width="8.55" height="8.54" fill="#fee395"/>
<text x="566.20" y="337.80" font-size="5.6" text-anchor="start" fill="#222" font-family='"Liberation Sans", sans-serif' stroke="#222" stroke-width="0.12">Steroidobacter</text>
<rect x="380.20" y="340.15" width="5.65" height="8.54" fill="#F5B5F8"/>
<rect x="386.50" y="340.15" width="8.55" height="8.54" fill="#c0deec"/>
<rect x="395.00" y="340.15" width="8.55" height="8.54" fill="#b8d9ea"/>
<rect x="403.49" y="340.15" width="8.55" height="8.54" fill="#c0deec"/>
<rect x="411.99" y="340.15" width="8.55" height="8.54" fill="#fee395"/>
<rect x="420.48" y="340.15" width="8.55" height="8.54" fill="#fee699"/>
<rect x="428.98" y="340.15" width="8.55" height="8.54" fill="#fdbf7a"/>
<rect x="437.47" y="340.15" width="8.55" height="8.54" fill="#fef0a8"/>
<rect x="445.97" y="340.15" width="8.55" height="8.54" fill="#fff9b6"/>
<rect x="454.46" y="340.15" width="8.55" height="8.54" fill="#f3fad6"/>
<rect x="462.96" y="340.15" width="8.55" height="8.54" fill="#fff9b6"/>
<rect x="471.45" y="340.15" width="8.55" height="8.54" fill="#fee99e"/>
<rect x="479.95" y="340.15" width="8.55" height="8.54" fill="#fff6b1"/>
<rect x="488.44" y="340.15" width="8.55" height="8.54" fill="#f9fdca"/>
<rect x="496.94" y="340.15" width="8.55" height="8.54" fill="#ecf8e1"/>
<rect x="505.43" y="340.15" width="8.55" height="8.54" fill="#ecf8e1"/>
<rect x="513.93" y="340.15" width="8.55" height="8.54" fill="#fff6b1"/>
<rect x="522.42" y="340.15" width="8.55" height="8.54" fill="#fff6b1"/>
<rect x="530.92" y="340.15" width="8.55" height="8.54" fill="#fff6b1"/>
<rect x="539.41" y="340.15" width="8.55" height="8.54" fill="#fee699"/>
<rect x="547.91" y="340.15" width="8.55" height="8.54" fill="#fff9b6"/>
<rect x="556.40" y="340.15" width="8.55" height="8.54" fill="#f6fbd0"/>
<text x="566.20" y="346.29" font-size="5.6" text-anchor="start" fill="#222" font-family='"Liberation Sans", sans-serif' stroke="#222" stroke-width="0.12">Solirubrobacter</text>
<rect x="380.20" y="348.64" width="5.65" height="8.54" fill="#F55A78"/>
<rect x="386.50" y="348.64" width="8.55" height="8.54" fill="#add1e5"/>
<rect x="395.00" y="348.64" width="8.55" height="8.54" fill="#a5cce2"/>
<rect x="403.49" y="348.64" width="8.55" height="8.54" fill="#add1e5"/>
<rect x="411.99" y="348.64" width="8.55" height="8.54" fill="#fef0a8"/>
<rect x="420.48" y="348.64" width="8.55" height="8.54" fill="#feeca3"/>
<rect x="428.98" y="348.64" width="8.55" height="8.54" fill="#fff6b1"/>
<rect x="437.47" y="348.64" width="8.55" height="8.54" fill="#feeca3"/>
<rect x="445.97" y="348.64" width="8.55" height="8.54" fill="#fef0a8"/>
<rect x="454.46" y="348.64" width="8.55" height="8.54" fill="#fcfec5"/>
<rect x="462.96" y="348.64" width="8.55" height="8.54" fill="#fffcba"/>
<rect x="471.45" y="348.64" width="8.55" height="8.54" fill="#fff9b6"/>
<rect x="479.95" y="348.64" width="8.55" height="8.54" fill="#fffcba"/>
<rect x="488.44" y="348.64" width="8.55" height="8.54" fill="#fcfec5"/>
<rect x="496.94" y="348.64" width="8.55" height="8.54" fill="#ffffbf"/>
<rect x="505.43" y="348.64" width="8.55" height="8.54" fill="#f6fbd0"/>
<rect x="513.93" y="348.64" width="8.55" height="8.54" fill="#fff6b1"/>
<rect x="522.42" y="348.64" width="8.55" height="8.54" fill="#fee090"/>
<rect x="530.92" y="348.64" width="8.55" height="8.54" fill="#fee99e"/>
<rect x="539.41" y="348.64" width="8.55" height="8.54" fill="#fee395"/>
<rect x="547.91" y="348.64" width="8.55" height="8.54" fill="#fff9b6"/>
<rect x="556.40" y="348.64" width="8.55" height="8.54" fill="#fcfec5"/>
<text x="566.20" y="354.79" font-size="5.6" text-anchor="start" fill="#222" font-family='"Liberation Sans", sans-serif' stroke="#222" stroke-width="0.12">Luteitalea</text>
<rect x="380.20" y="357.13" width="5.65" height="8.54" fill="#B88CE0"/>
<rect x="386.50" y="357.13" width="8.55" height="8.54" fill="#add1e5"/>
<rect x="395.00" y="357.13" width="8.55" height="8.54" fill="#add1e5"/>
<rect x="403.49" y="357.13" width="8.55" height="8.54" fill="#b5d6e8"/>
<rect x="411.99" y="357.13" width="8.55" height="8.54" fill="#fee99e"/>
<rect x="420.48" y="357.13" width="8.55" height="8.54" fill="#fee99e"/>
<rect x="428.98" y="357.13" width="8.55" height="8.54" fill="#feeca3"/>
<rect x="437.47" y="357.13" width="8.55" height="8.54" fill="#fff6b1"/>
<rect x="445.97" y="357.13" width="8.55" height="8.54" fill="#fff9b6"/>
<rect x="454.46" y="357.13" width="8.55" height="8.54" fill="#ffffbf"/>
<rect x="462.96" y="357.13" width="8.55" height="8.54" fill="#fef0a8"/>
<rect x="471.45" y="357.13" width="8.55" height="8.54" fill="#fff3ac"/>
<rect x="479.95" y="357.13" width="8.55" height="8.54" fill="#fff6b1"/>
<rect x="488.44" y="357.13" width="8.55" height="8.54" fill="#ffffbf"/>
<rect x="496.94" y="357.13" width="8.55" height="8.54" fill="#f9fdca"/>
<rect x="505.43" y="357.13" width="8.55" height="8.54" fill="#f9fdca"/>
<rect x="513.93" y="357.13" width="8.55" height="8.54" fill="#fff3ac"/>
<rect x="522.42" y="357.13" width="8.55" height="8.54" fill="#fff6b1"/>
<rect x="530.92" y="357.13" width="8.55" height="8.54" fill="#fee395"/>
<rect x="539.41" y="357.13" width="8.55" height="8.54" fill="#fee99e"/>
<rect x="547.91" y="357.13" width="8.55" height="8.54" fill="#fff6b1"/>
<rect x="556.40" y="357.13" width="8.55" height="8.54" fill="#f9fdca"/>
<text x="566.20" y="363.28" font-size="5.6" text-anchor="start" fill="#222" font-family='"Liberation Sans", sans-serif' stroke="#222" stroke-width="0.12">Hyphomicrobium</text>
<rect x="380.20" y="365.63" width="5.65" height="8.54" fill="#B88CE0"/>
<rect x="386.50" y="365.63" width="8.55" height="8.54" fill="#c0deec"/>
<rect x="395.00" y="365.63" width="8.55" height="8.54" fill="#c8e3ef"/>
<rect x="403.49" y="365.63" width="8.55" height="8.54" fill="#e0f3f8"/>
<rect x="411.99" y="365.63" width="8.55" height="8.54" fill="#fff9b6"/>
<rect x="420.48" y="365.63" width="8.55" height="8.54" fill="#fff6b1"/>
<rect x="428.98" y="365.63" width="8.55" height="8.54" fill="#fff6b1"/>
<rect x="437.47" y="365.63" width="8.55" height="8.54" fill="#ea5e40"/>
<rect x="445.97" y="365.63" width="8.55" height="8.54" fill="#feeca3"/>
<rect x="454.46" y="365.63" width="8.55" height="8.54" fill="#fee99e"/>
<rect x="462.96" y="365.63" width="8.55" height="8.54" fill="#fef0a8"/>
<rect x="471.45" y="365.63" width="8.55" height="8.54" fill="#fff6b1"/>
<rect x="479.95" y="365.63" width="8.55" height="8.54" fill="#fffcba"/>
<rect x="488.44" y="365.63" width="8.55" height="8.54" fill="#fffcba"/>
<rect x="496.94" y="365.63" width="8.55" height="8.54" fill="#f3fad6"/>
<rect x="505.43" y="365.63" width="8.55" height="8.54" fill="#f0f9dc"/>
<rect x="513.93" y="365.63" width="8.55" height="8.54" fill="#fffcba"/>
<rect x="522.42" y="365.63" width="8.55" height="8.54" fill="#fcfec5"/>
<rect x="530.92" y="365.63" width="8.55" height="8.54" fill="#fff6b1"/>
<rect x="539.41" y="365.63" width="8.55" height="8.54" fill="#fff6b1"/>
<rect x="547.91" y="365.63" width="8.55" height="8.54" fill="#fcfec5"/>
<rect x="556.40" y="365.63" width="8.55" height="8.54" fill="#f6fbd0"/>
<text x="566.20" y="371.77" font-size="5.6" text-anchor="start" fill="#222" font-family='"Liberation Sans", sans-serif' stroke="#222" stroke-width="0.12">Chelatococcus</text>
<rect x="380.20" y="374.12" width="5.65" height="8.54" fill="#F5B5F8"/>
<rect x="386.50" y="374.12" width="8.55" height="8.54" fill="#d0e9f2"/>
<rect x="395.00" y="374.12" width="8.55" height="8.54" fill="#e3f4f2"/>
<rect x="403.49" y="374.12" width="8.55" height="8.54" fill="#e0f3f8"/>
<rect x="411.99" y="374.12" width="8.55" height="8.54" fill="#fffcba"/>
<rect x="420.48" y="374.12" width="8.55" height="8.54" fill="#fffcba"/>
<rect x="428.98" y="374.12" width="8.55" height="8.54" fill="#fffcba"/>
<rect x="437.47" y="374.12" width="8.55" height="8.54" fill="#fc9e64"/>
<rect x="445.97" y="374.12" width="8.55" height="8.54" fill="#fff3ac"/>
<rect x="454.46" y="374.12" width="8.55" height="8.54" fill="#fff9b6"/>
<rect x="462.96" y="374.12" width="8.55" height="8.54" fill="#ffffbf"/>
<rect x="471.45" y="374.12" width="8.55" height="8.54" fill="#f57a4f"/>
<rect x="479.95" y="374.12" width="8.55" height="8.54" fill="#fef0a8"/>
<rect x="488.44" y="374.12" width="8.55" height="8.54" fill="#ffffbf"/>
<rect x="496.94" y="374.12" width="8.55" height="8.54" fill="#f6fbd0"/>
<rect x="505.43" y="374.12" width="8.55" height="8.54" fill="#fcfec5"/>
<rect x="513.93" y="374.12" width="8.55" height="8.54" fill="#ffffbf"/>
<rect x="522.42" y="374.12" width="8.55" height="8.54" fill="#f9fdca"/>
<rect x="530.92" y="374.12" width="8.55" height="8.54" fill="#fff9b6"/>
<rect x="539.41" y="374.12" width="8.55" height="8.54" fill="#fff6b1"/>
<rect x="547.91" y="374.12" width="8.55" height="8.54" fill="#fcfec5"/>
<rect x="556.40" y="374.12" width="8.55" height="8.54" fill="#f9fdca"/>
<text x="566.20" y="380.27" font-size="5.6" text-anchor="start" fill="#222" font-family='"Liberation Sans", sans-serif' stroke="#222" stroke-width="0.12">Streptomyces</text>
<rect x="380.20" y="382.62" width="5.65" height="8.54" fill="#B88CE0"/>
<rect x="386.50" y="382.62" width="8.55" height="8.54" fill="#fda66a"/>
<rect x="395.00" y="382.62" width="8.55" height="8.54" fill="#fda66a"/>
<rect x="403.49" y="382.62" width="8.55" height="8.54" fill="#fc955e"/>
<rect x="411.99" y="382.62" width="8.55" height="8.54" fill="#fff9b6"/>
<rect x="420.48" y="382.62" width="8.55" height="8.54" fill="#ffffbf"/>
<rect x="428.98" y="382.62" width="8.55" height="8.54" fill="#ffffbf"/>
<rect x="437.47" y="382.62" width="8.55" height="8.54" fill="#fcfec5"/>
<rect x="445.97" y="382.62" width="8.55" height="8.54" fill="#ffffbf"/>
<rect x="454.46" y="382.62" width="8.55" height="8.54" fill="#fcfec5"/>
<rect x="462.96" y="382.62" width="8.55" height="8.54" fill="#ffffbf"/>
<rect x="471.45" y="382.62" width="8.55" height="8.54" fill="#fcfec5"/>
<rect x="479.95" y="382.62" width="8.55" height="8.54" fill="#fcfec5"/>
<rect x="488.44" y="382.62" width="8.55" height="8.54" fill="#f3fad6"/>
<rect x="496.94" y="382.62" width="8.55" height="8.54" fill="#f3fad6"/>
<rect x="505.43" y="382.62" width="8.55" height="8.54" fill="#f6fbd0"/>
<rect x="513.93" y="382.62" width="8.55" height="8.54" fill="#f6fbd0"/>
<rect x="522.42" y="382.62" width="8.55" height="8.54" fill="#f6fbd0"/>
<rect x="530.92" y="382.62" width="8.55" height="8.54" fill="#f9fdca"/>
<rect x="539.41" y="382.62" width="8.55" height="8.54" fill="#f9fdca"/>
<rect x="547.91" y="382.62" width="8.55" height="8.54" fill="#f6fbd0"/>
<rect x="556.40" y="382.62" width="8.55" height="8.54" fill="#f6fbd0"/>
<text x="566.20" y="388.76" font-size="5.6" text-anchor="start" fill="#222" font-family='"Liberation Sans", sans-serif' stroke="#222" stroke-width="0.12">Aminobacter</text>
<rect x="380.20" y="391.11" width="5.65" height="8.54" fill="#F5B5F8"/>
<rect x="386.50" y="391.11" width="8.55" height="8.54" fill="#fda66a"/>
<rect x="395.00" y="391.11" width="8.55" height="8.54" fill="#fc8d59"/>
<rect x="403.49" y="391.11" width="8.55" height="8.54" fill="#fc9e64"/>
<rect x="411.99" y="391.11" width="8.55" height="8.54" fill="#fff9b6"/>
<rect x="420.48" y="391.11" width="8.55" height="8.54" fill="#fffcba"/>
<rect x="428.98" y="391.11" width="8.55" height="8.54" fill="#ffffbf"/>
<rect x="437.47" y="391.11" width="8.55" height="8.54" fill="#ffffbf"/>
<rect x="445.97" y="391.11" width="8.55" height="8.54" fill="#ffffbf"/>
<rect x="454.46" y="391.11" width="8.55" height="8.54" fill="#fcfec5"/>
<rect x="462.96" y="391.11" width="8.55" height="8.54" fill="#ffffbf"/>
<rect x="471.45" y="391.11" width="8.55" height="8.54" fill="#fffcba"/>
<rect x="479.95" y="391.11" width="8.55" height="8.54" fill="#ffffbf"/>
<rect x="488.44" y="391.11" width="8.55" height="8.54" fill="#f3fad6"/>
<rect x="496.94" y="391.11" width="8.55" height="8.54" fill="#f3fad6"/>
<rect x="505.43" y="391.11" width="8.55" height="8.54" fill="#f3fad6"/>
<rect x="513.93" y="391.11" width="8.55" height="8.54" fill="#f3fad6"/>
<rect x="522.42" y="391.11" width="8.55" height="8.54" fill="#f3fad6"/>
<rect x="530.92" y="391.11" width="8.55" height="8.54" fill="#f3fad6"/>
<rect x="539.41" y="391.11" width="8.55" height="8.54" fill="#f3fad6"/>
<rect x="547.91" y="391.11" width="8.55" height="8.54" fill="#f3fad6"/>
<rect x="556.40" y="391.11" width="8.55" height="8.54" fill="#f3fad6"/>
<text x="566.20" y="397.26" font-size="5.6" text-anchor="start" fill="#222" font-family='"Liberation Sans", sans-serif' stroke="#222" stroke-width="0.12">Rhodococcus</text>
<rect x="380.20" y="399.60" width="5.65" height="8.54" fill="#16A3D4"/>
<rect x="386.50" y="399.60" width="8.55" height="8.54" fill="#fc9e64"/>
<rect x="395.00" y="399.60" width="8.55" height="8.54" fill="#fc8d59"/>
<rect x="403.49" y="399.60" width="8.55" height="8.54" fill="#fc955e"/>
<rect x="411.99" y="399.60" width="8.55" height="8.54" fill="#ffffbf"/>
<rect x="420.48" y="399.60" width="8.55" height="8.54" fill="#ffffbf"/>
<rect x="428.98" y="399.60" width="8.55" height="8.54" fill="#fcfec5"/>
<rect x="437.47" y="399.60" width="8.55" height="8.54" fill="#f9fdca"/>
<rect x="445.97" y="399.60" width="8.55" height="8.54" fill="#f9fdca"/>
<rect x="454.46" y="399.60" width="8.55" height="8.54" fill="#f9fdca"/>
<rect x="462.96" y="399.60" width="8.55" height="8.54" fill="#f9fdca"/>
<rect x="471.45" y="399.60" width="8.55" height="8.54" fill="#f9fdca"/>
<rect x="479.95" y="399.60" width="8.55" height="8.54" fill="#f9fdca"/>
<rect x="488.44" y="399.60" width="8.55" height="8.54" fill="#f6fbd0"/>
<rect x="496.94" y="399.60" width="8.55" height="8.54" fill="#f6fbd0"/>
<rect x="505.43" y="399.60" width="8.55" height="8.54" fill="#f6fbd0"/>
<rect x="513.93" y="399.60" width="8.55" height="8.54" fill="#f6fbd0"/>
<rect x="522.42" y="399.60" width="8.55" height="8.54" fill="#f6fbd0"/>
<rect x="530.92" y="399.60" width="8.55" height="8.54" fill="#f6fbd0"/>
<rect x="539.41" y="399.60" width="8.55" height="8.54" fill="#f6fbd0"/>
<rect x="547.91" y="399.60" width="8.55" height="8.54" fill="#f6fbd0"/>
<rect x="556.40" y="399.60" width="8.55" height="8.54" fill="#f6fbd0"/>
<text x="566.20" y="405.75" font-size="5.6" text-anchor="start" fill="#222" font-family='"Liberation Sans", sans-serif' stroke="#222" stroke-width="0.12">Flavobacterium</text>
<rect x="380.20" y="408.10" width="5.65" height="8.54" fill="#F5B5F8"/>
<rect x="386.50" y="408.10" width="8.55" height="8.54" fill="#fc9e64"/>
<rect x="395.00" y="408.10" width="8.55" height="8.54" fill="#fc955e"/>
<rect x="403.49" y="408.10" width="8.55" height="8.54" fill="#fc955e"/>
<rect x="411.99" y="408.10" width="8.55" height="8.54" fill="#ffffbf"/>
<rect x="420.48" y="408.10" width="8.55" height="8.54" fill="#ffffbf"/>
<rect x="428.98" y="408.10" width="8.55" height="8.54" fill="#ffffbf"/>
<rect x="437.47" y="408.10" width="8.55" height="8.54" fill="#f9fdca"/>
<rect x="445.97" y="408.10" width="8.55" height="8.54" fill="#f9fdca"/>
<rect x="454.46" y="408.10" width="8.55" height="8.54" fill="#f9fdca"/>
<rect x="462.96" y="408.10" width="8.55" height="8.54" fill="#fafdc8"/>
<rect x="471.45" y="408.10" width="8.55" height="8.54" fill="#fafdc8"/>
<rect x="479.95" y="408.10" width="8.55" height="8.54" fill="#fafdc8"/>
<rect x="488.44" y="408.10" width="8.55" height="8.54" fill="#f6fbd0"/>
<rect x="496.94" y="408.10" width="8.55" height="8.54" fill="#f6fbd0"/>
<rect x="505.43" y="408.10" width="8.55" height="8.54" fill="#f6fbd0"/>
<rect x="513.93" y="408.10" width="8.55" height="8.54" fill="#f6fbd0"/>
<rect x="522.42" y="408.10" width="8.55" height="8.54" fill="#f6fbd0"/>
<rect x="530.92" y="408.10" width="8.55" height="8.54" fill="#f6fbd0"/>
<rect x="539.41" y="408.10" width="8.55" height="8.54" fill="#f6fbd0"/>
<rect x="547.91" y="408.10" width="8.55" height="8.54" fill="#f6fbd0"/>
<rect x="556.40" y="408.10" width="8.55" height="8.54" fill="#f6fbd0"/>
<text x="566.20" y="414.24" font-size="5.6" text-anchor="start" fill="#222" font-family='"Liberation Sans", sans-serif' stroke="#222" stroke-width="0.12">Microbacterium</text>
<rect x="380.20" y="416.59" width="5.65" height="8.54" fill="#B88CE0"/>
<rect x="386.50" y="416.59" width="8.55" height="8.54" fill="#fc955e"/>
<rect x="395.00" y="416.59" width="8.55" height="8.54" fill="#fc955e"/>
<rect x="403.49" y="416.59" width="8.55" height="8.54" fill="#fc9e64"/>
<rect x="411.99" y="416.59" width="8.55" height="8.54" fill="#ffffbf"/>
<rect x="420.48" y="416.59" width="8.55" height="8.54" fill="#ffffbf"/>
<rect x="428.98" y="416.59" width="8.55" height="8.54" fill="#ffffbf"/>
<rect x="437.47" y="416.59" width="8.55" height="8.54" fill="#f9fdca"/>
<rect x="445.97" y="416.59" width="8.55" height="8.54" fill="#f9fdca"/>
<rect x="454.46" y="416.59" width="8.55" height="8.54" fill="#f9fdca"/>
<rect x="462.96" y="416.59" width="8.55" height="8.54" fill="#f9fdca"/>
<rect x="471.45" y="416.59" width="8.55" height="8.54" fill="#f9fdca"/>
<rect x="479.95" y="416.59" width="8.55" height="8.54" fill="#f9fdca"/>
<rect x="488.44" y="416.59" width="8.55" height="8.54" fill="#f6fbd0"/>
<rect x="496.94" y="416.59" width="8.55" height="8.54" fill="#f6fbd0"/>
<rect x="505.43" y="416.59" width="8.55" height="8.54" fill="#f6fbd0"/>
<rect x="513.93" y="416.59" width="8.55" height="8.54" fill="#f6fbd0"/>
<rect x="522.42" y="416.59" width="8.55" height="8.54" fill="#f6fbd0"/>
<rect x="530.92" y="416.59" width="8.55" height="8.54" fill="#f6fbd0"/>
<rect x="539.41" y="416.59" width="8.55" height="8.54" fill="#f6fbd0"/>
<rect x="547.91" y="416.59" width="8.55" height="8.54" fill="#f6fbd0"/>
<rect x="556.40" y="416.59" width="8.55" height="8.54" fill="#f6fbd0"/>
<text x="566.20" y="422.74" font-size="5.6" text-anchor="start" fill="#222" font-family='"Liberation Sans", sans-serif' stroke="#222" stroke-width="0.12">Devosia</text>
<rect x="380.20" y="425.09" width="5.65" height="8.54" fill="#16A3D4"/>
<rect x="386.50" y="425.09" width="8.55" height="8.54" fill="#fc955e"/>
<rect x="395.00" y="425.09" width="8.55" height="8.54" fill="#fc8d59"/>
<rect x="403.49" y="425.09" width="8.55" height="8.54" fill="#fda66a"/>
<rect x="411.99" y="425.09" width="8.55" height="8.54" fill="#f9fdca"/>
<rect x="420.48" y="425.09" width="8.55" height="8.54" fill="#f9fdca"/>
<rect x="428.98" y="425.09" width="8.55" height="8.54" fill="#f9fdca"/>
<rect x="437.47" y="425.09" width="8.55" height="8.54" fill="#f7fccd"/>
<rect x="445.97" y="425.09" width="8.55" height="8.54" fill="#f7fccd"/>
<rect x="454.46" y="425.09" width="8.55" height="8.54" fill="#f7fccd"/>
<rect x="462.96" y="425.09" width="8.55" height="8.54" fill="#f7fccd"/>
<rect x="471.45" y="425.09" width="8.55" height="8.54" fill="#f7fccd"/>
<rect x="479.95" y="425.09" width="8.55" height="8.54" fill="#f7fccd"/>
<rect x="488.44" y="425.09" width="8.55" height="8.54" fill="#f6fbd0"/>
<rect x="496.94" y="425.09" width="8.55" height="8.54" fill="#f6fbd0"/>
<rect x="505.43" y="425.09" width="8.55" height="8.54" fill="#f6fbd0"/>
<rect x="513.93" y="425.09" width="8.55" height="8.54" fill="#f6fbd0"/>
<rect x="522.42" y="425.09" width="8.55" height="8.54" fill="#f6fbd0"/>
<rect x="530.92" y="425.09" width="8.55" height="8.54" fill="#f6fbd0"/>
<rect x="539.41" y="425.09" width="8.55" height="8.54" fill="#f6fbd0"/>
<rect x="547.91" y="425.09" width="8.55" height="8.54" fill="#f6fbd0"/>
<rect x="556.40" y="425.09" width="8.55" height="8.54" fill="#f6fbd0"/>
<text x="566.20" y="431.23" font-size="5.6" text-anchor="start" fill="#222" font-family='"Liberation Sans", sans-serif' stroke="#222" stroke-width="0.12">Pseudopedobacter</text>
<rect x="380.20" y="433.58" width="5.65" height="8.54" fill="#B88CE0"/>
<rect x="386.50" y="433.58" width="8.55" height="8.54" fill="#fc955e"/>
<rect x="395.00" y="433.58" width="8.55" height="8.54" fill="#fc8d59"/>
<rect x="403.49" y="433.58" width="8.55" height="8.54" fill="#fc9e64"/>
<rect x="411.99" y="433.58" width="8.55" height="8.54" fill="#fafdc8"/>
<rect x="420.48" y="433.58" width="8.55" height="8.54" fill="#fafdc8"/>
<rect x="428.98" y="433.58" width="8.55" height="8.54" fill="#fafdc8"/>
<rect x="437.47" y="433.58" width="8.55" height="8.54" fill="#f9fdca"/>
<rect x="445.97" y="433.58" width="8.55" height="8.54" fill="#f9fdca"/>
<rect x="454.46" y="433.58" width="8.55" height="8.54" fill="#f9fdca"/>
<rect x="462.96" y="433.58" width="8.55" height="8.54" fill="#f9fdca"/>
<rect x="471.45" y="433.58" width="8.55" height="8.54" fill="#f9fdca"/>
<rect x="479.95" y="433.58" width="8.55" height="8.54" fill="#f9fdca"/>
<rect x="488.44" y="433.58" width="8.55" height="8.54" fill="#f6fbd0"/>
<rect x="496.94" y="433.58" width="8.55" height="8.54" fill="#f6fbd0"/>
<rect x="505.43" y="433.58" width="8.55" height="8.54" fill="#f6fbd0"/>
<rect x="513.93" y="433.58" width="8.55" height="8.54" fill="#f6fbd0"/>
<rect x="522.42" y="433.58" width="8.55" height="8.54" fill="#f6fbd0"/>
<rect x="530.92" y="433.58" width="8.55" height="8.54" fill="#f6fbd0"/>
<rect x="539.41" y="433.58" width="8.55" height="8.54" fill="#f6fbd0"/>
<rect x="547.91" y="433.58" width="8.55" height="8.54" fill="#f6fbd0"/>
<rect x="556.40" y="433.58" width="8.55" height="8.54" fill="#f6fbd0"/>
<text x="566.20" y="439.73" font-size="5.6" text-anchor="start" fill="#222" font-family='"Liberation Sans", sans-serif' stroke="#222" stroke-width="0.12">Bordetella</text>
<rect x="380.20" y="442.07" width="5.65" height="8.54" fill="#16A3D4"/>
<rect x="386.50" y="442.07" width="8.55" height="8.54" fill="#fc955e"/>
<rect x="395.00" y="442.07" width="8.55" height="8.54" fill="#fc955e"/>
<rect x="403.49" y="442.07" width="8.55" height="8.54" fill="#fc9e64"/>
<rect x="411.99" y="442.07" width="8.55" height="8.54" fill="#f9fdca"/>
<rect x="420.48" y="442.07" width="8.55" height="8.54" fill="#f9fdca"/>
<rect x="428.98" y="442.07" width="8.55" height="8.54" fill="#f9fdca"/>
<rect x="437.47" y="442.07" width="8.55" height="8.54" fill="#f7fccd"/>
<rect x="445.97" y="442.07" width="8.55" height="8.54" fill="#f7fccd"/>
<rect x="454.46" y="442.07" width="8.55" height="8.54" fill="#f7fccd"/>
<rect x="462.96" y="442.07" width="8.55" height="8.54" fill="#f7fccd"/>
<rect x="471.45" y="442.07" width="8.55" height="8.54" fill="#f7fccd"/>
<rect x="479.95" y="442.07" width="8.55" height="8.54" fill="#f7fccd"/>
<rect x="488.44" y="442.07" width="8.55" height="8.54" fill="#f6fbd0"/>
<rect x="496.94" y="442.07" width="8.55" height="8.54" fill="#f6fbd0"/>
<rect x="505.43" y="442.07" width="8.55" height="8.54" fill="#f6fbd0"/>
<rect x="513.93" y="442.07" width="8.55" height="8.54" fill="#f6fbd0"/>
<rect x="522.42" y="442.07" width="8.55" height="8.54" fill="#f6fbd0"/>
<rect x="530.92" y="442.07" width="8.55" height="8.54" fill="#f6fbd0"/>
<rect x="539.41" y="442.07" width="8.55" height="8.54" fill="#f6fbd0"/>
<rect x="547.91" y="442.07" width="8.55" height="8.54" fill="#f6fbd0"/>
<rect x="556.40" y="442.07" width="8.55" height="8.54" fill="#f6fbd0"/>
<text x="566.20" y="448.22" font-size="5.6" text-anchor="start" fill="#222" font-family='"Liberation Sans", sans-serif' stroke="#222" stroke-width="0.12">Parapedobacter</text>
<rect x="380.20" y="450.57" width="5.65" height="8.54" fill="#5CF000"/>
<rect x="386.50" y="450.57" width="8.55" height="8.54" fill="#fc9e64"/>
<rect x="395.00" y="450.57" width="8.55" height="8.54" fill="#fc8d59"/>
<rect x="403.49" y="450.57" width="8.55" height="8.54" fill="#fda66a"/>
<rect x="411.99" y="450.57" width="8.55" height="8.54" fill="#f7fccd"/>
<rect x="420.48" y="450.57" width="8.55" height="8.54" fill="#f7fccd"/>
<rect x="428.98" y="450.57" width="8.55" height="8.54" fill="#f7fccd"/>
<rect x="437.47" y="450.57" width="8.55" height="8.54" fill="#f6fbd0"/>
<rect x="445.97" y="450.57" width="8.55" height="8.54" fill="#fffcba"/>
<rect x="454.46" y="450.57" width="8.55" height="8.54" fill="#f6fbd0"/>
<rect x="462.96" y="450.57" width="8.55" height="8.54" fill="#f7fccd"/>
<rect x="471.45" y="450.57" width="8.55" height="8.54" fill="#f7fccd"/>
<rect x="479.95" y="450.57" width="8.55" height="8.54" fill="#f7fccd"/>
<rect x="488.44" y="450.57" width="8.55" height="8.54" fill="#f6fbd0"/>
<rect x="496.94" y="450.57" width="8.55" height="8.54" fill="#f6fbd0"/>
<rect x="505.43" y="450.57" width="8.55" height="8.54" fill="#f6fbd0"/>
<rect x="513.93" y="450.57" width="8.55" height="8.54" fill="#f6fbd0"/>
<rect x="522.42" y="450.57" width="8.55" height="8.54" fill="#f6fbd0"/>
<rect x="530.92" y="450.57" width="8.55" height="8.54" fill="#f6fbd0"/>
<rect x="539.41" y="450.57" width="8.55" height="8.54" fill="#f6fbd0"/>
<rect x="547.91" y="450.57" width="8.55" height="8.54" fill="#f6fbd0"/>
<rect x="556.40" y="450.57" width="8.55" height="8.54" fill="#f6fbd0"/>
<text x="566.20" y="456.71" font-size="5.6" text-anchor="start" fill="#222" font-family='"Liberation Sans", sans-serif' stroke="#222" stroke-width="0.12">Trichoderma</text>
<rect x="380.20" y="459.06" width="5.65" height="8.54" fill="#B88CE0"/>
<rect x="386.50" y="459.06" width="8.55" height="8.54" fill="#fc955e"/>
<rect x="395.00" y="459.06" width="8.55" height="8.54" fill="#fc8d59"/>
<rect x="403.49" y="459.06" width="8.55" height="8.54" fill="#fc955e"/>
<rect x="411.99" y="459.06" width="8.55" height="8.54" fill="#fafdc8"/>
<rect x="420.48" y="459.06" width="8.55" height="8.54" fill="#fafdc8"/>
<rect x="428.98" y="459.06" width="8.55" height="8.54" fill="#fafdc8"/>
<rect x="437.47" y="459.06" width="8.55" height="8.54" fill="#f7fccd"/>
<rect x="445.97" y="459.06" width="8.55" height="8.54" fill="#f7fccd"/>
<rect x="454.46" y="459.06" width="8.55" height="8.54" fill="#f7fccd"/>
<rect x="462.96" y="459.06" width="8.55" height="8.54" fill="#f7fccd"/>
<rect x="471.45" y="459.06" width="8.55" height="8.54" fill="#f7fccd"/>
<rect x="479.95" y="459.06" width="8.55" height="8.54" fill="#f7fccd"/>
<rect x="488.44" y="459.06" width="8.55" height="8.54" fill="#f6fbd0"/>
<rect x="496.94" y="459.06" width="8.55" height="8.54" fill="#f6fbd0"/>
<rect x="505.43" y="459.06" width="8.55" height="8.54" fill="#f6fbd0"/>
<rect x="513.93" y="459.06" width="8.55" height="8.54" fill="#f6fbd0"/>
<rect x="522.42" y="459.06" width="8.55" height="8.54" fill="#f6fbd0"/>
<rect x="530.92" y="459.06" width="8.55" height="8.54" fill="#f6fbd0"/>
<rect x="539.41" y="459.06" width="8.55" height="8.54" fill="#f6fbd0"/>
<rect x="547.91" y="459.06" width="8.55" height="8.54" fill="#f6fbd0"/>
<rect x="556.40" y="459.06" width="8.55" height="8.54" fill="#f6fbd0"/>
<text x="566.20" y="465.21" font-size="5.6" text-anchor="start" fill="#222" font-family='"Liberation Sans", sans-serif' stroke="#222" stroke-width="0.12">Cupriavidus</text>
<rect x="380.20" y="467.56" width="5.65" height="8.54" fill="#F5B5F8"/>
<rect x="386.50" y="467.56" width="8.55" height="8.54" fill="#fda66a"/>
<rect x="395.00" y="467.56" width="8.55" height="8.54" fill="#fc955e"/>
<rect x="403.49" y="467.56" width="8.55" height="8.54" fill="#fc955e"/>
<rect x="411.99" y="467.56" width="8.55" height="8.54" fill="#ffffbf"/>
<rect x="420.48" y="467.56" width="8.55" height="8.54" fill="#fffcba"/>
<rect x="428.98" y="467.56" width="8.55" height="8.54" fill="#ffffbf"/>
<rect x="437.47" y="467.56" width="8.55" height="8.54" fill="#f9fdca"/>
<rect x="445.97" y="467.56" width="8.55" height="8.54" fill="#f9fdca"/>
<rect x="454.46" y="467.56" width="8.55" height="8.54" fill="#f9fdca"/>
<rect x="462.96" y="467.56" width="8.55" height="8.54" fill="#f9fdca"/>
<rect x="471.45" y="467.56" width="8.55" height="8.54" fill="#f9fdca"/>
<rect x="479.95" y="467.56" width="8.55" height="8.54" fill="#f9fdca"/>
<rect x="488.44" y="467.56" width="8.55" height="8.54" fill="#f6fbd0"/>
<rect x="496.94" y="467.56" width="8.55" height="8.54" fill="#f6fbd0"/>
<rect x="505.43" y="467.56" width="8.55" height="8.54" fill="#f6fbd0"/>
<rect x="513.93" y="467.56" width="8.55" height="8.54" fill="#f6fbd0"/>
<rect x="522.42" y="467.56" width="8.55" height="8.54" fill="#f6fbd0"/>
<rect x="530.92" y="467.56" width="8.55" height="8.54" fill="#f6fbd0"/>
<rect x="539.41" y="467.56" width="8.55" height="8.54" fill="#f6fbd0"/>
<rect x="547.91" y="467.56" width="8.55" height="8.54" fill="#f6fbd0"/>
<rect x="556.40" y="467.56" width="8.55" height="8.54" fill="#f6fbd0"/>
<text x="566.20" y="473.70" font-size="5.6" text-anchor="start" fill="#222" font-family='"Liberation Sans", sans-serif' stroke="#222" stroke-width="0.12">Cellulosimicrobium</text>
<rect x="380.20" y="476.05" width="5.65" height="8.54" fill="#B88CE0"/>
<rect x="386.50" y="476.05" width="8.55" height="8.54" fill="#fc955e"/>
<rect x="395.00" y="476.05" width="8.55" height="8.54" fill="#fc9e64"/>
<rect x="403.49" y="476.05" width="8.55" height="8.54" fill="#fc955e"/>
<rect x="411.99" y="476.05" width="8.55" height="8.54" fill="#fcfec5"/>
<rect x="420.48" y="476.05" width="8.55" height="8.54" fill="#fcfec5"/>
<rect x="428.98" y="476.05" width="8.55" height="8.54" fill="#fcfec5"/>
<rect x="437.47" y="476.05" width="8.55" height="8.54" fill="#f9fdca"/>
<rect x="445.97" y="476.05" width="8.55" height="8.54" fill="#f9fdca"/>
<rect x="454.46" y="476.05" width="8.55" height="8.54" fill="#f9fdca"/>
<rect x="462.96" y="476.05" width="8.55" height="8.54" fill="#f9fdca"/>
<rect x="471.45" y="476.05" width="8.55" height="8.54" fill="#f9fdca"/>
<rect x="479.95" y="476.05" width="8.55" height="8.54" fill="#f9fdca"/>
<rect x="488.44" y="476.05" width="8.55" height="8.54" fill="#f6fbd0"/>
<rect x="496.94" y="476.05" width="8.55" height="8.54" fill="#f6fbd0"/>
<rect x="505.43" y="476.05" width="8.55" height="8.54" fill="#f6fbd0"/>
<rect x="513.93" y="476.05" width="8.55" height="8.54" fill="#f6fbd0"/>
<rect x="522.42" y="476.05" width="8.55" height="8.54" fill="#f6fbd0"/>
<rect x="530.92" y="476.05" width="8.55" height="8.54" fill="#f6fbd0"/>
<rect x="539.41" y="476.05" width="8.55" height="8.54" fill="#f6fbd0"/>
<rect x="547.91" y="476.05" width="8.55" height="8.54" fill="#f6fbd0"/>
<rect x="556.40" y="476.05" width="8.55" height="8.54" fill="#f6fbd0"/>
<text x="566.20" y="482.20" font-size="5.6" text-anchor="start" fill="#222" font-family='"Liberation Sans", sans-serif' stroke="#222" stroke-width="0.12">Achromobacter</text>
<rect x="380.20" y="484.54" width="5.65" height="8.54" fill="#B88CE0"/>
<rect x="386.50" y="484.54" width="8.55" height="8.54" fill="#fc9e64"/>
<rect x="395.00" y="484.54" width="8.55" height="8.54" fill="#fc955e"/>
<rect x="403.49" y="484.54" width="8.55" height="8.54" fill="#fc955e"/>
<rect x="411.99" y="484.54" width="8.55" height="8.54" fill="#fcfec5"/>
<rect x="420.48" y="484.54" width="8.55" height="8.54" fill="#fcfec5"/>
<rect x="428.98" y="484.54" width="8.55" height="8.54" fill="#fcfec5"/>
<rect x="437.47" y="484.54" width="8.55" height="8.54" fill="#f9fdca"/>
<rect x="445.97" y="484.54" width="8.55" height="8.54" fill="#f9fdca"/>
<rect x="454.46" y="484.54" width="8.55" height="8.54" fill="#f9fdca"/>
<rect x="462.96" y="484.54" width="8.55" height="8.54" fill="#f9fdca"/>
<rect x="471.45" y="484.54" width="8.55" height="8.54" fill="#f9fdca"/>
<rect x="479.95" y="484.54" width="8.55" height="8.54" fill="#f9fdca"/>
<rect x="488.44" y="484.54" width="8.55" height="8.54" fill="#f6fbd0"/>
<rect x="496.94" y="484.54" width="8.55" height="8.54" fill="#f6fbd0"/>
<rect x="505.43" y="484.54" width="8.55" height="8.54" fill="#f6fbd0"/>
<rect x="513.93" y="484.54" width="8.55" height="8.54" fill="#f6fbd0"/>
<rect x="522.42" y="484.54" width="8.55" height="8.54" fill="#f6fbd0"/>
<rect x="530.92" y="484.54" width="8.55" height="8.54" fill="#f6fbd0"/>
<rect x="539.41" y="484.54" width="8.55" height="8.54" fill="#f6fbd0"/>
<rect x="547.91" y="484.54" width="8.55" height="8.54" fill="#f6fbd0"/>
<rect x="556.40" y="484.54" width="8.55" height="8.54" fill="#f6fbd0"/>
<text x="566.20" y="490.69" font-size="5.6" text-anchor="start" fill="#222" font-family='"Liberation Sans", sans-serif' stroke="#222" stroke-width="0.12">Pigmentiphaga</text>
<rect x="380.20" y="493.04" width="5.65" height="8.54" fill="#16A3D4"/>
<rect x="386.50" y="493.04" width="8.55" height="8.54" fill="#fc955e"/>
<rect x="395.00" y="493.04" width="8.55" height="8.54" fill="#fc955e"/>
<rect x="403.49" y="493.04" width="8.55" height="8.54" fill="#fc955e"/>
<rect x="411.99" y="493.04" width="8.55" height="8.54" fill="#f7fccd"/>
<rect x="420.48" y="493.04" width="8.55" height="8.54" fill="#f7fccd"/>
<rect x="428.98" y="493.04" width="8.55" height="8.54" fill="#f7fccd"/>
<rect x="437.47" y="493.04" width="8.55" height="8.54" fill="#f6fbd0"/>
<rect x="445.97" y="493.04" width="8.55" height="8.54" fill="#f6fbd0"/>
<rect x="454.46" y="493.04" width="8.55" height="8.54" fill="#f6fbd0"/>
<rect x="462.96" y="493.04" width="8.55" height="8.54" fill="#f6fbd0"/>
<rect x="471.45" y="493.04" width="8.55" height="8.54" fill="#f6fbd0"/>
<rect x="479.95" y="493.04" width="8.55" height="8.54" fill="#f6fbd0"/>
<rect x="488.44" y="493.04" width="8.55" height="8.54" fill="#f6fbd0"/>
<rect x="496.94" y="493.04" width="8.55" height="8.54" fill="#f6fbd0"/>
<rect x="505.43" y="493.04" width="8.55" height="8.54" fill="#f6fbd0"/>
<rect x="513.93" y="493.04" width="8.55" height="8.54" fill="#f6fbd0"/>
<rect x="522.42" y="493.04" width="8.55" height="8.54" fill="#f6fbd0"/>
<rect x="530.92" y="493.04" width="8.55" height="8.54" fill="#f6fbd0"/>
<rect x="539.41" y="493.04" width="8.55" height="8.54" fill="#f6fbd0"/>
<rect x="547.91" y="493.04" width="8.55" height="8.54" fill="#f6fbd0"/>
<rect x="556.40" y="493.04" width="8.55" height="8.54" fill="#f6fbd0"/>
<text x="566.20" y="499.19" font-size="5.6" text-anchor="start" fill="#222" font-family='"Liberation Sans", sans-serif' stroke="#222" stroke-width="0.12">Sphingobacterium</text>
<rect x="380.20" y="501.53" width="5.65" height="8.54" fill="#B88CE0"/>
<rect x="386.50" y="501.53" width="8.55" height="8.54" fill="#fc9e64"/>
<rect x="395.00" y="501.53" width="8.55" height="8.54" fill="#fc9e64"/>
<rect x="403.49" y="501.53" width="8.55" height="8.54" fill="#fc955e"/>
<rect x="411.99" y="501.53" width="8.55" height="8.54" fill="#ffffbf"/>
<rect x="420.48" y="501.53" width="8.55" height="8.54" fill="#fffcba"/>
<rect x="428.98" y="501.53" width="8.55" height="8.54" fill="#ffffbf"/>
<rect x="437.47" y="501.53" width="8.55" height="8.54" fill="#f9fdca"/>
<rect x="445.97" y="501.53" width="8.55" height="8.54" fill="#f9fdca"/>
<rect x="454.46" y="501.53" width="8.55" height="8.54" fill="#f9fdca"/>
<rect x="462.96" y="501.53" width="8.55" height="8.54" fill="#ffffbf"/>
<rect x="471.45" y="501.53" width="8.55" height="8.54" fill="#fffcba"/>
<rect x="479.95" y="501.53" width="8.55" height="8.54" fill="#fffcba"/>
<rect x="488.44" y="501.53" width="8.55" height="8.54" fill="#f6fbd0"/>
<rect x="496.94" y="501.53" width="8.55" height="8.54" fill="#f6fbd0"/>
<rect x="505.43" y="501.53" width="8.55" height="8.54" fill="#f6fbd0"/>
<rect x="513.93" y="501.53" width="8.55" height="8.54" fill="#f4fbd3"/>
<rect x="522.42" y="501.53" width="8.55" height="8.54" fill="#f4fbd3"/>
<rect x="530.92" y="501.53" width="8.55" height="8.54" fill="#f4fbd3"/>
<rect x="539.41" y="501.53" width="8.55" height="8.54" fill="#f6fbd0"/>
<rect x="547.91" y="501.53" width="8.55" height="8.54" fill="#f6fbd0"/>
<rect x="556.40" y="501.53" width="8.55" height="8.54" fill="#f6fbd0"/>
<text x="566.20" y="507.68" font-size="5.6" text-anchor="start" fill="#222" font-family='"Liberation Sans", sans-serif' stroke="#222" stroke-width="0.12">Pseudoxanthomonas</text>
<rect x="380.20" y="510.03" width="5.65" height="8.54" fill="#B88CE0"/>
<rect x="386.50" y="510.03" width="8.55" height="8.54" fill="#f88454"/>
<rect x="395.00" y="510.03" width="8.55" height="8.54" fill="#fdae6f"/>
<rect x="403.49" y="510.03" width="8.55" height="8.54" fill="#fc9e64"/>
<rect x="411.99" y="510.03" width="8.55" height="8.54" fill="#fcfec5"/>
<rect x="420.48" y="510.03" width="8.55" height="8.54" fill="#fcfec5"/>
<rect x="428.98" y="510.03" width="8.55" height="8.54" fill="#fcfec5"/>
<rect x="437.47" y="510.03" width="8.55" height="8.54" fill="#f9fdca"/>
<rect x="445.97" y="510.03" width="8.55" height="8.54" fill="#f9fdca"/>
<rect x="454.46" y="510.03" width="8.55" height="8.54" fill="#f9fdca"/>
<rect x="462.96" y="510.03" width="8.55" height="8.54" fill="#f9fdca"/>
<rect x="471.45" y="510.03" width="8.55" height="8.54" fill="#f9fdca"/>
<rect x="479.95" y="510.03" width="8.55" height="8.54" fill="#f9fdca"/>
<rect x="488.44" y="510.03" width="8.55" height="8.54" fill="#f6fbd0"/>
<rect x="496.94" y="510.03" width="8.55" height="8.54" fill="#f6fbd0"/>
<rect x="505.43" y="510.03" width="8.55" height="8.54" fill="#f6fbd0"/>
<rect x="513.93" y="510.03" width="8.55" height="8.54" fill="#f6fbd0"/>
<rect x="522.42" y="510.03" width="8.55" height="8.54" fill="#f6fbd0"/>
<rect x="530.92" y="510.03" width="8.55" height="8.54" fill="#f3fad6"/>
<rect x="539.41" y="510.03" width="8.55" height="8.54" fill="#f6fbd0"/>
<rect x="547.91" y="510.03" width="8.55" height="8.54" fill="#f6fbd0"/>
<rect x="556.40" y="510.03" width="8.55" height="8.54" fill="#f6fbd0"/>
<text x="566.20" y="516.17" font-size="5.6" text-anchor="start" fill="#222" font-family='"Liberation Sans", sans-serif' stroke="#222" stroke-width="0.12">Brevundimonas</text>
<rect x="380.20" y="518.52" width="5.65" height="8.54" fill="#16A3D4"/>
<rect x="386.50" y="518.52" width="8.55" height="8.54" fill="#fecf85"/>
<rect x="395.00" y="518.52" width="8.55" height="8.54" fill="#fdb674"/>
<rect x="403.49" y="518.52" width="8.55" height="8.54" fill="#e24c36"/>
<rect x="411.99" y="518.52" width="8.55" height="8.54" fill="#f6fbd0"/>
<rect x="420.48" y="518.52" width="8.55" height="8.54" fill="#f6fbd0"/>
<rect x="428.98" y="518.52" width="8.55" height="8.54" fill="#f6fbd0"/>
<rect x="437.47" y="518.52" width="8.55" height="8.54" fill="#f6fbd0"/>
<rect x="445.97" y="518.52" width="8.55" height="8.54" fill="#f6fbd0"/>
<rect x="454.46" y="518.52" width="8.55" height="8.54" fill="#f6fbd0"/>
<rect x="462.96" y="518.52" width="8.55" height="8.54" fill="#f6fbd0"/>
<rect x="471.45" y="518.52" width="8.55" height="8.54" fill="#f6fbd0"/>
<rect x="479.95" y="518.52" width="8.55" height="8.54" fill="#f6fbd0"/>
<rect x="488.44" y="518.52" width="8.55" height="8.54" fill="#f4fbd3"/>
<rect x="496.94" y="518.52" width="8.55" height="8.54" fill="#f4fbd3"/>
<rect x="505.43" y="518.52" width="8.55" height="8.54" fill="#f4fbd3"/>
<rect x="513.93" y="518.52" width="8.55" height="8.54" fill="#f4fbd3"/>
<rect x="522.42" y="518.52" width="8.55" height="8.54" fill="#f4fbd3"/>
<rect x="530.92" y="518.52" width="8.55" height="8.54" fill="#f4fbd3"/>
<rect x="539.41" y="518.52" width="8.55" height="8.54" fill="#f4fbd3"/>
<rect x="547.91" y="518.52" width="8.55" height="8.54" fill="#f4fbd3"/>
<rect x="556.40" y="518.52" width="8.55" height="8.54" fill="#f4fbd3"/>
<text x="566.20" y="524.67" font-size="5.6" text-anchor="start" fill="#222" font-family='"Liberation Sans", sans-serif' stroke="#222" stroke-width="0.12">Niabella</text>
<rect x="380.20" y="527.01" width="5.65" height="8.54" fill="#B88CE0"/>
<rect x="386.50" y="527.01" width="8.55" height="8.54" fill="#fc8d59"/>
<rect x="395.00" y="527.01" width="8.55" height="8.54" fill="#fdae6f"/>
<rect x="403.49" y="527.01" width="8.55" height="8.54" fill="#fc9e64"/>
<rect x="411.99" y="527.01" width="8.55" height="8.54" fill="#f4fbd3"/>
<rect x="420.48" y="527.01" width="8.55" height="8.54" fill="#f4fbd3"/>
<rect x="428.98" y="527.01" width="8.55" height="8.54" fill="#f4fbd3"/>
<rect x="437.47" y="527.01" width="8.55" height="8.54" fill="#f3fad6"/>
<rect x="445.97" y="527.01" width="8.55" height="8.54" fill="#f3fad6"/>
<rect x="454.46" y="527.01" width="8.55" height="8.54" fill="#f3fad6"/>
<rect x="462.96" y="527.01" width="8.55" height="8.54" fill="#f3fad6"/>
<rect x="471.45" y="527.01" width="8.55" height="8.54" fill="#f3fad6"/>
<rect x="479.95" y="527.01" width="8.55" height="8.54" fill="#f3fad6"/>
<rect x="488.44" y="527.01" width="8.55" height="8.54" fill="#fffcba"/>
<rect x="496.94" y="527.01" width="8.55" height="8.54" fill="#fcfec5"/>
<rect x="505.43" y="527.01" width="8.55" height="8.54" fill="#fffcba"/>
<rect x="513.93" y="527.01" width="8.55" height="8.54" fill="#f6fbd0"/>
<rect x="522.42" y="527.01" width="8.55" height="8.54" fill="#f6fbd0"/>
<rect x="530.92" y="527.01" width="8.55" height="8.54" fill="#ffffbf"/>
<rect x="539.41" y="527.01" width="8.55" height="8.54" fill="#f6fbd0"/>
<rect x="547.91" y="527.01" width="8.55" height="8.54" fill="#f3fad6"/>
<rect x="556.40" y="527.01" width="8.55" height="8.54" fill="#f3fad6"/>
<text x="566.20" y="533.16" font-size="5.6" text-anchor="start" fill="#222" font-family='"Liberation Sans", sans-serif' stroke="#222" stroke-width="0.12">Pseudomonas</text>
<rect x="380.20" y="535.51" width="5.65" height="8.54" fill="#B88CE0"/>
<rect x="386.50" y="535.51" width="8.55" height="8.54" fill="#fee699"/>
<rect x="395.00" y="535.51" width="8.55" height="8.54" fill="#fee699"/>
<rect x="403.49" y="535.51" width="8.55" height="8.54" fill="#fee99e"/>
<rect x="411.99" y="535.51" width="8.55" height="8.54" fill="#fed88a"/>
<rect x="420.48" y="535.51" width="8.55" height="8.54" fill="#fecf85"/>
<rect x="428.98" y="535.51" width="8.55" height="8.54" fill="#fee99e"/>
<rect x="437.47" y="535.51" width="8.55" height="8.54" fill="#e3f4f2"/>
<rect x="445.97" y="535.51" width="8.55" height="8.54" fill="#e9f7e7"/>
<rect x="454.46" y="535.51" width="8.55" height="8.54" fill="#e9f7e7"/>
<rect x="462.96" y="535.51" width="8.55" height="8.54" fill="#fff3ac"/>
<rect x="471.45" y="535.51" width="8.55" height="8.54" fill="#fee699"/>
<rect x="479.95" y="535.51" width="8.55" height="8.54" fill="#fee395"/>
<rect x="488.44" y="535.51" width="8.55" height="8.54" fill="#f6fbd0"/>
<rect x="496.94" y="535.51" width="8.55" height="8.54" fill="#f6fbd0"/>
<rect x="505.43" y="535.51" width="8.55" height="8.54" fill="#f0f9dc"/>
<rect x="513.93" y="535.51" width="8.55" height="8.54" fill="#e3f4f2"/>
<rect x="522.42" y="535.51" width="8.55" height="8.54" fill="#e0f3f8"/>
<rect x="530.92" y="535.51" width="8.55" height="8.54" fill="#e0f3f8"/>
<rect x="539.41" y="535.51" width="8.55" height="8.54" fill="#f3fad6"/>
<rect x="547.91" y="535.51" width="8.55" height="8.54" fill="#ffffbf"/>
<rect x="556.40" y="535.51" width="8.55" height="8.54" fill="#ffffbf"/>
<text x="566.20" y="541.65" font-size="5.6" text-anchor="start" fill="#222" font-family='"Liberation Sans", sans-serif' stroke="#222" stroke-width="0.12">Altererythrobacter</text>
<rect x="380.20" y="544.00" width="5.65" height="8.54" fill="#C8385A"/>
<rect x="386.50" y="544.00" width="8.55" height="8.54" fill="#ecf8e1"/>
<rect x="395.00" y="544.00" width="8.55" height="8.54" fill="#ecf8e1"/>
<rect x="403.49" y="544.00" width="8.55" height="8.54" fill="#e9f7e7"/>
<rect x="411.99" y="544.00" width="8.55" height="8.54" fill="#fc955e"/>
<rect x="420.48" y="544.00" width="8.55" height="8.54" fill="#fee395"/>
<rect x="428.98" y="544.00" width="8.55" height="8.54" fill="#fecf85"/>
<rect x="437.47" y="544.00" width="8.55" height="8.54" fill="#f6fbd0"/>
<rect x="445.97" y="544.00" width="8.55" height="8.54" fill="#fcfec5"/>
<rect x="454.46" y="544.00" width="8.55" height="8.54" fill="#f6fbd0"/>
<rect x="462.96" y="544.00" width="8.55" height="8.54" fill="#fee99e"/>
<rect x="471.45" y="544.00" width="8.55" height="8.54" fill="#fee699"/>
<rect x="479.95" y="544.00" width="8.55" height="8.54" fill="#feeca3"/>
<rect x="488.44" y="544.00" width="8.55" height="8.54" fill="#f9fdca"/>
<rect x="496.94" y="544.00" width="8.55" height="8.54" fill="#fcfec5"/>
<rect x="505.43" y="544.00" width="8.55" height="8.54" fill="#fef0a8"/>
<rect x="513.93" y="544.00" width="8.55" height="8.54" fill="#f6fbd0"/>
<rect x="522.42" y="544.00" width="8.55" height="8.54" fill="#f6fbd0"/>
<rect x="530.92" y="544.00" width="8.55" height="8.54" fill="#f9fdca"/>
<rect x="539.41" y="544.00" width="8.55" height="8.54" fill="#f6fbd0"/>
<rect x="547.91" y="544.00" width="8.55" height="8.54" fill="#f6fbd0"/>
<rect x="556.40" y="544.00" width="8.55" height="8.54" fill="#f6fbd0"/>
<text x="566.20" y="550.15" font-size="5.6" text-anchor="start" fill="#222" font-family='"Liberation Sans", sans-serif' stroke="#222" stroke-width="0.12">Opitutus</text>
<rect x="380.20" y="552.50" width="5.65" height="8.54" fill="#B88CE0"/>
<rect x="386.50" y="552.50" width="8.55" height="8.54" fill="#e0f3f8"/>
<rect x="395.00" y="552.50" width="8.55" height="8.54" fill="#d8eef5"/>
<rect x="403.49" y="552.50" width="8.55" height="8.54" fill="#d8eef5"/>
<rect x="411.99" y="552.50" width="8.55" height="8.54" fill="#fc9e64"/>
<rect x="420.48" y="552.50" width="8.55" height="8.54" fill="#fecf85"/>
<rect x="428.98" y="552.50" width="8.55" height="8.54" fill="#fed88a"/>
<rect x="437.47" y="552.50" width="8.55" height="8.54" fill="#f9fdca"/>
<rect x="445.97" y="552.50" width="8.55" height="8.54" fill="#fff6b1"/>
<rect x="454.46" y="552.50" width="8.55" height="8.54" fill="#f9fdca"/>
<rect x="462.96" y="552.50" width="8.55" height="8.54" fill="#feeca3"/>
<rect x="471.45" y="552.50" width="8.55" height="8.54" fill="#fee99e"/>
<rect x="479.95" y="552.50" width="8.55" height="8.54" fill="#fee99e"/>
<rect x="488.44" y="552.50" width="8.55" height="8.54" fill="#f3fad6"/>
<rect x="496.94" y="552.50" width="8.55" height="8.54" fill="#f6fbd0"/>
<rect x="505.43" y="552.50" width="8.55" height="8.54" fill="#ffffbf"/>
<rect x="513.93" y="552.50" width="8.55" height="8.54" fill="#fff7b3"/>
<rect x="522.42" y="552.50" width="8.55" height="8.54" fill="#fff7b3"/>
<rect x="530.92" y="552.50" width="8.55" height="8.54" fill="#ffffbf"/>
<rect x="539.41" y="552.50" width="8.55" height="8.54" fill="#fff7b3"/>
<rect x="547.91" y="552.50" width="8.55" height="8.54" fill="#ffffbf"/>
<rect x="556.40" y="552.50" width="8.55" height="8.54" fill="#f0f9dc"/>
<text x="566.20" y="558.64" font-size="5.6" text-anchor="start" fill="#222" font-family='"Liberation Sans", sans-serif' stroke="#222" stroke-width="0.12">Mesorhizobium</text>
<rect x="386.50" y="257.30" width="25.54" height="5.60" fill="#3D9BE9"/>
<rect x="411.99" y="257.30" width="25.54" height="5.60" fill="#F8696B"/>
<rect x="437.47" y="257.30" width="25.54" height="5.60" fill="#00BA0E"/>
<rect x="462.96" y="257.30" width="25.54" height="5.60" fill="#E7399D"/>
<rect x="488.44" y="257.30" width="25.54" height="5.60" fill="#C8385A"/>
<rect x="513.93" y="257.30" width="25.54" height="5.60" fill="#16A3D4"/>
<rect x="539.41" y="257.30" width="25.54" height="5.60" fill="#66EE00"/>
<path d="M386.50 263.70V560.99M395.00 263.70V560.99M403.49 263.70V560.99M411.99 263.70V560.99M420.48 263.70V560.99M428.98 263.70V560.99M437.47 263.70V560.99M445.97 263.70V560.99M454.46 263.70V560.99M462.96 263.70V560.99M471.45 263.70V560.99M479.95 263.70V560.99M488.44 263.70V560.99M496.94 263.70V560.99M505.43 263.70V560.99M513.93 263.70V560.99M522.42 263.70V560.99M530.92 263.70V560.99M539.41 263.70V560.99M547.91 263.70V560.99M556.40 263.70V560.99M564.90 263.70V560.99M386.50 263.70H564.90M386.50 272.19H564.90M386.50 280.69H564.90M386.50 289.18H564.90M386.50 297.68H564.90M386.50 306.17H564.90M386.50 314.66H564.90M386.50 323.16H564.90M386.50 331.65H564.90M386.50 340.15H564.90M386.50 348.64H564.90M386.50 357.13H564.90M386.50 365.63H564.90M386.50 374.12H564.90M386.50 382.62H564.90M386.50 391.11H564.90M386.50 399.60H564.90M386.50 408.10H564.90M386.50 416.59H564.90M386.50 425.09H564.90M386.50 433.58H564.90M386.50 442.07H564.90M386.50 450.57H564.90M386.50 459.06H564.90M386.50 467.56H564.90M386.50 476.05H564.90M386.50 484.54H564.90M386.50 493.04H564.90M386.50 501.53H564.90M386.50 510.03H564.90M386.50 518.52H564.90M386.50 527.01H564.90M386.50 535.51H564.90M386.50 544.00H564.90M386.50 552.50H564.90M386.50 560.99H564.90" stroke="#8a8a7a" stroke-width="0.5" fill="none" opacity="0.55"/>
<path d="M395.00 257.3V262.9M403.49 257.3V262.9M411.99 257.3V262.9M420.48 257.3V262.9M428.98 257.3V262.9M437.47 257.3V262.9M445.97 257.3V262.9M454.46 257.3V262.9M462.96 257.3V262.9M471.45 257.3V262.9M479.95 257.3V262.9M488.44 257.3V262.9M496.94 257.3V262.9M505.43 257.3V262.9M513.93 257.3V262.9M522.42 257.3V262.9M530.92 257.3V262.9M539.41 257.3V262.9M547.91 257.3V262.9M556.40 257.3V262.9M380.2 272.19H385.85M380.2 280.69H385.85M380.2 289.18H385.85M380.2 297.68H385.85M380.2 306.17H385.85M380.2 314.66H385.85M380.2 323.16H385.85M380.2 331.65H385.85M380.2 340.15H385.85M380.2 348.64H385.85M380.2 357.13H385.85M380.2 365.63H385.85M380.2 374.12H385.85M380.2 382.62H385.85M380.2 391.11H385.85M380.2 399.60H385.85M380.2 408.10H385.85M380.2 416.59H385.85M380.2 425.09H385.85M380.2 433.58H385.85M380.2 442.07H385.85M380.2 450.57H385.85M380.2 459.06H385.85M380.2 467.56H385.85M380.2 476.05H385.85M380.2 484.54H385.85M380.2 493.04H385.85M380.2 501.53H385.85M380.2 510.03H385.85M380.2 518.52H385.85M380.2 527.01H385.85M380.2 535.51H385.85M380.2 544.00H385.85M380.2 552.50H385.85" stroke="#777" stroke-width="0.4" fill="none" opacity="0.3"/>
<line x1="365.40" y1="298.90" x2="365.40" y2="504.40" stroke="#4a4a4a" stroke-width="0.5"/>
<line x1="367.40" y1="272.00" x2="367.40" y2="298.90" stroke="#c4c4c4" stroke-width="0.5"/>
<line x1="366.80" y1="504.40" x2="366.80" y2="535.20" stroke="#c4c4c4" stroke-width="0.5"/>
<line x1="372.00" y1="267.95" x2="372.00" y2="276.80" stroke="#4a4a4a" stroke-width="0.5"/>
<line x1="375.90" y1="276.44" x2="375.90" y2="284.94" stroke="#4a4a4a" stroke-width="0.5"/>
<line x1="373.20" y1="294.00" x2="373.20" y2="305.70" stroke="#4a4a4a" stroke-width="0.5"/>
<line x1="376.60" y1="293.43" x2="376.60" y2="301.92" stroke="#4a4a4a" stroke-width="0.5"/>
<line x1="372.00" y1="299.80" x2="372.00" y2="321.30" stroke="#4a4a4a" stroke-width="0.5"/>
<line x1="374.80" y1="318.91" x2="374.80" y2="331.00" stroke="#4a4a4a" stroke-width="0.5"/>
<line x1="377.00" y1="327.40" x2="377.00" y2="335.90" stroke="#4a4a4a" stroke-width="0.5"/>
<line x1="371.60" y1="310.50" x2="371.60" y2="351.00" stroke="#4a4a4a" stroke-width="0.5"/>
<line x1="372.40" y1="341.00" x2="372.40" y2="370.50" stroke="#4a4a4a" stroke-width="0.5"/>
<line x1="375.60" y1="344.39" x2="375.60" y2="356.50" stroke="#4a4a4a" stroke-width="0.5"/>
<line x1="377.00" y1="352.89" x2="377.00" y2="361.38" stroke="#4a4a4a" stroke-width="0.5"/>
<line x1="374.60" y1="369.88" x2="374.60" y2="378.37" stroke="#4a4a4a" stroke-width="0.5"/>
<line x1="378.50" y1="386.86" x2="378.50" y2="515.10" stroke="#4a4a4a" stroke-width="0.5"/>
<line x1="377.10" y1="451.80" x2="377.10" y2="522.00" stroke="#4a4a4a" stroke-width="0.5"/>
<line x1="379.30" y1="395.36" x2="379.30" y2="505.78" stroke="#666" stroke-width="0.5"/>
<line x1="376.50" y1="514.27" x2="376.50" y2="531.26" stroke="#4a4a4a" stroke-width="0.5"/>
<line x1="371.60" y1="529.80" x2="371.60" y2="541.50" stroke="#4a4a4a" stroke-width="0.5"/>
<line x1="375.20" y1="541.25" x2="375.20" y2="552.20" stroke="#4a4a4a" stroke-width="0.5"/>
<line x1="377.80" y1="548.25" x2="377.80" y2="556.74" stroke="#4a4a4a" stroke-width="0.5"/>
<line x1="365.40" y1="298.90" x2="367.40" y2="298.90" stroke="#4a4a4a" stroke-width="0.5"/>
<line x1="367.40" y1="272.00" x2="372.00" y2="272.00" stroke="#c4c4c4" stroke-width="0.5"/>
<line x1="367.40" y1="330.00" x2="371.60" y2="330.00" stroke="#c4c4c4" stroke-width="0.5"/>
<line x1="372.00" y1="267.95" x2="380.10" y2="267.95" stroke="#4a4a4a" stroke-width="0.5"/>
<line x1="372.00" y1="276.80" x2="375.90" y2="276.80" stroke="#4a4a4a" stroke-width="0.5"/>
<line x1="375.90" y1="276.44" x2="380.10" y2="276.44" stroke="#4a4a4a" stroke-width="0.5"/>
<line x1="375.90" y1="284.94" x2="380.10" y2="284.94" stroke="#4a4a4a" stroke-width="0.5"/>
<line x1="373.20" y1="294.00" x2="376.60" y2="294.00" stroke="#4a4a4a" stroke-width="0.5"/>
<line x1="376.60" y1="293.43" x2="380.10" y2="293.43" stroke="#4a4a4a" stroke-width="0.5"/>
<line x1="376.60" y1="301.92" x2="380.10" y2="301.92" stroke="#4a4a4a" stroke-width="0.5"/>
<line x1="373.20" y1="310.42" x2="380.10" y2="310.42" stroke="#4a4a4a" stroke-width="0.5"/>
<line x1="372.00" y1="299.80" x2="373.20" y2="299.80" stroke="#4a4a4a" stroke-width="0.5"/>
<line x1="372.00" y1="321.30" x2="374.80" y2="321.30" stroke="#4a4a4a" stroke-width="0.5"/>
<line x1="374.80" y1="318.91" x2="380.10" y2="318.91" stroke="#4a4a4a" stroke-width="0.5"/>
<line x1="374.80" y1="331.00" x2="377.00" y2="331.00" stroke="#4a4a4a" stroke-width="0.5"/>
<line x1="377.00" y1="327.40" x2="380.10" y2="327.40" stroke="#4a4a4a" stroke-width="0.5"/>
<line x1="377.00" y1="335.90" x2="380.10" y2="335.90" stroke="#4a4a4a" stroke-width="0.5"/>
<line x1="371.60" y1="310.50" x2="372.00" y2="310.50" stroke="#4a4a4a" stroke-width="0.5"/>
<line x1="371.60" y1="351.00" x2="372.40" y2="351.00" stroke="#4a4a4a" stroke-width="0.5"/>
<line x1="372.40" y1="341.00" x2="375.60" y2="341.00" stroke="#4a4a4a" stroke-width="0.5"/>
<line x1="372.40" y1="370.50" x2="374.60" y2="370.50" stroke="#4a4a4a" stroke-width="0.5"/>
<line x1="375.60" y1="344.39" x2="380.10" y2="344.39" stroke="#4a4a4a" stroke-width="0.5"/>
<line x1="375.60" y1="356.50" x2="377.00" y2="356.50" stroke="#4a4a4a" stroke-width="0.5"/>
<line x1="377.00" y1="352.89" x2="380.10" y2="352.89" stroke="#4a4a4a" stroke-width="0.5"/>
<line x1="377.00" y1="361.38" x2="380.10" y2="361.38" stroke="#4a4a4a" stroke-width="0.5"/>
<line x1="374.60" y1="369.88" x2="380.10" y2="369.88" stroke="#4a4a4a" stroke-width="0.5"/>
<line x1="374.60" y1="378.37" x2="380.10" y2="378.37" stroke="#4a4a4a" stroke-width="0.5"/>
<line x1="366.80" y1="473.20" x2="376.50" y2="473.20" stroke="#c4c4c4" stroke-width="0.5"/>
<line x1="378.50" y1="386.86" x2="380.10" y2="386.86" stroke="#4a4a4a" stroke-width="0.5"/>
<line x1="377.10" y1="451.80" x2="378.50" y2="451.80" stroke="#4a4a4a" stroke-width="0.5"/>
<line x1="376.50" y1="522.00" x2="377.10" y2="522.00" stroke="#4a4a4a" stroke-width="0.5"/>
<line x1="376.50" y1="514.27" x2="380.10" y2="514.27" stroke="#4a4a4a" stroke-width="0.5"/>
<line x1="376.50" y1="531.26" x2="380.10" y2="531.26" stroke="#4a4a4a" stroke-width="0.5"/>
<line x1="377.60" y1="522.77" x2="380.10" y2="522.77" stroke="#4a4a4a" stroke-width="0.5"/>
<line x1="366.80" y1="535.20" x2="371.60" y2="535.20" stroke="#4a4a4a" stroke-width="0.5"/>
<line x1="371.60" y1="529.80" x2="380.10" y2="529.80" stroke="#4a4a4a" stroke-width="0.5"/>
<line x1="371.60" y1="541.50" x2="375.20" y2="541.50" stroke="#4a4a4a" stroke-width="0.5"/>
<line x1="375.20" y1="541.25" x2="380.10" y2="541.25" stroke="#c4c4c4" stroke-width="0.5"/>
<line x1="375.20" y1="552.20" x2="377.80" y2="552.20" stroke="#4a4a4a" stroke-width="0.5"/>
<line x1="377.80" y1="548.25" x2="380.10" y2="548.25" stroke="#4a4a4a" stroke-width="0.5"/>
<line x1="377.80" y1="556.74" x2="380.10" y2="556.74" stroke="#4a4a4a" stroke-width="0.5"/>
<line x1="379.30" y1="395.36" x2="380.10" y2="395.36" stroke="#777" stroke-width="0.4"/>
<line x1="379.30" y1="403.85" x2="380.10" y2="403.85" stroke="#777" stroke-width="0.4"/>
<line x1="379.30" y1="412.34" x2="380.10" y2="412.34" stroke="#777" stroke-width="0.4"/>
<line x1="379.30" y1="420.84" x2="380.10" y2="420.84" stroke="#777" stroke-width="0.4"/>
<line x1="379.30" y1="429.33" x2="380.10" y2="429.33" stroke="#777" stroke-width="0.4"/>
<line x1="379.30" y1="437.83" x2="380.10" y2="437.83" stroke="#777" stroke-width="0.4"/>
<line x1="379.30" y1="446.32" x2="380.10" y2="446.32" stroke="#777" stroke-width="0.4"/>
<line x1="379.30" y1="454.81" x2="380.10" y2="454.81" stroke="#777" stroke-width="0.4"/>
<line x1="379.30" y1="463.31" x2="380.10" y2="463.31" stroke="#777" stroke-width="0.4"/>
<line x1="379.30" y1="471.80" x2="380.10" y2="471.80" stroke="#777" stroke-width="0.4"/>
<line x1="379.30" y1="480.30" x2="380.10" y2="480.30" stroke="#777" stroke-width="0.4"/>
<line x1="379.30" y1="488.79" x2="380.10" y2="488.79" stroke="#777" stroke-width="0.4"/>
<line x1="379.30" y1="497.28" x2="380.10" y2="497.28" stroke="#777" stroke-width="0.4"/>
<line x1="379.30" y1="505.78" x2="380.10" y2="505.78" stroke="#777" stroke-width="0.4"/>
<text x="566.20" y="262.40" font-size="5.5" text-anchor="start" fill="#111" font-weight="bold" font-family='"Liberation Sans", sans-serif' stroke="#111" stroke-width="0.12">Group</text>
<text x="381.30" y="561.89" font-size="5.55" text-anchor="start" fill="#111" font-weight="bold" font-family='"Liberation Sans", sans-serif' transform="rotate(90 381.30 561.89)" stroke="#111" stroke-width="0.12">Phylum</text>
<text x="388.90" y="561.89" font-size="5.5" text-anchor="start" fill="#222" font-family='"Liberation Sans", sans-serif' transform="rotate(90 388.90 561.89)" stroke="#222" stroke-width="0.12">DO.CK1</text>
<text x="397.39" y="561.89" font-size="5.5" text-anchor="start" fill="#222" font-family='"Liberation Sans", sans-serif' transform="rotate(90 397.39 561.89)" stroke="#222" stroke-width="0.12">DO.CK2</text>
<text x="405.89" y="561.89" font-size="5.5" text-anchor="start" fill="#222" font-family='"Liberation Sans", sans-serif' transform="rotate(90 405.89 561.89)" stroke="#222" stroke-width="0.12">DO.CK3</text>
<text x="414.38" y="561.89" font-size="5.5" text-anchor="start" fill="#222" font-family='"Liberation Sans", sans-serif' transform="rotate(90 414.38 561.89)" stroke="#222" stroke-width="0.12">D25.A1</text>
<text x="422.88" y="561.89" font-size="5.5" text-anchor="start" fill="#222" font-family='"Liberation Sans", sans-serif' transform="rotate(90 422.88 561.89)" stroke="#222" stroke-width="0.12">D25.A2</text>
<text x="431.37" y="561.89" font-size="5.5" text-anchor="start" fill="#222" font-family='"Liberation Sans", sans-serif' transform="rotate(90 431.37 561.89)" stroke="#222" stroke-width="0.12">D25.A3</text>
<text x="439.87" y="561.89" font-size="5.5" text-anchor="start" fill="#222" font-family='"Liberation Sans", sans-serif' transform="rotate(90 439.87 561.89)" stroke="#222" stroke-width="0.12">D25.B1</text>
<text x="448.36" y="561.89" font-size="5.5" text-anchor="start" fill="#222" font-family='"Liberation Sans", sans-serif' transform="rotate(90 448.36 561.89)" stroke="#222" stroke-width="0.12">D25.B2</text>
<text x="456.86" y="561.89" font-size="5.5" text-anchor="start" fill="#222" font-family='"Liberation Sans", sans-serif' transform="rotate(90 456.86 561.89)" stroke="#222" stroke-width="0.12">D25.B3</text>
<text x="465.35" y="561.89" font-size="5.5" text-anchor="start" fill="#222" font-family='"Liberation Sans", sans-serif' transform="rotate(90 465.35 561.89)" stroke="#222" stroke-width="0.12">D25.E1</text>
<text x="473.85" y="561.89" font-size="5.5" text-anchor="start" fill="#222" font-family='"Liberation Sans", sans-serif' transform="rotate(90 473.85 561.89)" stroke="#222" stroke-width="0.12">D25.E2</text>
<text x="482.35" y="561.89" font-size="5.5" text-anchor="start" fill="#222" font-family='"Liberation Sans", sans-serif' transform="rotate(90 482.35 561.89)" stroke="#222" stroke-width="0.12">D25.E3</text>
<text x="490.84" y="561.89" font-size="5.5" text-anchor="start" fill="#222" font-family='"Liberation Sans", sans-serif' transform="rotate(90 490.84 561.89)" stroke="#222" stroke-width="0.12">D35.A1</text>
<text x="499.34" y="561.89" font-size="5.5" text-anchor="start" fill="#222" font-family='"Liberation Sans", sans-serif' transform="rotate(90 499.34 561.89)" stroke="#222" stroke-width="0.12">D35.A2</text>
<text x="507.83" y="561.89" font-size="5.5" text-anchor="start" fill="#222" font-family='"Liberation Sans", sans-serif' transform="rotate(90 507.83 561.89)" stroke="#222" stroke-width="0.12">D35.A3</text>
<text x="516.33" y="561.89" font-size="5.5" text-anchor="start" fill="#222" font-family='"Liberation Sans", sans-serif' transform="rotate(90 516.33 561.89)" stroke="#222" stroke-width="0.12">D35.B1</text>
<text x="524.82" y="561.89" font-size="5.5" text-anchor="start" fill="#222" font-family='"Liberation Sans", sans-serif' transform="rotate(90 524.82 561.89)" stroke="#222" stroke-width="0.12">D35.B2</text>
<text x="533.32" y="561.89" font-size="5.5" text-anchor="start" fill="#222" font-family='"Liberation Sans", sans-serif' transform="rotate(90 533.32 561.89)" stroke="#222" stroke-width="0.12">D35.B3</text>
<text x="541.81" y="561.89" font-size="5.5" text-anchor="start" fill="#222" font-family='"Liberation Sans", sans-serif' transform="rotate(90 541.81 561.89)" stroke="#222" stroke-width="0.12">D35.E1</text>
<text x="550.31" y="561.89" font-size="5.5" text-anchor="start" fill="#222" font-family='"Liberation Sans", sans-serif' transform="rotate(90 550.31 561.89)" stroke="#222" stroke-width="0.12">D35.E2</text>
<text x="558.80" y="561.89" font-size="5.5" text-anchor="start" fill="#222" font-family='"Liberation Sans", sans-serif' transform="rotate(90 558.80 561.89)" stroke="#222" stroke-width="0.12">D35.E3</text>
<defs><linearGradient id="cbD" x1="0" y1="0" x2="0" y2="1"><stop offset="0.000" stop-color="#d73027"/><stop offset="0.167" stop-color="#fc8d59"/><stop offset="0.333" stop-color="#fee090"/><stop offset="0.500" stop-color="#ffffbf"/><stop offset="0.667" stop-color="#e0f3f8"/><stop offset="0.833" stop-color="#91bfdb"/><stop offset="1.000" stop-color="#4575b4"/></linearGradient></defs>
<rect x="621.00" y="258.00" width="2.40" height="41.50" fill="url(#cbD)"/>
<text x="625.00" y="263.90" font-size="5.1" text-anchor="start" fill="#222" font-family='"Liberation Sans", sans-serif' stroke="#222" stroke-width="0.12">3</text>
<text x="625.00" y="269.42" font-size="5.1" text-anchor="start" fill="#222" font-family='"Liberation Sans", sans-serif' stroke="#222" stroke-width="0.12">2</text>
<text x="625.00" y="274.94" font-size="5.1" text-anchor="start" fill="#222" font-family='"Liberation Sans", sans-serif' stroke="#222" stroke-width="0.12">1</text>
<text x="625.00" y="280.46" font-size="5.1" text-anchor="start" fill="#222" font-family='"Liberation Sans", sans-serif' stroke="#222" stroke-width="0.12">0</text>
<text x="624.20" y="285.98" font-size="5.1" text-anchor="start" fill="#222" font-family='"Liberation Sans", sans-serif' stroke="#222" stroke-width="0.12">−1</text>
<text x="624.20" y="291.50" font-size="5.1" text-anchor="start" fill="#222" font-family='"Liberation Sans", sans-serif' stroke="#222" stroke-width="0.12">−2</text>
<text x="624.20" y="297.02" font-size="5.1" text-anchor="start" fill="#222" font-family='"Liberation Sans", sans-serif' stroke="#222" stroke-width="0.12">−3</text>
<text x="637.00" y="261.00" font-size="5.5" text-anchor="start" fill="#111" font-weight="bold" font-family='"Liberation Sans", sans-serif' stroke="#111" stroke-width="0.12">Group</text>
<rect x="637.00" y="263.40" width="8.00" height="8.15" fill="#3D9BE9"/>
<text x="646.80" y="269.40" font-size="5.45" text-anchor="start" fill="#222" font-family='"Liberation Sans", sans-serif' stroke="#222" stroke-width="0.12">DO.CK</text>
<rect x="637.00" y="271.50" width="8.00" height="8.15" fill="#F8696B"/>
<text x="646.80" y="277.50" font-size="5.45" text-anchor="start" fill="#222" font-family='"Liberation Sans", sans-serif' stroke="#222" stroke-width="0.12">D25.A</text>
<rect x="637.00" y="279.60" width="8.00" height="8.15" fill="#00BA0E"/>
<text x="646.80" y="285.60" font-size="5.45" text-anchor="start" fill="#222" font-family='"Liberation Sans", sans-serif' stroke="#222" stroke-width="0.12">D25.B</text>
<rect x="637.00" y="287.70" width="8.00" height="8.15" fill="#E7399D"/>
<text x="646.80" y="293.70" font-size="5.45" text-anchor="start" fill="#222" font-family='"Liberation Sans", sans-serif' stroke="#222" stroke-width="0.12">D25.E</text>
<rect x="637.00" y="295.80" width="8.00" height="8.15" fill="#C8385A"/>
<text x="646.80" y="301.80" font-size="5.45" text-anchor="start" fill="#222" font-family='"Liberation Sans", sans-serif' stroke="#222" stroke-width="0.12">D35.A</text>
<rect x="637.00" y="303.90" width="8.00" height="8.15" fill="#16A3D4"/>
<text x="646.80" y="309.90" font-size="5.45" text-anchor="start" fill="#222" font-family='"Liberation Sans", sans-serif' stroke="#222" stroke-width="0.12">D35.B</text>
<rect x="637.00" y="312.00" width="8.00" height="8.15" fill="#66EE00"/>
<text x="646.80" y="318.00" font-size="5.45" text-anchor="start" fill="#222" font-family='"Liberation Sans", sans-serif' stroke="#222" stroke-width="0.12">D35.E</text>
<text x="637.00" y="330.30" font-size="5.5" text-anchor="start" fill="#111" font-weight="bold" font-family='"Liberation Sans", sans-serif' stroke="#111" stroke-width="0.12">Phylum</text>
<rect x="637.00" y="332.60" width="8.00" height="8.18" fill="#C8385A"/>
<text x="646.80" y="338.60" font-size="5.45" text-anchor="start" fill="#222" font-family='"Liberation Sans", sans-serif' stroke="#222" stroke-width="0.12">Verrucomicrobia</text>
<rect x="637.00" y="340.73" width="8.00" height="8.18" fill="#16A3D4"/>
<text x="646.80" y="346.73" font-size="5.45" text-anchor="start" fill="#222" font-family='"Liberation Sans", sans-serif' stroke="#222" stroke-width="0.12">Bacteroidetes</text>
<rect x="637.00" y="348.86" width="8.00" height="8.18" fill="#5CF000"/>
<text x="646.80" y="354.86" font-size="5.45" text-anchor="start" fill="#222" font-family='"Liberation Sans", sans-serif' stroke="#222" stroke-width="0.12">Ascomycota</text>
<rect x="637.00" y="356.99" width="8.00" height="8.18" fill="#B88CE0"/>
<text x="646.80" y="362.99" font-size="5.45" text-anchor="start" fill="#222" font-family='"Liberation Sans", sans-serif' stroke="#222" stroke-width="0.12">Proteobacteria</text>
<rect x="637.00" y="365.12" width="8.00" height="8.18" fill="#FF007F"/>
<text x="646.80" y="371.12" font-size="5.45" text-anchor="start" fill="#222" font-family='"Liberation Sans", sans-serif' stroke="#222" stroke-width="0.12">Chloroflexi</text>
<rect x="637.00" y="373.25" width="8.00" height="8.18" fill="#00E5D5"/>
<text x="646.80" y="379.25" font-size="5.45" text-anchor="start" fill="#222" font-family='"Liberation Sans", sans-serif' stroke="#222" stroke-width="0.12">Deinococcus - Thermus</text>
<rect x="637.00" y="381.38" width="8.00" height="8.18" fill="#F5B5F8"/>
<text x="646.80" y="387.38" font-size="5.45" text-anchor="start" fill="#222" font-family='"Liberation Sans", sans-serif' stroke="#222" stroke-width="0.12">Actinobacteria</text>
<rect x="637.00" y="389.51" width="8.00" height="8.18" fill="#F850A0"/>
<text x="646.80" y="395.51" font-size="5.45" text-anchor="start" fill="#222" font-family='"Liberation Sans", sans-serif' stroke="#222" stroke-width="0.12">Firmicutes</text>
<rect x="637.00" y="397.64" width="8.00" height="8.18" fill="#F55A78"/>
<text x="646.80" y="403.64" font-size="5.45" text-anchor="start" fill="#222" font-family='"Liberation Sans", sans-serif' stroke="#222" stroke-width="0.12">Acidobacteria</text>
<text x="391.70" y="252.20" font-size="22" text-anchor="start" fill="#000" font-family='"Liberation Serif", serif'>d</text>
<line x1="159.90" y1="613.40" x2="159.90" y2="804.00" stroke="#9a9a9a" stroke-width="0.7" stroke-dasharray="3 2.3"/>
<line x1="13.80" y1="716.20" x2="226.30" y2="716.20" stroke="#dcdcdc" stroke-width="0.6" stroke-dasharray="2.2 2.2"/>
<line x1="13.80" y1="613.40" x2="226.30" y2="613.40" stroke="#9a9a9a" stroke-width="0.8"/>
<line x1="13.80" y1="804.00" x2="226.30" y2="804.00" stroke="#a8a8a8" stroke-width="1.1"/>
<line x1="13.80" y1="613.40" x2="13.80" y2="804.00" stroke="#e4e4e4" stroke-width="0.7"/>
<line x1="226.30" y1="613.40" x2="226.30" y2="804.00" stroke="#c4c4c4" stroke-width="1.0"/>
<rect x="194.05" y="621.05" width="3.10" height="3.10" fill="#000"/>
<rect x="191.85" y="628.35" width="3.10" height="3.10" fill="#000"/>
<rect x="178.65" y="648.15" width="3.10" height="3.10" fill="#000"/>
<circle cx="216.20" cy="664.70" r="1.25" fill="#0000ff"/>
<circle cx="212.30" cy="679.80" r="1.25" fill="#0000ff"/>
<circle cx="198.90" cy="697.70" r="1.25" fill="#0000ff"/>
<path d="M168.10 715.13L170.20 718.77L166.00 718.77Z" fill="#00c000"/>
<path d="M154.90 718.03L157.00 721.67L152.80 721.67Z" fill="#00c000"/>
<path d="M152.40 719.33L154.50 722.97L150.30 722.97Z" fill="#00c000"/>
<rect x="181.80" y="727.00" width="3.20" height="3.20" fill="#ff00ff"/>
<rect x="169.70" y="731.60" width="3.20" height="3.20" fill="#ff00ff"/>
<rect x="164.50" y="760.60" width="3.20" height="3.20" fill="#ff00ff"/>
<circle cx="178.80" cy="744.00" r="1.4" fill="#ff0000"/>
<circle cx="191.40" cy="745.90" r="1.4" fill="#ff0000"/>
<circle cx="172.50" cy="753.60" r="1.4" fill="#ff0000"/>
<circle cx="182.60" cy="775.90" r="1.1" fill="#00ffff"/>
<circle cx="185.40" cy="788.60" r="1.1" fill="#00ffff"/>
<circle cx="184.80" cy="795.20" r="1.1" fill="#00ffff"/>
<polygon points="23.60,698.90 24.22,700.58 25.90,701.20 24.22,701.82 23.60,703.50 22.98,701.82 21.30,701.20 22.98,700.58" fill="#ffff00"/>
<polygon points="24.70,701.00 25.32,702.68 27.00,703.30 25.32,703.92 24.70,705.60 24.08,703.92 22.40,703.30 24.08,702.68" fill="#ffff00"/>
<polygon points="22.90,702.10 23.52,703.78 25.20,704.40 23.52,705.02 22.90,706.70 22.28,705.02 20.60,704.40 22.28,703.78" fill="#ffff00"/>
<line x1="12.60" y1="618.30" x2="13.80" y2="618.30" stroke="#888" stroke-width="0.5"/>
<text x="11.80" y="619.50" font-size="3.4" text-anchor="end" fill="#444" font-family='"Liberation Sans", sans-serif'>10</text>
<line x1="12.60" y1="667.30" x2="13.80" y2="667.30" stroke="#888" stroke-width="0.5"/>
<text x="11.80" y="668.50" font-size="3.4" text-anchor="end" fill="#444" font-family='"Liberation Sans", sans-serif'>5</text>
<line x1="12.60" y1="716.20" x2="13.80" y2="716.20" stroke="#888" stroke-width="0.5"/>
<text x="11.80" y="717.40" font-size="3.4" text-anchor="end" fill="#444" font-family='"Liberation Sans", sans-serif'>0</text>
<line x1="12.60" y1="765.10" x2="13.80" y2="765.10" stroke="#888" stroke-width="0.5"/>
<text x="11.80" y="766.30" font-size="3.4" text-anchor="end" fill="#444" font-family='"Liberation Sans", sans-serif'>−5</text>
<line x1="43.40" y1="804.00" x2="43.40" y2="805.20" stroke="#888" stroke-width="0.5"/>
<text x="43.40" y="808.60" font-size="3.4" text-anchor="middle" fill="#444" font-family='"Liberation Sans", sans-serif'>−20</text>
<line x1="101.60" y1="804.00" x2="101.60" y2="805.20" stroke="#888" stroke-width="0.5"/>
<text x="101.60" y="808.60" font-size="3.4" text-anchor="middle" fill="#444" font-family='"Liberation Sans", sans-serif'>−10</text>
<line x1="159.90" y1="804.00" x2="159.90" y2="805.20" stroke="#888" stroke-width="0.5"/>
<text x="159.90" y="808.60" font-size="3.4" text-anchor="middle" fill="#444" font-family='"Liberation Sans", sans-serif'>0</text>
<line x1="218.30" y1="804.00" x2="218.30" y2="805.20" stroke="#888" stroke-width="0.5"/>
<text x="218.30" y="808.60" font-size="3.4" text-anchor="middle" fill="#444" font-family='"Liberation Sans", sans-serif'>10</text>
<text x="119.50" y="811.80" font-size="3.6" text-anchor="middle" fill="#333" font-family='"Liberation Sans", sans-serif'>PC1, 61.39%</text>
<text x="5.60" y="708.50" font-size="3.6" text-anchor="middle" fill="#333" font-family='"Liberation Sans", sans-serif' transform="rotate(-90 5.60 708.50)">PC2, 14.59%</text>
<text x="119.50" y="611.50" font-size="4.9" text-anchor="middle" fill="#333" font-family='"Liberation Sans", sans-serif' stroke="#333" stroke-width="0.12">PCA Plot</text>
<rect x="230.45" y="692.95" width="3.10" height="3.10" fill="#000"/>
<text x="235.00" y="695.75" font-size="3.5" text-anchor="start" fill="#333" font-family='"Liberation Sans", sans-serif'>D25.A</text>
<circle cx="232.00" cy="699.50" r="1.45" fill="#ff0000"/>
<text x="235.00" y="700.75" font-size="3.5" text-anchor="start" fill="#333" font-family='"Liberation Sans", sans-serif'>D25.B</text>
<path d="M232.00 702.52L233.92 705.84L230.08 705.84Z" fill="#00c000"/>
<text x="235.00" y="705.75" font-size="3.5" text-anchor="start" fill="#333" font-family='"Liberation Sans", sans-serif'>D25.E</text>
<circle cx="232.00" cy="709.50" r="1.45" fill="#0000ff"/>
<text x="235.00" y="710.75" font-size="3.5" text-anchor="start" fill="#333" font-family='"Liberation Sans", sans-serif'>D35.A</text>
<circle cx="232.00" cy="714.50" r="1.45" fill="#00ffff"/>
<text x="235.00" y="715.75" font-size="3.5" text-anchor="start" fill="#333" font-family='"Liberation Sans", sans-serif'>D35.B</text>
<rect x="230.45" y="717.95" width="3.10" height="3.10" fill="#ff00ff"/>
<text x="235.00" y="720.75" font-size="3.5" text-anchor="start" fill="#333" font-family='"Liberation Sans", sans-serif'>D35.E</text>
<circle cx="232.00" cy="724.50" r="1.45" fill="#ffff00"/>
<text x="235.00" y="725.75" font-size="3.5" text-anchor="start" fill="#333" font-family='"Liberation Sans", sans-serif'>DO.CK</text>
<text x="17.50" y="611.00" font-size="23" text-anchor="start" fill="#000" font-family='"Liberation Serif", serif'>e</text>
<line x1="437.20" y1="614.20" x2="437.20" y2="801.10" stroke="#9a9a9a" stroke-width="0.7" stroke-dasharray="2.4 2.2"/>
<line x1="277.40" y1="711.00" x2="471.30" y2="711.00" stroke="#dedede" stroke-width="0.6" stroke-dasharray="2.2 2.4"/>
<line x1="277.40" y1="614.20" x2="471.30" y2="614.20" stroke="#c8c8c8" stroke-width="0.7"/>
<line x1="277.40" y1="801.10" x2="471.30" y2="801.10" stroke="#5a5a5a" stroke-width="1.0"/>
<line x1="277.40" y1="614.20" x2="277.40" y2="801.10" stroke="#eeeeee" stroke-width="0.6"/>
<line x1="471.30" y1="614.20" x2="471.30" y2="801.10" stroke="#6a6a6a" stroke-width="1.0"/>
<rect x="284.00" y="672.20" width="3.60" height="3.60" fill="#000"/>
<rect x="284.00" y="719.60" width="3.60" height="3.60" fill="#000"/>
<rect x="284.00" y="735.70" width="3.60" height="3.60" fill="#000"/>
<circle cx="462.40" cy="622.60" r="2.1" fill="#ff0000"/>
<circle cx="462.40" cy="626.80" r="2.1" fill="#ff0000"/>
<circle cx="462.40" cy="649.90" r="2.1" fill="#ff0000"/>
<circle cx="462.40" cy="664.40" r="1.5" fill="#00ffff"/>
<circle cx="462.40" cy="672.90" r="1.5" fill="#00ffff"/>
<circle cx="462.40" cy="689.50" r="1.5" fill="#00ffff"/>
<path d="M462.40 703.20L464.70 705.50L462.40 707.80L460.10 705.50Z" fill="#0000ff"/>
<path d="M462.40 709.30L464.70 711.60L462.40 713.90L460.10 711.60Z" fill="#0000ff"/>
<polygon points="462.40,716.10 463.02,717.78 464.70,718.40 463.02,719.02 462.40,720.70 461.78,719.02 460.10,718.40 461.78,717.78" fill="#ffff30"/>
<polygon points="462.40,723.30 463.02,724.98 464.70,725.60 463.02,726.22 462.40,727.90 461.78,726.22 460.10,725.60 461.78,724.98" fill="#ffff30"/>
<polygon points="462.40,754.50 463.02,756.18 464.70,756.80 463.02,757.42 462.40,759.10 461.78,757.42 460.10,756.80 461.78,756.18" fill="#ffff30"/>
<path d="M462.40 725.70L464.92 730.06L459.88 730.06Z" fill="#00c000"/>
<path d="M462.40 728.90L464.92 733.26L459.88 733.26Z" fill="#00c000"/>
<path d="M462.40 741.40L464.92 745.76L459.88 745.76Z" fill="#00c000"/>
<path d="M460.30 769.00L464.50 769.00L460.30 773.20L464.50 773.20Z" fill="none" stroke="#ff60ff" stroke-width="0.6"/>
<path d="M460.30 779.90L464.50 779.90L460.30 784.10L464.50 784.10Z" fill="none" stroke="#ff60ff" stroke-width="0.6"/>
<path d="M460.30 790.50L464.50 790.50L460.30 794.70L464.50 794.70Z" fill="none" stroke="#ff60ff" stroke-width="0.6"/>
<text x="435.30" y="622.50" font-size="4.4" text-anchor="start" fill="#000" font-family='"Liberation Sans", sans-serif' stroke="#000" stroke-width="0.2">stress &lt; 0.001</text>
<line x1="276.10" y1="625.70" x2="277.40" y2="625.70" stroke="#555" stroke-width="0.5"/>
<text x="275.10" y="627.40" font-size="5.0" text-anchor="end" fill="#333" font-family='"Liberation Sans", sans-serif' stroke="#333" stroke-width="0.12">4e-04</text>
<line x1="276.10" y1="668.40" x2="277.40" y2="668.40" stroke="#555" stroke-width="0.5"/>
<text x="275.10" y="670.10" font-size="5.0" text-anchor="end" fill="#333" font-family='"Liberation Sans", sans-serif' stroke="#333" stroke-width="0.12">2e-04</text>
<line x1="276.10" y1="711.00" x2="277.40" y2="711.00" stroke="#555" stroke-width="0.5"/>
<text x="275.10" y="712.70" font-size="5.0" text-anchor="end" fill="#333" font-family='"Liberation Sans", sans-serif' stroke="#333" stroke-width="0.12">0e+00</text>
<line x1="276.10" y1="753.60" x2="277.40" y2="753.60" stroke="#555" stroke-width="0.5"/>
<text x="275.10" y="755.30" font-size="5.0" text-anchor="end" fill="#333" font-family='"Liberation Sans", sans-serif' stroke="#333" stroke-width="0.12">-2e-04</text>
<line x1="276.10" y1="796.40" x2="277.40" y2="796.40" stroke="#555" stroke-width="0.5"/>
<text x="275.10" y="798.10" font-size="5.0" text-anchor="end" fill="#333" font-family='"Liberation Sans", sans-serif' stroke="#333" stroke-width="0.12">-4e-04</text>
<line x1="289.80" y1="801.10" x2="289.80" y2="802.40" stroke="#555" stroke-width="0.5"/>
<text x="289.80" y="807.40" font-size="4.9" text-anchor="middle" fill="#333" font-family='"Liberation Sans", sans-serif' stroke="#333" stroke-width="0.12">-0.6</text>
<line x1="339.00" y1="801.10" x2="339.00" y2="802.40" stroke="#555" stroke-width="0.5"/>
<text x="339.00" y="807.40" font-size="4.9" text-anchor="middle" fill="#333" font-family='"Liberation Sans", sans-serif' stroke="#333" stroke-width="0.12">-0.4</text>
<line x1="388.10" y1="801.10" x2="388.10" y2="802.40" stroke="#555" stroke-width="0.5"/>
<text x="388.10" y="807.40" font-size="4.9" text-anchor="middle" fill="#333" font-family='"Liberation Sans", sans-serif' stroke="#333" stroke-width="0.12">-0.2</text>
<line x1="437.20" y1="801.10" x2="437.20" y2="802.40" stroke="#555" stroke-width="0.5"/>
<text x="437.20" y="807.40" font-size="4.9" text-anchor="middle" fill="#333" font-family='"Liberation Sans", sans-serif' stroke="#333" stroke-width="0.12">0.0</text>
<text x="373.80" y="812.70" font-size="4.8" text-anchor="middle" fill="#333" font-family='"Liberation Sans", sans-serif' stroke="#333" stroke-width="0.12">MDS1</text>
<text x="257.80" y="708.00" font-size="4.9" text-anchor="middle" fill="#333" font-family='"Liberation Sans", sans-serif' transform="rotate(-90 257.80 708.00)" stroke="#333" stroke-width="0.12">MDS2</text>
<text x="374.40" y="611.60" font-size="5.7" text-anchor="middle" fill="#111" font-weight="bold" font-family='"Liberation Sans", sans-serif' stroke="#111" stroke-width="0.12">NMDS Plot</text>
<rect x="475.65" y="691.35" width="3.50" height="3.50" fill="#000"/>
<text x="480.80" y="695.05" font-size="5.5" text-anchor="start" fill="#222" font-family='"Liberation Sans", sans-serif' stroke="#222" stroke-width="0.12">DO.CK</text>
<circle cx="477.40" cy="698.10" r="2.0" fill="#ff0000"/>
<text x="480.80" y="700.05" font-size="5.5" text-anchor="start" fill="#222" font-family='"Liberation Sans", sans-serif' stroke="#222" stroke-width="0.12">D25.A</text>
<path d="M477.40 700.62L479.80 704.78L475.00 704.78Z" fill="#00c000"/>
<text x="480.80" y="705.05" font-size="5.5" text-anchor="start" fill="#222" font-family='"Liberation Sans", sans-serif' stroke="#222" stroke-width="0.12">D25.B</text>
<path d="M477.40 706.00L479.50 708.10L477.40 710.20L475.30 708.10Z" fill="#0000ff"/>
<text x="480.80" y="710.05" font-size="5.5" text-anchor="start" fill="#222" font-family='"Liberation Sans", sans-serif' stroke="#222" stroke-width="0.12">D25.E</text>
<circle cx="477.40" cy="713.10" r="1.4" fill="#00ffff"/>
<text x="480.80" y="715.05" font-size="5.5" text-anchor="start" fill="#222" font-family='"Liberation Sans", sans-serif' stroke="#222" stroke-width="0.12">D35.A</text>
<path d="M475.40 716.10L479.40 716.10L475.40 720.10L479.40 720.10Z" fill="none" stroke="#ff60ff" stroke-width="0.6"/>
<text x="480.80" y="720.05" font-size="5.5" text-anchor="start" fill="#222" font-family='"Liberation Sans", sans-serif' stroke="#222" stroke-width="0.12">D35.B</text>
<polygon points="477.40,720.90 477.99,722.51 479.60,723.10 477.99,723.69 477.40,725.30 476.81,723.69 475.20,723.10 476.81,722.51" fill="#ffff30"/>
<text x="480.80" y="725.05" font-size="5.5" text-anchor="start" fill="#222" font-family='"Liberation Sans", sans-serif' stroke="#222" stroke-width="0.12">D35.E</text>
<text x="281.00" y="613.50" font-size="23" text-anchor="start" fill="#000" font-family='"Liberation Serif", serif'>f</text>
<ellipse cx="603.80" cy="676.20" rx="42.6" ry="23.0" fill="#0000ff" fill-opacity="0.5" transform="rotate(-90.000 603.80 676.20)"/>
<ellipse cx="637.73" cy="692.54" rx="42.6" ry="23.0" fill="#20b2aa" fill-opacity="0.5" transform="rotate(-38.571 637.73 692.54)"/>
<ellipse cx="646.11" cy="729.26" rx="42.6" ry="23.0" fill="#ffa500" fill-opacity="0.5" transform="rotate(12.857 646.11 729.26)"/>
<ellipse cx="622.63" cy="758.70" rx="42.6" ry="23.0" fill="#9370db" fill-opacity="0.5" transform="rotate(64.286 622.63 758.70)"/>
<ellipse cx="584.97" cy="758.70" rx="42.6" ry="23.0" fill="#98fb98" fill-opacity="0.5" transform="rotate(115.714 584.97 758.70)"/>
<ellipse cx="561.49" cy="729.26" rx="42.6" ry="23.0" fill="#f08080" fill-opacity="0.5" transform="rotate(167.143 561.49 729.26)"/>
<ellipse cx="569.87" cy="692.54" rx="42.6" ry="23.0" fill="#1e90ff" fill-opacity="0.5" transform="rotate(218.571 569.87 692.54)"/>
<circle cx="603.8" cy="719.6" r="14.7" fill="#fff"/>
<text x="603.80" y="632.50" font-size="6.3" text-anchor="middle" fill="#333" font-family='"Liberation Sans", sans-serif' stroke="#333" stroke-width="0.12">D25.A</text>
<text x="680.40" y="665.50" font-size="6.3" text-anchor="middle" fill="#333" font-family='"Liberation Sans", sans-serif' stroke="#333" stroke-width="0.12">D25.B</text>
<text x="696.60" y="744.00" font-size="6.3" text-anchor="middle" fill="#333" font-family='"Liberation Sans", sans-serif' stroke="#333" stroke-width="0.12">D25.E</text>
<text x="650.40" y="802.90" font-size="6.3" text-anchor="middle" fill="#333" font-family='"Liberation Sans", sans-serif' stroke="#333" stroke-width="0.12">D35.A</text>
<text x="557.50" y="802.90" font-size="6.3" text-anchor="middle" fill="#333" font-family='"Liberation Sans", sans-serif' stroke="#333" stroke-width="0.12">D35.B</text>
<text x="511.80" y="744.00" font-size="6.3" text-anchor="middle" fill="#333" font-family='"Liberation Sans", sans-serif' stroke="#333" stroke-width="0.12">D35.E</text>
<text x="526.50" y="665.50" font-size="6.3" text-anchor="middle" fill="#333" font-family='"Liberation Sans", sans-serif' stroke="#333" stroke-width="0.12">DO.CK</text>
<text x="603.80" y="658.60" font-size="6.5" text-anchor="middle" fill="#333" font-family='"Liberation Sans", sans-serif' stroke="#333" stroke-width="0.12">6,295</text>
<text x="651.00" y="681.30" font-size="6.5" text-anchor="middle" fill="#333" font-family='"Liberation Sans", sans-serif' stroke="#333" stroke-width="0.12">1,540</text>
<text x="662.70" y="732.30" font-size="6.5" text-anchor="middle" fill="#333" font-family='"Liberation Sans", sans-serif' stroke="#333" stroke-width="0.12">1,450</text>
<text x="629.70" y="773.50" font-size="6.5" text-anchor="middle" fill="#333" font-family='"Liberation Sans", sans-serif' stroke="#333" stroke-width="0.12">5,419</text>
<text x="578.10" y="773.50" font-size="6.5" text-anchor="middle" fill="#333" font-family='"Liberation Sans", sans-serif' stroke="#333" stroke-width="0.12">4,749</text>
<text x="544.80" y="732.30" font-size="6.5" text-anchor="middle" fill="#333" font-family='"Liberation Sans", sans-serif' stroke="#333" stroke-width="0.12">1,100</text>
<text x="556.60" y="681.30" font-size="6.5" text-anchor="middle" fill="#333" font-family='"Liberation Sans", sans-serif' stroke="#333" stroke-width="0.12">333,840</text>
<text x="603.80" y="718.40" font-size="6.5" text-anchor="middle" fill="#333" font-family='"Liberation Sans", sans-serif' stroke="#333" stroke-width="0.12">core</text>
<text x="603.80" y="725.40" font-size="6.5" text-anchor="middle" fill="#333" font-family='"Liberation Sans", sans-serif' stroke="#333" stroke-width="0.12">272,640</text>
<text x="519.80" y="610.00" font-size="21" text-anchor="start" fill="#000" font-family='"Liberation Serif", serif'>g</text>
</svg>
</body></html>
